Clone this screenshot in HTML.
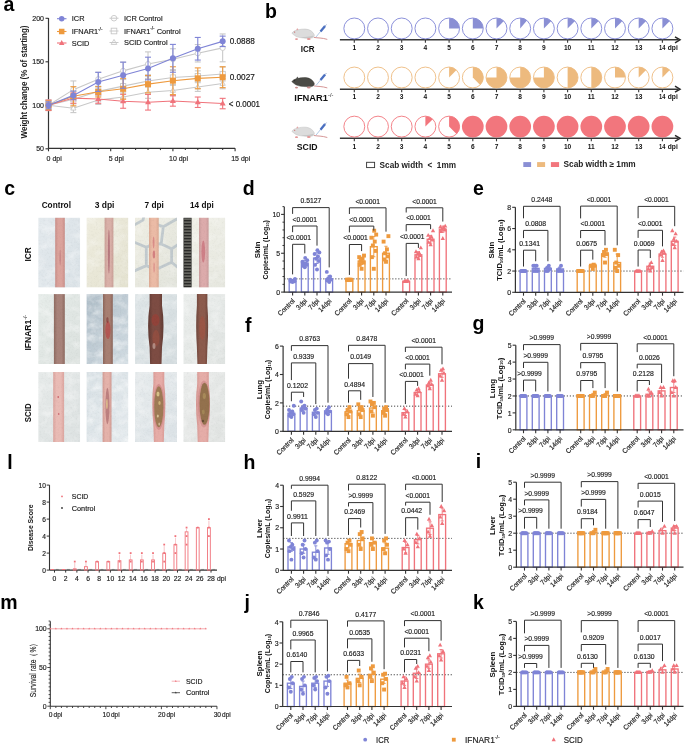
<!DOCTYPE html>
<html><head><meta charset="utf-8"><title>Figure</title>
<style>html,body{margin:0;padding:0;background:#fff;} svg{display:block;will-change:transform;font-family:"Liberation Sans", sans-serif;} svg text{stroke:#222;stroke-width:0.16px;} svg text[font-weight="bold"]{stroke-width:0;}</style>
</head><body>
<svg width="685" height="744" viewBox="0 0 685 744">
<rect width="685" height="744" fill="#fff"/>
<text x="3.5" y="10.9" font-size="19.5" text-anchor="start" fill="#000" dominant-baseline="alphabetic" font-weight="bold" >a</text>
<line x1="48.5" y1="18" x2="48.5" y2="148.3" stroke="#333333" stroke-width="1.2" />
<line x1="48.5" y1="148.3" x2="235.1" y2="148.3" stroke="#333333" stroke-width="1.2" />
<line x1="45.5" y1="148.8" x2="48.5" y2="148.8" stroke="#333333" stroke-width="1.1" />
<text x="44" y="148.8" font-size="7" text-anchor="end" fill="#222" dominant-baseline="central" >50</text>
<line x1="45.5" y1="105.3" x2="48.5" y2="105.3" stroke="#333333" stroke-width="1.1" />
<text x="44" y="105.3" font-size="7" text-anchor="end" fill="#222" dominant-baseline="central" >100</text>
<line x1="45.5" y1="61.8" x2="48.5" y2="61.8" stroke="#333333" stroke-width="1.1" />
<text x="44" y="61.8" font-size="7" text-anchor="end" fill="#222" dominant-baseline="central" >150</text>
<line x1="45.5" y1="18.3" x2="48.5" y2="18.3" stroke="#333333" stroke-width="1.1" />
<text x="44" y="18.3" font-size="7" text-anchor="end" fill="#222" dominant-baseline="central" >200</text>
<line x1="48.5" y1="148.3" x2="48.5" y2="151.3" stroke="#333333" stroke-width="1.1" />
<line x1="60.94" y1="148.3" x2="60.94" y2="150.1" stroke="#333333" stroke-width="1.1" />
<line x1="73.38" y1="148.3" x2="73.38" y2="150.1" stroke="#333333" stroke-width="1.1" />
<line x1="85.82" y1="148.3" x2="85.82" y2="150.1" stroke="#333333" stroke-width="1.1" />
<line x1="98.26" y1="148.3" x2="98.26" y2="150.1" stroke="#333333" stroke-width="1.1" />
<line x1="110.7" y1="148.3" x2="110.7" y2="151.3" stroke="#333333" stroke-width="1.1" />
<line x1="123.14" y1="148.3" x2="123.14" y2="150.1" stroke="#333333" stroke-width="1.1" />
<line x1="135.58" y1="148.3" x2="135.58" y2="150.1" stroke="#333333" stroke-width="1.1" />
<line x1="148.02" y1="148.3" x2="148.02" y2="150.1" stroke="#333333" stroke-width="1.1" />
<line x1="160.46" y1="148.3" x2="160.46" y2="150.1" stroke="#333333" stroke-width="1.1" />
<line x1="172.9" y1="148.3" x2="172.9" y2="151.3" stroke="#333333" stroke-width="1.1" />
<line x1="185.34" y1="148.3" x2="185.34" y2="150.1" stroke="#333333" stroke-width="1.1" />
<line x1="197.78" y1="148.3" x2="197.78" y2="150.1" stroke="#333333" stroke-width="1.1" />
<line x1="210.22" y1="148.3" x2="210.22" y2="150.1" stroke="#333333" stroke-width="1.1" />
<line x1="222.66" y1="148.3" x2="222.66" y2="150.1" stroke="#333333" stroke-width="1.1" />
<line x1="235.1" y1="148.3" x2="235.1" y2="151.3" stroke="#333333" stroke-width="1.1" />
<text x="46.55" y="158" font-size="7" text-anchor="start" fill="#222" dominant-baseline="central" >0 dpi</text>
<text x="108.75" y="158" font-size="7" text-anchor="start" fill="#222" dominant-baseline="central" >5 dpi</text>
<text x="169" y="158" font-size="7" text-anchor="start" fill="#222" dominant-baseline="central" >10 dpi</text>
<text x="231.2" y="158" font-size="7" text-anchor="start" fill="#222" dominant-baseline="central" >15 dpi</text>
<text x="24.5" y="82" font-size="8.2" text-anchor="middle" fill="#222" dominant-baseline="central" font-weight="bold" textLength="113" lengthAdjust="spacingAndGlyphs" transform="rotate(-90 24.5 82)" >Weight change (% of starting)</text>
<polyline points="48.5,105.3 73.38,89.64 98.26,79.2 123.14,70.85 148.02,64.06 172.9,59.19 197.78,53.27 222.66,47.88" fill="none" stroke="#c8c8c8" stroke-width="1.1"/>
<line x1="48.5" y1="100.08" x2="48.5" y2="110.52" stroke="#c8c8c8" stroke-width="1.1" />
<line x1="45.5" y1="100.08" x2="51.5" y2="100.08" stroke="#c8c8c8" stroke-width="1.1" />
<line x1="45.5" y1="110.52" x2="51.5" y2="110.52" stroke="#c8c8c8" stroke-width="1.1" />
<line x1="73.38" y1="80.94" x2="73.38" y2="98.34" stroke="#c8c8c8" stroke-width="1.1" />
<line x1="70.38" y1="80.94" x2="76.38" y2="80.94" stroke="#c8c8c8" stroke-width="1.1" />
<line x1="70.38" y1="98.34" x2="76.38" y2="98.34" stroke="#c8c8c8" stroke-width="1.1" />
<line x1="98.26" y1="72.24" x2="98.26" y2="86.16" stroke="#c8c8c8" stroke-width="1.1" />
<line x1="95.26" y1="72.24" x2="101.26" y2="72.24" stroke="#c8c8c8" stroke-width="1.1" />
<line x1="95.26" y1="86.16" x2="101.26" y2="86.16" stroke="#c8c8c8" stroke-width="1.1" />
<line x1="123.14" y1="62.15" x2="123.14" y2="79.55" stroke="#c8c8c8" stroke-width="1.1" />
<line x1="120.14" y1="62.15" x2="126.14" y2="62.15" stroke="#c8c8c8" stroke-width="1.1" />
<line x1="120.14" y1="79.55" x2="126.14" y2="79.55" stroke="#c8c8c8" stroke-width="1.1" />
<line x1="148.02" y1="51.88" x2="148.02" y2="76.24" stroke="#c8c8c8" stroke-width="1.1" />
<line x1="145.02" y1="51.88" x2="151.02" y2="51.88" stroke="#c8c8c8" stroke-width="1.1" />
<line x1="145.02" y1="76.24" x2="151.02" y2="76.24" stroke="#c8c8c8" stroke-width="1.1" />
<line x1="172.9" y1="48.75" x2="172.9" y2="69.63" stroke="#c8c8c8" stroke-width="1.1" />
<line x1="169.9" y1="48.75" x2="175.9" y2="48.75" stroke="#c8c8c8" stroke-width="1.1" />
<line x1="169.9" y1="69.63" x2="175.9" y2="69.63" stroke="#c8c8c8" stroke-width="1.1" />
<line x1="197.78" y1="44.57" x2="197.78" y2="61.97" stroke="#c8c8c8" stroke-width="1.1" />
<line x1="194.78" y1="44.57" x2="200.78" y2="44.57" stroke="#c8c8c8" stroke-width="1.1" />
<line x1="194.78" y1="61.97" x2="200.78" y2="61.97" stroke="#c8c8c8" stroke-width="1.1" />
<line x1="222.66" y1="33.96" x2="222.66" y2="61.8" stroke="#c8c8c8" stroke-width="1.1" />
<line x1="219.66" y1="33.96" x2="225.66" y2="33.96" stroke="#c8c8c8" stroke-width="1.1" />
<line x1="219.66" y1="61.8" x2="225.66" y2="61.8" stroke="#c8c8c8" stroke-width="1.1" />
<circle cx="48.5" cy="105.3" r="2.6" fill="#fff" stroke="#c8c8c8" stroke-width="0.9" />
<circle cx="73.38" cy="89.64" r="2.6" fill="#fff" stroke="#c8c8c8" stroke-width="0.9" />
<circle cx="98.26" cy="79.2" r="2.6" fill="#fff" stroke="#c8c8c8" stroke-width="0.9" />
<circle cx="123.14" cy="70.85" r="2.6" fill="#fff" stroke="#c8c8c8" stroke-width="0.9" />
<circle cx="148.02" cy="64.06" r="2.6" fill="#fff" stroke="#c8c8c8" stroke-width="0.9" />
<circle cx="172.9" cy="59.19" r="2.6" fill="#fff" stroke="#c8c8c8" stroke-width="0.9" />
<circle cx="197.78" cy="53.27" r="2.6" fill="#fff" stroke="#c8c8c8" stroke-width="0.9" />
<circle cx="222.66" cy="47.88" r="2.6" fill="#fff" stroke="#c8c8c8" stroke-width="0.9" />
<polyline points="48.5,105.3 73.38,99.21 98.26,91.38 123.14,86.16 148.02,80.94 172.9,77.46 197.78,76.07 222.66,73.98" fill="none" stroke="#c8c8c8" stroke-width="1.1"/>
<line x1="48.5" y1="100.08" x2="48.5" y2="110.52" stroke="#c8c8c8" stroke-width="1.1" />
<line x1="45.5" y1="100.08" x2="51.5" y2="100.08" stroke="#c8c8c8" stroke-width="1.1" />
<line x1="45.5" y1="110.52" x2="51.5" y2="110.52" stroke="#c8c8c8" stroke-width="1.1" />
<line x1="73.38" y1="91.38" x2="73.38" y2="107.04" stroke="#c8c8c8" stroke-width="1.1" />
<line x1="70.38" y1="91.38" x2="76.38" y2="91.38" stroke="#c8c8c8" stroke-width="1.1" />
<line x1="70.38" y1="107.04" x2="76.38" y2="107.04" stroke="#c8c8c8" stroke-width="1.1" />
<line x1="98.26" y1="87.03" x2="98.26" y2="95.73" stroke="#c8c8c8" stroke-width="1.1" />
<line x1="95.26" y1="87.03" x2="101.26" y2="87.03" stroke="#c8c8c8" stroke-width="1.1" />
<line x1="95.26" y1="95.73" x2="101.26" y2="95.73" stroke="#c8c8c8" stroke-width="1.1" />
<line x1="123.14" y1="79.2" x2="123.14" y2="93.12" stroke="#c8c8c8" stroke-width="1.1" />
<line x1="120.14" y1="79.2" x2="126.14" y2="79.2" stroke="#c8c8c8" stroke-width="1.1" />
<line x1="120.14" y1="93.12" x2="126.14" y2="93.12" stroke="#c8c8c8" stroke-width="1.1" />
<line x1="148.02" y1="74.85" x2="148.02" y2="87.03" stroke="#c8c8c8" stroke-width="1.1" />
<line x1="145.02" y1="74.85" x2="151.02" y2="74.85" stroke="#c8c8c8" stroke-width="1.1" />
<line x1="145.02" y1="87.03" x2="151.02" y2="87.03" stroke="#c8c8c8" stroke-width="1.1" />
<line x1="172.9" y1="70.5" x2="172.9" y2="84.42" stroke="#c8c8c8" stroke-width="1.1" />
<line x1="169.9" y1="70.5" x2="175.9" y2="70.5" stroke="#c8c8c8" stroke-width="1.1" />
<line x1="169.9" y1="84.42" x2="175.9" y2="84.42" stroke="#c8c8c8" stroke-width="1.1" />
<line x1="197.78" y1="70.85" x2="197.78" y2="81.29" stroke="#c8c8c8" stroke-width="1.1" />
<line x1="194.78" y1="70.85" x2="200.78" y2="70.85" stroke="#c8c8c8" stroke-width="1.1" />
<line x1="194.78" y1="81.29" x2="200.78" y2="81.29" stroke="#c8c8c8" stroke-width="1.1" />
<line x1="222.66" y1="67.02" x2="222.66" y2="80.94" stroke="#c8c8c8" stroke-width="1.1" />
<line x1="219.66" y1="67.02" x2="225.66" y2="67.02" stroke="#c8c8c8" stroke-width="1.1" />
<line x1="219.66" y1="80.94" x2="225.66" y2="80.94" stroke="#c8c8c8" stroke-width="1.1" />
<rect x="45.9" y="102.7" width="5.2" height="5.2" fill="#fff" stroke="#c8c8c8" stroke-width="0.9" />
<rect x="70.78" y="96.61" width="5.2" height="5.2" fill="#fff" stroke="#c8c8c8" stroke-width="0.9" />
<rect x="95.66" y="88.78" width="5.2" height="5.2" fill="#fff" stroke="#c8c8c8" stroke-width="0.9" />
<rect x="120.54" y="83.56" width="5.2" height="5.2" fill="#fff" stroke="#c8c8c8" stroke-width="0.9" />
<rect x="145.42" y="78.34" width="5.2" height="5.2" fill="#fff" stroke="#c8c8c8" stroke-width="0.9" />
<rect x="170.3" y="74.86" width="5.2" height="5.2" fill="#fff" stroke="#c8c8c8" stroke-width="0.9" />
<rect x="195.18" y="73.47" width="5.2" height="5.2" fill="#fff" stroke="#c8c8c8" stroke-width="0.9" />
<rect x="220.06" y="71.38" width="5.2" height="5.2" fill="#fff" stroke="#c8c8c8" stroke-width="0.9" />
<polyline points="48.5,105.3 73.38,108.26 98.26,100.08 123.14,97.03 148.02,92.25 172.9,90.51 197.78,87.03 222.66,83.55" fill="none" stroke="#c8c8c8" stroke-width="1.1"/>
<line x1="48.5" y1="100.95" x2="48.5" y2="109.65" stroke="#c8c8c8" stroke-width="1.1" />
<line x1="45.5" y1="100.95" x2="51.5" y2="100.95" stroke="#c8c8c8" stroke-width="1.1" />
<line x1="45.5" y1="109.65" x2="51.5" y2="109.65" stroke="#c8c8c8" stroke-width="1.1" />
<line x1="73.38" y1="103.91" x2="73.38" y2="112.61" stroke="#c8c8c8" stroke-width="1.1" />
<line x1="70.38" y1="103.91" x2="76.38" y2="103.91" stroke="#c8c8c8" stroke-width="1.1" />
<line x1="70.38" y1="112.61" x2="76.38" y2="112.61" stroke="#c8c8c8" stroke-width="1.1" />
<line x1="98.26" y1="95.73" x2="98.26" y2="104.43" stroke="#c8c8c8" stroke-width="1.1" />
<line x1="95.26" y1="95.73" x2="101.26" y2="95.73" stroke="#c8c8c8" stroke-width="1.1" />
<line x1="95.26" y1="104.43" x2="101.26" y2="104.43" stroke="#c8c8c8" stroke-width="1.1" />
<line x1="123.14" y1="91.81" x2="123.14" y2="102.25" stroke="#c8c8c8" stroke-width="1.1" />
<line x1="120.14" y1="91.81" x2="126.14" y2="91.81" stroke="#c8c8c8" stroke-width="1.1" />
<line x1="120.14" y1="102.25" x2="126.14" y2="102.25" stroke="#c8c8c8" stroke-width="1.1" />
<line x1="148.02" y1="86.16" x2="148.02" y2="98.34" stroke="#c8c8c8" stroke-width="1.1" />
<line x1="145.02" y1="86.16" x2="151.02" y2="86.16" stroke="#c8c8c8" stroke-width="1.1" />
<line x1="145.02" y1="98.34" x2="151.02" y2="98.34" stroke="#c8c8c8" stroke-width="1.1" />
<line x1="172.9" y1="85.29" x2="172.9" y2="95.73" stroke="#c8c8c8" stroke-width="1.1" />
<line x1="169.9" y1="85.29" x2="175.9" y2="85.29" stroke="#c8c8c8" stroke-width="1.1" />
<line x1="169.9" y1="95.73" x2="175.9" y2="95.73" stroke="#c8c8c8" stroke-width="1.1" />
<line x1="197.78" y1="82.68" x2="197.78" y2="91.38" stroke="#c8c8c8" stroke-width="1.1" />
<line x1="194.78" y1="82.68" x2="200.78" y2="82.68" stroke="#c8c8c8" stroke-width="1.1" />
<line x1="194.78" y1="91.38" x2="200.78" y2="91.38" stroke="#c8c8c8" stroke-width="1.1" />
<line x1="222.66" y1="78.33" x2="222.66" y2="88.77" stroke="#c8c8c8" stroke-width="1.1" />
<line x1="219.66" y1="78.33" x2="225.66" y2="78.33" stroke="#c8c8c8" stroke-width="1.1" />
<line x1="219.66" y1="88.77" x2="225.66" y2="88.77" stroke="#c8c8c8" stroke-width="1.1" />
<path d="M48.5,102.4 L51.1,107.08 L45.9,107.08 Z" stroke="#c8c8c8" stroke-width="0.9" fill="#fff" />
<path d="M73.38,105.36 L75.98,110.04 L70.78,110.04 Z" stroke="#c8c8c8" stroke-width="0.9" fill="#fff" />
<path d="M98.26,97.18 L100.86,101.86 L95.66,101.86 Z" stroke="#c8c8c8" stroke-width="0.9" fill="#fff" />
<path d="M123.14,94.13 L125.74,98.81 L120.54,98.81 Z" stroke="#c8c8c8" stroke-width="0.9" fill="#fff" />
<path d="M148.02,89.35 L150.62,94.03 L145.42,94.03 Z" stroke="#c8c8c8" stroke-width="0.9" fill="#fff" />
<path d="M172.9,87.61 L175.5,92.29 L170.3,92.29 Z" stroke="#c8c8c8" stroke-width="0.9" fill="#fff" />
<path d="M197.78,84.13 L200.38,88.81 L195.18,88.81 Z" stroke="#c8c8c8" stroke-width="0.9" fill="#fff" />
<path d="M222.66,80.65 L225.26,85.33 L220.06,85.33 Z" stroke="#c8c8c8" stroke-width="0.9" fill="#fff" />
<polyline points="48.5,105.3 73.38,98.08 98.26,98.95 123.14,101.3 148.02,102.25 172.9,100.95 197.78,102.25 222.66,103.56" fill="none" stroke="#f0737b" stroke-width="1.1"/>
<line x1="48.5" y1="100.08" x2="48.5" y2="110.52" stroke="#f0737b" stroke-width="1.1" />
<line x1="45.5" y1="100.08" x2="51.5" y2="100.08" stroke="#f0737b" stroke-width="1.1" />
<line x1="45.5" y1="110.52" x2="51.5" y2="110.52" stroke="#f0737b" stroke-width="1.1" />
<line x1="73.38" y1="92.86" x2="73.38" y2="103.3" stroke="#f0737b" stroke-width="1.1" />
<line x1="70.38" y1="92.86" x2="76.38" y2="92.86" stroke="#f0737b" stroke-width="1.1" />
<line x1="70.38" y1="103.3" x2="76.38" y2="103.3" stroke="#f0737b" stroke-width="1.1" />
<line x1="98.26" y1="94.6" x2="98.26" y2="103.3" stroke="#f0737b" stroke-width="1.1" />
<line x1="95.26" y1="94.6" x2="101.26" y2="94.6" stroke="#f0737b" stroke-width="1.1" />
<line x1="95.26" y1="103.3" x2="101.26" y2="103.3" stroke="#f0737b" stroke-width="1.1" />
<line x1="123.14" y1="94.34" x2="123.14" y2="108.26" stroke="#f0737b" stroke-width="1.1" />
<line x1="120.14" y1="94.34" x2="126.14" y2="94.34" stroke="#f0737b" stroke-width="1.1" />
<line x1="120.14" y1="108.26" x2="126.14" y2="108.26" stroke="#f0737b" stroke-width="1.1" />
<line x1="148.02" y1="94.42" x2="148.02" y2="110.08" stroke="#f0737b" stroke-width="1.1" />
<line x1="145.02" y1="94.42" x2="151.02" y2="94.42" stroke="#f0737b" stroke-width="1.1" />
<line x1="145.02" y1="110.08" x2="151.02" y2="110.08" stroke="#f0737b" stroke-width="1.1" />
<line x1="172.9" y1="95.73" x2="172.9" y2="106.17" stroke="#f0737b" stroke-width="1.1" />
<line x1="169.9" y1="95.73" x2="175.9" y2="95.73" stroke="#f0737b" stroke-width="1.1" />
<line x1="169.9" y1="106.17" x2="175.9" y2="106.17" stroke="#f0737b" stroke-width="1.1" />
<line x1="197.78" y1="97.03" x2="197.78" y2="107.47" stroke="#f0737b" stroke-width="1.1" />
<line x1="194.78" y1="97.03" x2="200.78" y2="97.03" stroke="#f0737b" stroke-width="1.1" />
<line x1="194.78" y1="107.47" x2="200.78" y2="107.47" stroke="#f0737b" stroke-width="1.1" />
<line x1="222.66" y1="98.34" x2="222.66" y2="108.78" stroke="#f0737b" stroke-width="1.1" />
<line x1="219.66" y1="98.34" x2="225.66" y2="98.34" stroke="#f0737b" stroke-width="1.1" />
<line x1="219.66" y1="108.78" x2="225.66" y2="108.78" stroke="#f0737b" stroke-width="1.1" />
<path d="M48.5,101.95 L51.5,107.35 L45.5,107.35 Z" stroke="none" stroke-width="1" fill="#f0737b" />
<path d="M73.38,94.73 L76.38,100.13 L70.38,100.13 Z" stroke="none" stroke-width="1" fill="#f0737b" />
<path d="M98.26,95.6 L101.26,101 L95.26,101 Z" stroke="none" stroke-width="1" fill="#f0737b" />
<path d="M123.14,97.95 L126.14,103.35 L120.14,103.35 Z" stroke="none" stroke-width="1" fill="#f0737b" />
<path d="M148.02,98.91 L151.02,104.31 L145.02,104.31 Z" stroke="none" stroke-width="1" fill="#f0737b" />
<path d="M172.9,97.6 L175.9,103 L169.9,103 Z" stroke="none" stroke-width="1" fill="#f0737b" />
<path d="M197.78,98.91 L200.78,104.31 L194.78,104.31 Z" stroke="none" stroke-width="1" fill="#f0737b" />
<path d="M222.66,100.21 L225.66,105.61 L219.66,105.61 Z" stroke="none" stroke-width="1" fill="#f0737b" />
<polyline points="48.5,105.3 73.38,96.25 98.26,91.81 123.14,88.77 148.02,84.16 172.9,80.68 197.78,78.33 222.66,77.2" fill="none" stroke="#ee9a3e" stroke-width="1.1"/>
<line x1="48.5" y1="100.95" x2="48.5" y2="109.65" stroke="#ee9a3e" stroke-width="1.1" />
<line x1="45.5" y1="100.95" x2="51.5" y2="100.95" stroke="#ee9a3e" stroke-width="1.1" />
<line x1="45.5" y1="109.65" x2="51.5" y2="109.65" stroke="#ee9a3e" stroke-width="1.1" />
<line x1="73.38" y1="86.68" x2="73.38" y2="105.82" stroke="#ee9a3e" stroke-width="1.1" />
<line x1="70.38" y1="86.68" x2="76.38" y2="86.68" stroke="#ee9a3e" stroke-width="1.1" />
<line x1="70.38" y1="105.82" x2="76.38" y2="105.82" stroke="#ee9a3e" stroke-width="1.1" />
<line x1="98.26" y1="86.59" x2="98.26" y2="97.03" stroke="#ee9a3e" stroke-width="1.1" />
<line x1="95.26" y1="86.59" x2="101.26" y2="86.59" stroke="#ee9a3e" stroke-width="1.1" />
<line x1="95.26" y1="97.03" x2="101.26" y2="97.03" stroke="#ee9a3e" stroke-width="1.1" />
<line x1="123.14" y1="78.33" x2="123.14" y2="99.21" stroke="#ee9a3e" stroke-width="1.1" />
<line x1="120.14" y1="78.33" x2="126.14" y2="78.33" stroke="#ee9a3e" stroke-width="1.1" />
<line x1="120.14" y1="99.21" x2="126.14" y2="99.21" stroke="#ee9a3e" stroke-width="1.1" />
<line x1="148.02" y1="75.46" x2="148.02" y2="92.86" stroke="#ee9a3e" stroke-width="1.1" />
<line x1="145.02" y1="75.46" x2="151.02" y2="75.46" stroke="#ee9a3e" stroke-width="1.1" />
<line x1="145.02" y1="92.86" x2="151.02" y2="92.86" stroke="#ee9a3e" stroke-width="1.1" />
<line x1="172.9" y1="66.76" x2="172.9" y2="94.6" stroke="#ee9a3e" stroke-width="1.1" />
<line x1="169.9" y1="66.76" x2="175.9" y2="66.76" stroke="#ee9a3e" stroke-width="1.1" />
<line x1="169.9" y1="94.6" x2="175.9" y2="94.6" stroke="#ee9a3e" stroke-width="1.1" />
<line x1="197.78" y1="67.89" x2="197.78" y2="88.77" stroke="#ee9a3e" stroke-width="1.1" />
<line x1="194.78" y1="67.89" x2="200.78" y2="67.89" stroke="#ee9a3e" stroke-width="1.1" />
<line x1="194.78" y1="88.77" x2="200.78" y2="88.77" stroke="#ee9a3e" stroke-width="1.1" />
<line x1="222.66" y1="66.76" x2="222.66" y2="87.64" stroke="#ee9a3e" stroke-width="1.1" />
<line x1="219.66" y1="66.76" x2="225.66" y2="66.76" stroke="#ee9a3e" stroke-width="1.1" />
<line x1="219.66" y1="87.64" x2="225.66" y2="87.64" stroke="#ee9a3e" stroke-width="1.1" />
<rect x="45.5" y="102.3" width="6" height="6" fill="#ee9a3e" stroke="none" stroke-width="1" />
<rect x="70.38" y="93.25" width="6" height="6" fill="#ee9a3e" stroke="none" stroke-width="1" />
<rect x="95.26" y="88.81" width="6" height="6" fill="#ee9a3e" stroke="none" stroke-width="1" />
<rect x="120.14" y="85.77" width="6" height="6" fill="#ee9a3e" stroke="none" stroke-width="1" />
<rect x="145.02" y="81.16" width="6" height="6" fill="#ee9a3e" stroke="none" stroke-width="1" />
<rect x="169.9" y="77.68" width="6" height="6" fill="#ee9a3e" stroke="none" stroke-width="1" />
<rect x="194.78" y="75.33" width="6" height="6" fill="#ee9a3e" stroke="none" stroke-width="1" />
<rect x="219.66" y="74.2" width="6" height="6" fill="#ee9a3e" stroke="none" stroke-width="1" />
<polyline points="48.5,105.3 73.38,95.38 98.26,81.9 123.14,75.2 148.02,68.5 172.9,58.32 197.78,48.75 222.66,41.35" fill="none" stroke="#7f84d6" stroke-width="1.1"/>
<line x1="48.5" y1="101.82" x2="48.5" y2="108.78" stroke="#7f84d6" stroke-width="1.1" />
<line x1="45.5" y1="101.82" x2="51.5" y2="101.82" stroke="#7f84d6" stroke-width="1.1" />
<line x1="45.5" y1="108.78" x2="51.5" y2="108.78" stroke="#7f84d6" stroke-width="1.1" />
<line x1="73.38" y1="91.03" x2="73.38" y2="99.73" stroke="#7f84d6" stroke-width="1.1" />
<line x1="70.38" y1="91.03" x2="76.38" y2="91.03" stroke="#7f84d6" stroke-width="1.1" />
<line x1="70.38" y1="99.73" x2="76.38" y2="99.73" stroke="#7f84d6" stroke-width="1.1" />
<line x1="98.26" y1="72.33" x2="98.26" y2="91.47" stroke="#7f84d6" stroke-width="1.1" />
<line x1="95.26" y1="72.33" x2="101.26" y2="72.33" stroke="#7f84d6" stroke-width="1.1" />
<line x1="95.26" y1="91.47" x2="101.26" y2="91.47" stroke="#7f84d6" stroke-width="1.1" />
<line x1="123.14" y1="62.15" x2="123.14" y2="88.25" stroke="#7f84d6" stroke-width="1.1" />
<line x1="120.14" y1="62.15" x2="126.14" y2="62.15" stroke="#7f84d6" stroke-width="1.1" />
<line x1="120.14" y1="88.25" x2="126.14" y2="88.25" stroke="#7f84d6" stroke-width="1.1" />
<line x1="148.02" y1="57.19" x2="148.02" y2="79.81" stroke="#7f84d6" stroke-width="1.1" />
<line x1="145.02" y1="57.19" x2="151.02" y2="57.19" stroke="#7f84d6" stroke-width="1.1" />
<line x1="145.02" y1="79.81" x2="151.02" y2="79.81" stroke="#7f84d6" stroke-width="1.1" />
<line x1="172.9" y1="44.4" x2="172.9" y2="72.24" stroke="#7f84d6" stroke-width="1.1" />
<line x1="169.9" y1="44.4" x2="175.9" y2="44.4" stroke="#7f84d6" stroke-width="1.1" />
<line x1="169.9" y1="72.24" x2="175.9" y2="72.24" stroke="#7f84d6" stroke-width="1.1" />
<line x1="197.78" y1="37.44" x2="197.78" y2="60.06" stroke="#7f84d6" stroke-width="1.1" />
<line x1="194.78" y1="37.44" x2="200.78" y2="37.44" stroke="#7f84d6" stroke-width="1.1" />
<line x1="194.78" y1="60.06" x2="200.78" y2="60.06" stroke="#7f84d6" stroke-width="1.1" />
<line x1="222.66" y1="36.13" x2="222.66" y2="46.57" stroke="#7f84d6" stroke-width="1.1" />
<line x1="219.66" y1="36.13" x2="225.66" y2="36.13" stroke="#7f84d6" stroke-width="1.1" />
<line x1="219.66" y1="46.57" x2="225.66" y2="46.57" stroke="#7f84d6" stroke-width="1.1" />
<circle cx="48.5" cy="105.3" r="3" fill="#7f84d6" stroke="none" stroke-width="1" />
<circle cx="73.38" cy="95.38" r="3" fill="#7f84d6" stroke="none" stroke-width="1" />
<circle cx="98.26" cy="81.9" r="3" fill="#7f84d6" stroke="none" stroke-width="1" />
<circle cx="123.14" cy="75.2" r="3" fill="#7f84d6" stroke="none" stroke-width="1" />
<circle cx="148.02" cy="68.5" r="3" fill="#7f84d6" stroke="none" stroke-width="1" />
<circle cx="172.9" cy="58.32" r="3" fill="#7f84d6" stroke="none" stroke-width="1" />
<circle cx="197.78" cy="48.75" r="3" fill="#7f84d6" stroke="none" stroke-width="1" />
<circle cx="222.66" cy="41.35" r="3" fill="#7f84d6" stroke="none" stroke-width="1" />
<text x="229.7" y="41" font-size="8.3" text-anchor="start" fill="#111" dominant-baseline="central" textLength="25.1" lengthAdjust="spacingAndGlyphs" >0.0888</text>
<text x="229.7" y="77" font-size="8.3" text-anchor="start" fill="#111" dominant-baseline="central" textLength="25.1" lengthAdjust="spacingAndGlyphs" >0.0027</text>
<text x="228.8" y="104" font-size="8.3" text-anchor="start" fill="#111" dominant-baseline="central" textLength="31.2" lengthAdjust="spacingAndGlyphs" >&lt; 0.0001</text>
<line x1="57" y1="18.7" x2="66.5" y2="18.7" stroke="#7f84d6" stroke-width="1.1" />
<circle cx="61.7" cy="18.7" r="2.75" fill="#7f84d6" stroke="none" stroke-width="1" />
<text x="71.8" y="18.7" font-size="7.4" text-anchor="start" fill="#222" dominant-baseline="central" >ICR</text>
<line x1="57" y1="31.5" x2="66.5" y2="31.5" stroke="#ee9a3e" stroke-width="1.1" />
<rect x="58.95" y="28.75" width="5.5" height="5.5" fill="#ee9a3e" stroke="none" stroke-width="1" />
<text x="71.8" y="31.5" font-size="7.4" fill="#222" dominant-baseline="central">IFNAR1<tspan font-size="4.6" dy="-2.6">-/-</tspan></text>
<line x1="57" y1="43" x2="66.5" y2="43" stroke="#f0737b" stroke-width="1.1" />
<path d="M61.7,39.93 L64.45,44.88 L58.95,44.88 Z" stroke="none" stroke-width="1" fill="#f0737b" />
<text x="71.8" y="43" font-size="7.4" text-anchor="start" fill="#222" dominant-baseline="central" >SCID</text>
<line x1="109.5" y1="18.2" x2="118.5" y2="18.2" stroke="#c8c8c8" stroke-width="1" />
<circle cx="114" cy="18.2" r="2.8" fill="none" stroke="#c8c8c8" stroke-width="0.9" />
<text x="124" y="18.2" font-size="7.4" text-anchor="start" fill="#222" dominant-baseline="central" >ICR Control</text>
<line x1="109.5" y1="31" x2="118.5" y2="31" stroke="#c8c8c8" stroke-width="1" />
<rect x="111.2" y="28.2" width="5.6" height="5.6" fill="none" stroke="#c8c8c8" stroke-width="0.9" />
<text x="124" y="31" font-size="7.4" fill="#222" dominant-baseline="central">IFNAR1<tspan font-size="4.6" dy="-2.6">-/-</tspan><tspan dy="2.6"> Control</tspan></text>
<line x1="109.5" y1="42.5" x2="118.5" y2="42.5" stroke="#c8c8c8" stroke-width="1" />
<path d="M114,39.38 L116.8,44.42 L111.2,44.42 Z" stroke="#c8c8c8" stroke-width="0.9" fill="none" />
<text x="124" y="42.5" font-size="7.4" text-anchor="start" fill="#222" dominant-baseline="central" >SCID Control</text>
<text x="265" y="17.5" font-size="19.5" text-anchor="start" fill="#000" dominant-baseline="alphabetic" font-weight="bold" >b</text>
<line x1="339.9" y1="39.8" x2="678" y2="39.8" stroke="#383838" stroke-width="1.4" />
<path d="M675,36.8 L680,39.8 L675,42.8" stroke="#2a2a2a" stroke-width="1.5" fill="none" />
<line x1="354.3" y1="39.8" x2="354.3" y2="42.8" stroke="#383838" stroke-width="1.1" />
<circle cx="354.3" cy="28.45" r="10.45" fill="#fff" stroke="#7f84d6" stroke-width="0.9" />
<text x="354.3" y="47.4" font-size="6.6" text-anchor="middle" fill="#111" dominant-baseline="central" font-weight="bold" >1</text>
<line x1="378" y1="39.8" x2="378" y2="42.8" stroke="#383838" stroke-width="1.1" />
<circle cx="378" cy="28.45" r="10.45" fill="#fff" stroke="#7f84d6" stroke-width="0.9" />
<text x="378" y="47.4" font-size="6.6" text-anchor="middle" fill="#111" dominant-baseline="central" font-weight="bold" >2</text>
<line x1="401.7" y1="39.8" x2="401.7" y2="42.8" stroke="#383838" stroke-width="1.1" />
<circle cx="401.7" cy="28.45" r="10.45" fill="#fff" stroke="#7f84d6" stroke-width="0.9" />
<text x="401.7" y="47.4" font-size="6.6" text-anchor="middle" fill="#111" dominant-baseline="central" font-weight="bold" >3</text>
<line x1="425.4" y1="39.8" x2="425.4" y2="42.8" stroke="#383838" stroke-width="1.1" />
<circle cx="425.4" cy="28.45" r="10.45" fill="#fff" stroke="#7f84d6" stroke-width="0.9" />
<text x="425.4" y="47.4" font-size="6.6" text-anchor="middle" fill="#111" dominant-baseline="central" font-weight="bold" >4</text>
<line x1="449.1" y1="39.8" x2="449.1" y2="42.8" stroke="#383838" stroke-width="1.1" />
<circle cx="449.1" cy="28.45" r="10.45" fill="#fff" stroke="#7f84d6" stroke-width="0.9" />
<path d="M449.1,28.45 L449.1,18 A10.45,10.45 0 0 1 459.55,28.45 Z" stroke="none" stroke-width="1" fill="#8a8fd4" />
<text x="449.1" y="47.4" font-size="6.6" text-anchor="middle" fill="#111" dominant-baseline="central" font-weight="bold" >5</text>
<line x1="472.8" y1="39.8" x2="472.8" y2="42.8" stroke="#383838" stroke-width="1.1" />
<circle cx="472.8" cy="28.45" r="10.45" fill="#fff" stroke="#7f84d6" stroke-width="0.9" />
<path d="M472.8,28.45 L472.8,18 A10.45,10.45 0 0 1 483.25,28.45 Z" stroke="none" stroke-width="1" fill="#8a8fd4" />
<text x="472.8" y="47.4" font-size="6.6" text-anchor="middle" fill="#111" dominant-baseline="central" font-weight="bold" >6</text>
<line x1="496.5" y1="39.8" x2="496.5" y2="42.8" stroke="#383838" stroke-width="1.1" />
<circle cx="496.5" cy="28.45" r="10.45" fill="#fff" stroke="#7f84d6" stroke-width="0.9" />
<path d="M496.5,28.45 L496.5,18 A10.45,10.45 0 0 1 503.89,21.06 Z" stroke="none" stroke-width="1" fill="#8a8fd4" />
<text x="496.5" y="47.4" font-size="6.6" text-anchor="middle" fill="#111" dominant-baseline="central" font-weight="bold" >7</text>
<line x1="520.2" y1="39.8" x2="520.2" y2="42.8" stroke="#383838" stroke-width="1.1" />
<circle cx="520.2" cy="28.45" r="10.45" fill="#fff" stroke="#7f84d6" stroke-width="0.9" />
<path d="M520.2,28.45 L520.2,18 A10.45,10.45 0 0 1 526.92,20.44 Z" stroke="none" stroke-width="1" fill="#8a8fd4" />
<text x="520.2" y="47.4" font-size="6.6" text-anchor="middle" fill="#111" dominant-baseline="central" font-weight="bold" >8</text>
<line x1="543.9" y1="39.8" x2="543.9" y2="42.8" stroke="#383838" stroke-width="1.1" />
<circle cx="543.9" cy="28.45" r="10.45" fill="#fff" stroke="#7f84d6" stroke-width="0.9" />
<path d="M543.9,28.45 L543.9,18 A10.45,10.45 0 0 1 551.29,21.06 Z" stroke="none" stroke-width="1" fill="#8a8fd4" />
<text x="543.9" y="47.4" font-size="6.6" text-anchor="middle" fill="#111" dominant-baseline="central" font-weight="bold" >9</text>
<line x1="567.6" y1="39.8" x2="567.6" y2="42.8" stroke="#383838" stroke-width="1.1" />
<circle cx="567.6" cy="28.45" r="10.45" fill="#fff" stroke="#7f84d6" stroke-width="0.9" />
<path d="M567.6,28.45 L567.6,18 A10.45,10.45 0 0 1 574.99,21.06 Z" stroke="none" stroke-width="1" fill="#8a8fd4" />
<text x="567.6" y="47.4" font-size="6.6" text-anchor="middle" fill="#111" dominant-baseline="central" font-weight="bold" >10</text>
<line x1="591.3" y1="39.8" x2="591.3" y2="42.8" stroke="#383838" stroke-width="1.1" />
<circle cx="591.3" cy="28.45" r="10.45" fill="#fff" stroke="#7f84d6" stroke-width="0.9" />
<path d="M591.3,28.45 L591.3,18 A10.45,10.45 0 0 1 598.69,21.06 Z" stroke="none" stroke-width="1" fill="#8a8fd4" />
<text x="591.3" y="47.4" font-size="6.6" text-anchor="middle" fill="#111" dominant-baseline="central" font-weight="bold" >11</text>
<line x1="615" y1="39.8" x2="615" y2="42.8" stroke="#383838" stroke-width="1.1" />
<circle cx="615" cy="28.45" r="10.45" fill="#fff" stroke="#7f84d6" stroke-width="0.9" />
<path d="M615,28.45 L615,18 A10.45,10.45 0 0 1 622.39,21.06 Z" stroke="none" stroke-width="1" fill="#8a8fd4" />
<text x="615" y="47.4" font-size="6.6" text-anchor="middle" fill="#111" dominant-baseline="central" font-weight="bold" >12</text>
<line x1="638.7" y1="39.8" x2="638.7" y2="42.8" stroke="#383838" stroke-width="1.1" />
<circle cx="638.7" cy="28.45" r="10.45" fill="#fff" stroke="#7f84d6" stroke-width="0.9" />
<path d="M638.7,28.45 L638.7,18 A10.45,10.45 0 0 1 646.09,21.06 Z" stroke="none" stroke-width="1" fill="#8a8fd4" />
<text x="638.7" y="47.4" font-size="6.6" text-anchor="middle" fill="#111" dominant-baseline="central" font-weight="bold" >13</text>
<line x1="662.4" y1="39.8" x2="662.4" y2="42.8" stroke="#383838" stroke-width="1.1" />
<circle cx="662.4" cy="28.45" r="10.45" fill="#fff" stroke="#7f84d6" stroke-width="0.9" />
<path d="M662.4,28.45 L662.4,18 A10.45,10.45 0 0 1 669.79,21.06 Z" stroke="none" stroke-width="1" fill="#8a8fd4" />
<text x="659" y="47.4" font-size="6.6" text-anchor="start" fill="#111" dominant-baseline="central" font-weight="bold" textLength="6.4" lengthAdjust="spacingAndGlyphs" >14</text>
<text x="667.8" y="47.6" font-size="7.2" text-anchor="start" fill="#111" dominant-baseline="central" font-weight="bold" textLength="10" lengthAdjust="spacingAndGlyphs" >dpi</text>
<line x1="339.9" y1="89.2" x2="678" y2="89.2" stroke="#383838" stroke-width="1.4" />
<path d="M675,86.2 L680,89.2 L675,92.2" stroke="#2a2a2a" stroke-width="1.5" fill="none" />
<line x1="354.3" y1="89.2" x2="354.3" y2="92.2" stroke="#383838" stroke-width="1.1" />
<circle cx="354.3" cy="77.5" r="10.45" fill="#fff" stroke="#edba7e" stroke-width="0.9" />
<text x="354.3" y="96.6" font-size="6.6" text-anchor="middle" fill="#111" dominant-baseline="central" font-weight="bold" >1</text>
<line x1="378" y1="89.2" x2="378" y2="92.2" stroke="#383838" stroke-width="1.1" />
<circle cx="378" cy="77.5" r="10.45" fill="#fff" stroke="#edba7e" stroke-width="0.9" />
<text x="378" y="96.6" font-size="6.6" text-anchor="middle" fill="#111" dominant-baseline="central" font-weight="bold" >2</text>
<line x1="401.7" y1="89.2" x2="401.7" y2="92.2" stroke="#383838" stroke-width="1.1" />
<circle cx="401.7" cy="77.5" r="10.45" fill="#fff" stroke="#edba7e" stroke-width="0.9" />
<text x="401.7" y="96.6" font-size="6.6" text-anchor="middle" fill="#111" dominant-baseline="central" font-weight="bold" >3</text>
<line x1="425.4" y1="89.2" x2="425.4" y2="92.2" stroke="#383838" stroke-width="1.1" />
<circle cx="425.4" cy="77.5" r="10.45" fill="#fff" stroke="#edba7e" stroke-width="0.9" />
<text x="425.4" y="96.6" font-size="6.6" text-anchor="middle" fill="#111" dominant-baseline="central" font-weight="bold" >4</text>
<line x1="449.1" y1="89.2" x2="449.1" y2="92.2" stroke="#383838" stroke-width="1.1" />
<circle cx="449.1" cy="77.5" r="10.45" fill="#fff" stroke="#edba7e" stroke-width="0.9" />
<path d="M449.1,77.5 L449.1,67.05 A10.45,10.45 0 0 1 456.49,70.11 Z" stroke="none" stroke-width="1" fill="#edba7e" />
<text x="449.1" y="96.6" font-size="6.6" text-anchor="middle" fill="#111" dominant-baseline="central" font-weight="bold" >5</text>
<line x1="472.8" y1="89.2" x2="472.8" y2="92.2" stroke="#383838" stroke-width="1.1" />
<circle cx="472.8" cy="77.5" r="10.45" fill="#fff" stroke="#edba7e" stroke-width="0.9" />
<path d="M472.8,77.5 L472.8,67.05 A10.45,10.45 0 0 1 480.19,84.89 Z" stroke="none" stroke-width="1" fill="#edba7e" />
<text x="472.8" y="96.6" font-size="6.6" text-anchor="middle" fill="#111" dominant-baseline="central" font-weight="bold" >6</text>
<line x1="496.5" y1="89.2" x2="496.5" y2="92.2" stroke="#383838" stroke-width="1.1" />
<circle cx="496.5" cy="77.5" r="10.45" fill="#fff" stroke="#edba7e" stroke-width="0.9" />
<path d="M496.5,77.5 L496.5,67.05 A10.45,10.45 0 1 1 486.05,77.5 Z" stroke="none" stroke-width="1" fill="#edba7e" />
<text x="496.5" y="96.6" font-size="6.6" text-anchor="middle" fill="#111" dominant-baseline="central" font-weight="bold" >7</text>
<line x1="520.2" y1="89.2" x2="520.2" y2="92.2" stroke="#383838" stroke-width="1.1" />
<circle cx="520.2" cy="77.5" r="10.45" fill="#fff" stroke="#edba7e" stroke-width="0.9" />
<path d="M520.2,77.5 L520.2,67.05 A10.45,10.45 0 1 1 509.75,77.5 Z" stroke="none" stroke-width="1" fill="#edba7e" />
<text x="520.2" y="96.6" font-size="6.6" text-anchor="middle" fill="#111" dominant-baseline="central" font-weight="bold" >8</text>
<line x1="543.9" y1="89.2" x2="543.9" y2="92.2" stroke="#383838" stroke-width="1.1" />
<circle cx="543.9" cy="77.5" r="10.45" fill="#fff" stroke="#edba7e" stroke-width="0.9" />
<path d="M543.9,77.5 L543.9,67.05 A10.45,10.45 0 1 1 533.45,77.5 Z" stroke="none" stroke-width="1" fill="#edba7e" />
<text x="543.9" y="96.6" font-size="6.6" text-anchor="middle" fill="#111" dominant-baseline="central" font-weight="bold" >9</text>
<line x1="567.6" y1="89.2" x2="567.6" y2="92.2" stroke="#383838" stroke-width="1.1" />
<circle cx="567.6" cy="77.5" r="10.45" fill="#fff" stroke="#edba7e" stroke-width="0.9" />
<path d="M567.6,77.5 L567.6,67.05 A10.45,10.45 0 0 1 567.6,87.95 Z" stroke="none" stroke-width="1" fill="#edba7e" />
<text x="567.6" y="96.6" font-size="6.6" text-anchor="middle" fill="#111" dominant-baseline="central" font-weight="bold" >10</text>
<line x1="591.3" y1="89.2" x2="591.3" y2="92.2" stroke="#383838" stroke-width="1.1" />
<circle cx="591.3" cy="77.5" r="10.45" fill="#fff" stroke="#edba7e" stroke-width="0.9" />
<path d="M591.3,77.5 L591.3,67.05 A10.45,10.45 0 0 1 591.3,87.95 Z" stroke="none" stroke-width="1" fill="#edba7e" />
<text x="591.3" y="96.6" font-size="6.6" text-anchor="middle" fill="#111" dominant-baseline="central" font-weight="bold" >11</text>
<line x1="615" y1="89.2" x2="615" y2="92.2" stroke="#383838" stroke-width="1.1" />
<circle cx="615" cy="77.5" r="10.45" fill="#fff" stroke="#edba7e" stroke-width="0.9" />
<path d="M615,77.5 L615,67.05 A10.45,10.45 0 0 1 625.45,77.5 Z" stroke="none" stroke-width="1" fill="#edba7e" />
<text x="615" y="96.6" font-size="6.6" text-anchor="middle" fill="#111" dominant-baseline="central" font-weight="bold" >12</text>
<line x1="638.7" y1="89.2" x2="638.7" y2="92.2" stroke="#383838" stroke-width="1.1" />
<circle cx="638.7" cy="77.5" r="10.45" fill="#fff" stroke="#edba7e" stroke-width="0.9" />
<path d="M638.7,77.5 L638.7,67.05 A10.45,10.45 0 0 1 646.09,70.11 Z" stroke="none" stroke-width="1" fill="#edba7e" />
<text x="638.7" y="96.6" font-size="6.6" text-anchor="middle" fill="#111" dominant-baseline="central" font-weight="bold" >13</text>
<line x1="662.4" y1="89.2" x2="662.4" y2="92.2" stroke="#383838" stroke-width="1.1" />
<circle cx="662.4" cy="77.5" r="10.45" fill="#fff" stroke="#edba7e" stroke-width="0.9" />
<path d="M662.4,77.5 L662.4,67.05 A10.45,10.45 0 0 1 669.79,70.11 Z" stroke="none" stroke-width="1" fill="#edba7e" />
<text x="659" y="96.6" font-size="6.6" text-anchor="start" fill="#111" dominant-baseline="central" font-weight="bold" textLength="6.4" lengthAdjust="spacingAndGlyphs" >14</text>
<text x="667.8" y="96.8" font-size="7.2" text-anchor="start" fill="#111" dominant-baseline="central" font-weight="bold" textLength="10" lengthAdjust="spacingAndGlyphs" >dpi</text>
<line x1="339.9" y1="138.3" x2="678" y2="138.3" stroke="#383838" stroke-width="1.4" />
<path d="M675,135.3 L680,138.3 L675,141.3" stroke="#2a2a2a" stroke-width="1.5" fill="none" />
<line x1="354.3" y1="138.3" x2="354.3" y2="141.3" stroke="#383838" stroke-width="1.1" />
<circle cx="354.3" cy="126.6" r="10.45" fill="#fff" stroke="#f2767d" stroke-width="0.9" />
<text x="354.3" y="146.2" font-size="6.6" text-anchor="middle" fill="#111" dominant-baseline="central" font-weight="bold" >1</text>
<line x1="378" y1="138.3" x2="378" y2="141.3" stroke="#383838" stroke-width="1.1" />
<circle cx="378" cy="126.6" r="10.45" fill="#fff" stroke="#f2767d" stroke-width="0.9" />
<text x="378" y="146.2" font-size="6.6" text-anchor="middle" fill="#111" dominant-baseline="central" font-weight="bold" >2</text>
<line x1="401.7" y1="138.3" x2="401.7" y2="141.3" stroke="#383838" stroke-width="1.1" />
<circle cx="401.7" cy="126.6" r="10.45" fill="#fff" stroke="#f2767d" stroke-width="0.9" />
<text x="401.7" y="146.2" font-size="6.6" text-anchor="middle" fill="#111" dominant-baseline="central" font-weight="bold" >3</text>
<line x1="425.4" y1="138.3" x2="425.4" y2="141.3" stroke="#383838" stroke-width="1.1" />
<circle cx="425.4" cy="126.6" r="10.45" fill="#fff" stroke="#f2767d" stroke-width="0.9" />
<path d="M425.4,126.6 L425.4,116.15 A10.45,10.45 0 0 1 432.79,119.21 Z" stroke="none" stroke-width="1" fill="#f2767d" />
<text x="425.4" y="146.2" font-size="6.6" text-anchor="middle" fill="#111" dominant-baseline="central" font-weight="bold" >4</text>
<line x1="449.1" y1="138.3" x2="449.1" y2="141.3" stroke="#383838" stroke-width="1.1" />
<circle cx="449.1" cy="126.6" r="10.45" fill="#fff" stroke="#f2767d" stroke-width="0.9" />
<path d="M449.1,126.6 L449.1,116.15 A10.45,10.45 0 0 1 456.49,133.99 Z" stroke="none" stroke-width="1" fill="#f2767d" />
<text x="449.1" y="146.2" font-size="6.6" text-anchor="middle" fill="#111" dominant-baseline="central" font-weight="bold" >5</text>
<line x1="472.8" y1="138.3" x2="472.8" y2="141.3" stroke="#383838" stroke-width="1.1" />
<circle cx="472.8" cy="126.6" r="10.85" fill="#f2767d" stroke="none" stroke-width="1" />
<text x="472.8" y="146.2" font-size="6.6" text-anchor="middle" fill="#111" dominant-baseline="central" font-weight="bold" >6</text>
<line x1="496.5" y1="138.3" x2="496.5" y2="141.3" stroke="#383838" stroke-width="1.1" />
<circle cx="496.5" cy="126.6" r="10.85" fill="#f2767d" stroke="none" stroke-width="1" />
<text x="496.5" y="146.2" font-size="6.6" text-anchor="middle" fill="#111" dominant-baseline="central" font-weight="bold" >7</text>
<line x1="520.2" y1="138.3" x2="520.2" y2="141.3" stroke="#383838" stroke-width="1.1" />
<circle cx="520.2" cy="126.6" r="10.85" fill="#f2767d" stroke="none" stroke-width="1" />
<text x="520.2" y="146.2" font-size="6.6" text-anchor="middle" fill="#111" dominant-baseline="central" font-weight="bold" >8</text>
<line x1="543.9" y1="138.3" x2="543.9" y2="141.3" stroke="#383838" stroke-width="1.1" />
<circle cx="543.9" cy="126.6" r="10.85" fill="#f2767d" stroke="none" stroke-width="1" />
<text x="543.9" y="146.2" font-size="6.6" text-anchor="middle" fill="#111" dominant-baseline="central" font-weight="bold" >9</text>
<line x1="567.6" y1="138.3" x2="567.6" y2="141.3" stroke="#383838" stroke-width="1.1" />
<circle cx="567.6" cy="126.6" r="10.85" fill="#f2767d" stroke="none" stroke-width="1" />
<text x="567.6" y="146.2" font-size="6.6" text-anchor="middle" fill="#111" dominant-baseline="central" font-weight="bold" >10</text>
<line x1="591.3" y1="138.3" x2="591.3" y2="141.3" stroke="#383838" stroke-width="1.1" />
<circle cx="591.3" cy="126.6" r="10.85" fill="#f2767d" stroke="none" stroke-width="1" />
<text x="591.3" y="146.2" font-size="6.6" text-anchor="middle" fill="#111" dominant-baseline="central" font-weight="bold" >11</text>
<line x1="615" y1="138.3" x2="615" y2="141.3" stroke="#383838" stroke-width="1.1" />
<circle cx="615" cy="126.6" r="10.85" fill="#f2767d" stroke="none" stroke-width="1" />
<text x="615" y="146.2" font-size="6.6" text-anchor="middle" fill="#111" dominant-baseline="central" font-weight="bold" >12</text>
<line x1="638.7" y1="138.3" x2="638.7" y2="141.3" stroke="#383838" stroke-width="1.1" />
<circle cx="638.7" cy="126.6" r="10.85" fill="#f2767d" stroke="none" stroke-width="1" />
<text x="638.7" y="146.2" font-size="6.6" text-anchor="middle" fill="#111" dominant-baseline="central" font-weight="bold" >13</text>
<line x1="662.4" y1="138.3" x2="662.4" y2="141.3" stroke="#383838" stroke-width="1.1" />
<circle cx="662.4" cy="126.6" r="10.85" fill="#f2767d" stroke="none" stroke-width="1" />
<text x="659" y="146.2" font-size="6.6" text-anchor="start" fill="#111" dominant-baseline="central" font-weight="bold" textLength="6.4" lengthAdjust="spacingAndGlyphs" >14</text>
<text x="667.8" y="146.4" font-size="7.2" text-anchor="start" fill="#111" dominant-baseline="central" font-weight="bold" textLength="10" lengthAdjust="spacingAndGlyphs" >dpi</text>
<g transform="translate(291.9,33.1)">
<path d="M22,4.3 C26,5 30,4.6 35.4,6.3" stroke="#d08a8a" stroke-width="0.9" fill="none" />
<path d="M24.1,3.9 L28.8,-1.8" stroke="#8fb0d8" stroke-width="0.7" fill="none" />
<path d="M28.6,-1.5 L33.2,-7.1" stroke="#4a6fc0" stroke-width="2.3" fill="none" />
<path d="M33,-6.8 L34.6,-8.6" stroke="#8aa0c8" stroke-width="0.8" fill="none" />
<path d="M0,0 C1,-1.5 3,-2.6 5,-3 C8,-3.8 11,-4.2 14,-4 C18,-3.6 21,-1.5 22.3,1.5 C22.8,3 22,4.6 19.5,5 C16,5.3 12,5 9,4.6 C6.5,4.3 4,3.5 2.5,2.2 C1.2,1.2 0.3,0.7 0,0 Z" stroke="#bdbdbd" stroke-width="0.45" fill="#dcdcdc" />
<path d="M9,4.4 C13,3.6 18,3.8 21.5,2.5 C21,4.4 20,4.9 18,5 C14,5.2 11,5 9,4.4 Z" stroke="none" stroke-width="1" fill="#c6c6c6" />
<path d="M4.3,-2.8 L5.3,-5 L6.6,-3.2 Z" stroke="none" stroke-width="1" fill="#e2a4a4" />
<ellipse cx="4.6" cy="6" rx="1.5" ry="0.9" fill="#e39696"/>
<ellipse cx="16.9" cy="5.8" rx="1.9" ry="1" fill="#e39696"/>
<circle cx="2.8" cy="-1" r="0.55" fill="#c55" stroke="none" stroke-width="1" />
</g>
<g transform="translate(291.9,81.6)">
<path d="M22,4.3 C26,5 30,4.6 35.4,6.3" stroke="#d08a8a" stroke-width="0.9" fill="none" />
<path d="M24.1,3.9 L28.8,-1.8" stroke="#8fb0d8" stroke-width="0.7" fill="none" />
<path d="M28.6,-1.5 L33.2,-7.1" stroke="#4a6fc0" stroke-width="2.3" fill="none" />
<path d="M33,-6.8 L34.6,-8.6" stroke="#8aa0c8" stroke-width="0.8" fill="none" />
<path d="M0,0 C1,-1.5 3,-2.6 5,-3 C8,-3.8 11,-4.2 14,-4 C18,-3.6 21,-1.5 22.3,1.5 C22.8,3 22,4.6 19.5,5 C16,5.3 12,5 9,4.6 C6.5,4.3 4,3.5 2.5,2.2 C1.2,1.2 0.3,0.7 0,0 Z" stroke="#3a3a36" stroke-width="0.45" fill="#4a4a45" />
<path d="M4.3,-2.8 L5.3,-5 L6.6,-3.2 Z" stroke="none" stroke-width="1" fill="#3d3d3a" />
<ellipse cx="4.6" cy="6" rx="1.5" ry="0.9" fill="#c98a8a"/>
<ellipse cx="16.9" cy="5.8" rx="1.9" ry="1" fill="#c98a8a"/>
<circle cx="2.8" cy="-1" r="0.55" fill="#222" stroke="none" stroke-width="1" />
</g>
<g transform="translate(291.9,131.2)">
<path d="M22,4.3 C26,5 30,4.6 35.4,6.3" stroke="#d08a8a" stroke-width="0.9" fill="none" />
<path d="M24.1,3.9 L28.8,-1.8" stroke="#8fb0d8" stroke-width="0.7" fill="none" />
<path d="M28.6,-1.5 L33.2,-7.1" stroke="#4a6fc0" stroke-width="2.3" fill="none" />
<path d="M33,-6.8 L34.6,-8.6" stroke="#8aa0c8" stroke-width="0.8" fill="none" />
<path d="M0,0 C1,-1.5 3,-2.6 5,-3 C8,-3.8 11,-4.2 14,-4 C18,-3.6 21,-1.5 22.3,1.5 C22.8,3 22,4.6 19.5,5 C16,5.3 12,5 9,4.6 C6.5,4.3 4,3.5 2.5,2.2 C1.2,1.2 0.3,0.7 0,0 Z" stroke="#bdbdbd" stroke-width="0.45" fill="#dcdcdc" />
<path d="M9,4.4 C13,3.6 18,3.8 21.5,2.5 C21,4.4 20,4.9 18,5 C14,5.2 11,5 9,4.4 Z" stroke="none" stroke-width="1" fill="#c6c6c6" />
<path d="M4.3,-2.8 L5.3,-5 L6.6,-3.2 Z" stroke="none" stroke-width="1" fill="#e2a4a4" />
<ellipse cx="4.6" cy="6" rx="1.5" ry="0.9" fill="#e39696"/>
<ellipse cx="16.9" cy="5.8" rx="1.9" ry="1" fill="#e39696"/>
<circle cx="2.8" cy="-1" r="0.55" fill="#c55" stroke="none" stroke-width="1" />
</g>
<text x="307.7" y="48.2" font-size="9.4" text-anchor="middle" fill="#111" dominant-baseline="central" font-weight="bold" textLength="14" lengthAdjust="spacingAndGlyphs" >ICR</text>
<text x="294.3" y="97.1" font-size="9.4" font-weight="bold" fill="#111" dominant-baseline="central" textLength="39" lengthAdjust="spacingAndGlyphs">IFNAR1<tspan font-size="5.6" dy="-2.2" font-weight="normal">-/-</tspan></text>
<text x="307.2" y="146.3" font-size="9.4" text-anchor="middle" fill="#111" dominant-baseline="central" font-weight="bold" textLength="20.8" lengthAdjust="spacingAndGlyphs" >SCID</text>
<rect x="366.6" y="162.3" width="8" height="5.3" fill="#fff" stroke="#333" stroke-width="0.9" />
<text x="379.6" y="165.2" font-size="8.2" text-anchor="start" fill="#222" dominant-baseline="central" font-weight="bold" textLength="76.4" lengthAdjust="spacingAndGlyphs" >Scab width&#160; &lt;&#160; 1mm</text>
<rect x="523.3" y="162.1" width="7.8" height="4.9" fill="#8a8fd4" stroke="none" stroke-width="1" />
<rect x="537.1" y="162.1" width="8" height="4.9" fill="#edba7e" stroke="none" stroke-width="1" />
<rect x="550.9" y="162.1" width="8.2" height="4.9" fill="#f2767d" stroke="none" stroke-width="1" />
<text x="563.5" y="164.8" font-size="8.2" text-anchor="start" fill="#222" dominant-baseline="central" font-weight="bold" textLength="72.2" lengthAdjust="spacingAndGlyphs" >Scab width ≥ 1mm</text>
<defs><filter id="fnoise" x="0" y="0" width="100%" height="100%" filterUnits="objectBoundingBox"><feTurbulence type="fractalNoise" baseFrequency="0.55" numOctaves="2" seed="7" result="n"/><feColorMatrix in="n" type="matrix" values="0 0 0 0 0  0 0 0 0 0  0 0 0 0 0  0.9 0 0 0 -0.42"/></filter><filter id="fcloud" x="0" y="0" width="100%" height="100%" filterUnits="objectBoundingBox"><feTurbulence type="fractalNoise" baseFrequency="0.09 0.12" numOctaves="3" seed="2" result="n"/><feColorMatrix in="n" type="matrix" values="0 0 0 0 1  0 0 0 0 1  0 0 0 0 1  1.6 0 0 0 -0.62"/></filter><filter id="fcloud2" x="0" y="0" width="100%" height="100%" filterUnits="objectBoundingBox"><feTurbulence type="fractalNoise" baseFrequency="0.12 0.08" numOctaves="3" seed="11" result="n"/><feColorMatrix in="n" type="matrix" values="0 0 0 0 0.55  0 0 0 0 0.62  0 0 0 0 0.7  1.5 0 0 0 -0.6"/></filter></defs>
<text x="4.2" y="195" font-size="19.5" text-anchor="start" fill="#000" dominant-baseline="alphabetic" font-weight="bold" >c</text>
<text x="56.3" y="204.8" font-size="8.3" text-anchor="middle" fill="#111" dominant-baseline="central" font-weight="bold" textLength="29.3" lengthAdjust="spacingAndGlyphs" >Control</text>
<text x="104.6" y="204.8" font-size="8.3" text-anchor="middle" fill="#111" dominant-baseline="central" font-weight="bold" textLength="19.8" lengthAdjust="spacingAndGlyphs" >3 dpi</text>
<text x="154.2" y="204.8" font-size="8.3" text-anchor="middle" fill="#111" dominant-baseline="central" font-weight="bold" textLength="19.4" lengthAdjust="spacingAndGlyphs" >7 dpi</text>
<text x="201.9" y="204.8" font-size="8.3" text-anchor="middle" fill="#111" dominant-baseline="central" font-weight="bold" textLength="23.7" lengthAdjust="spacingAndGlyphs" >14 dpi</text>
<text x="28.1" y="254.3" font-size="8.6" text-anchor="middle" fill="#111" dominant-baseline="central" font-weight="bold" textLength="14.4" lengthAdjust="spacingAndGlyphs" transform="rotate(-90 28.1 254.3)" >ICR</text>
<text x="28.3" y="332.8" font-size="8.6" font-weight="bold" fill="#111" text-anchor="middle" dominant-baseline="central" transform="rotate(-90 28.3 332.8)" textLength="35.5" lengthAdjust="spacingAndGlyphs">IFNAR1<tspan font-size="5" dy="-3" font-weight="normal">-/-</tspan></text>
<text x="28.1" y="412.8" font-size="8.6" text-anchor="middle" fill="#111" dominant-baseline="central" font-weight="bold" textLength="18.8" lengthAdjust="spacingAndGlyphs" transform="rotate(-90 28.1 412.8)" >SCID</text>
<clipPath id="cp00"><rect x="38.2" y="217.6" width="42" height="70"/></clipPath>
<linearGradient id="gp00" x1="0" y1="0" x2="1" y2="1"><stop offset="0" stop-color="#e3e9ed"/><stop offset="1" stop-color="#d9e1e6"/></linearGradient>
<linearGradient id="sp00" x1="0" y1="0" x2="1" y2="0"><stop offset="0" stop-color="#c98e88"/><stop offset="0.3" stop-color="#dba39c"/><stop offset="0.7" stop-color="#dba39c"/><stop offset="1" stop-color="#c98e88"/></linearGradient>
<g clip-path="url(#cp00)">
<rect x="38.2" y="217.6" width="42" height="70" fill="url(#gp00)" stroke="none" stroke-width="1" />
<rect x="38.2" y="217.6" width="42" height="70" fill="#fff" stroke="none" stroke-width="1" filter="url(#fcloud)" opacity="0.55"/>
<rect x="55.2" y="217.6" width="9.6" height="70" fill="url(#sp00)" stroke="none" stroke-width="1" />
<ellipse cx="60.2" cy="257.6" rx="0.8" ry="8" fill="#b46a70" opacity="0.45"/>
<rect x="38.2" y="217.6" width="42" height="70" fill="#000" stroke="none" stroke-width="1" filter="url(#fnoise)" opacity="0.08"/>
</g>
<clipPath id="cp10"><rect x="86.4" y="217.6" width="42" height="70"/></clipPath>
<linearGradient id="gp10" x1="0" y1="0" x2="1" y2="1"><stop offset="0" stop-color="#eeecde"/><stop offset="1" stop-color="#e4e2d0"/></linearGradient>
<linearGradient id="sp10" x1="0" y1="0" x2="1" y2="0"><stop offset="0" stop-color="#c99f97"/><stop offset="0.3" stop-color="#d9b0a8"/><stop offset="0.7" stop-color="#d9b0a8"/><stop offset="1" stop-color="#c99f97"/></linearGradient>
<g clip-path="url(#cp10)">
<rect x="86.4" y="217.6" width="42" height="70" fill="url(#gp10)" stroke="none" stroke-width="1" />
<rect x="86.4" y="217.6" width="42" height="70" fill="#fff" stroke="none" stroke-width="1" filter="url(#fcloud)" opacity="0.45"/>
<rect x="104.6" y="217.6" width="8.8" height="70" fill="url(#sp10)" stroke="none" stroke-width="1" />
<ellipse cx="108.9" cy="251.6" rx="1" ry="22" fill="#9b4d5c" opacity="0.55"/>
<rect x="86.4" y="217.6" width="42" height="70" fill="#000" stroke="none" stroke-width="1" filter="url(#fnoise)" opacity="0.08"/>
</g>
<clipPath id="cp20"><rect x="135" y="217.6" width="42" height="70"/></clipPath>
<linearGradient id="gp20" x1="0" y1="0" x2="1" y2="1"><stop offset="0" stop-color="#efeee3"/><stop offset="1" stop-color="#e2e4dc"/></linearGradient>
<linearGradient id="sp20" x1="0" y1="0" x2="1" y2="0"><stop offset="0" stop-color="#dba993"/><stop offset="0.3" stop-color="#ebbba6"/><stop offset="0.7" stop-color="#ebbba6"/><stop offset="1" stop-color="#dba993"/></linearGradient>
<g clip-path="url(#cp20)">
<rect x="135" y="217.6" width="42" height="70" fill="url(#gp20)" stroke="none" stroke-width="1" />
<rect x="135" y="217.6" width="42" height="70" fill="#fff" stroke="none" stroke-width="1" filter="url(#fcloud)" opacity="0.35"/>
<path d="M135,242.6 L146.3,247.2 L146.3,265.6 L135,270.6 M146.3,247.2 L150,245.6 M146.3,265.6 L150,267.1 M135,224.6 L143,220.1 L144,215.6 M157,243.6 L161.2,244 L171.6,248.8 L171.6,262.2 L159.2,268.1 M171.6,248.8 L178,244.6 M171.6,262.2 L178,267.6 M161.2,244 L163.3,226.7 L177.3,218.6 M163.3,226.7 L157,224.6 " stroke="#b4bfc7" stroke-width="2.8" fill="none" opacity="0.75" stroke-linejoin="round" stroke-linecap="round"/>
<rect x="149" y="217.6" width="9.7" height="70" fill="url(#sp20)" stroke="none" stroke-width="1" />
<ellipse cx="153.6" cy="242.6" rx="0.9" ry="6" fill="#c9606a" opacity="0.5"/>
<ellipse cx="153.9" cy="254.6" rx="1.2" ry="4" fill="#c05060" opacity="0.55"/>
<ellipse cx="154.1" cy="267.6" rx="0.7" ry="5" fill="#c9606a" opacity="0.45"/>
<rect x="135" y="217.6" width="42" height="70" fill="#000" stroke="none" stroke-width="1" filter="url(#fnoise)" opacity="0.08"/>
</g>
<clipPath id="cp30"><rect x="183.3" y="217.6" width="42" height="70"/></clipPath>
<linearGradient id="gp30" x1="0" y1="0" x2="1" y2="1"><stop offset="0" stop-color="#f1f1e8"/><stop offset="1" stop-color="#e6e7df"/></linearGradient>
<linearGradient id="sp30" x1="0" y1="0" x2="1" y2="0"><stop offset="0" stop-color="#c99c9c"/><stop offset="0.3" stop-color="#dcabab"/><stop offset="0.7" stop-color="#dcabab"/><stop offset="1" stop-color="#c99c9c"/></linearGradient>
<g clip-path="url(#cp30)">
<rect x="183.3" y="217.6" width="42" height="70" fill="url(#gp30)" stroke="none" stroke-width="1" />
<rect x="183.3" y="217.6" width="42" height="70" fill="#fff" stroke="none" stroke-width="1" filter="url(#fcloud)" opacity="0.45"/>
<rect x="183.3" y="217.6" width="8.3" height="70" fill="#2a2a28" stroke="none" stroke-width="1" />
<line x1="184.1" y1="219.1" x2="191.3" y2="219.1" stroke="#a8a8a0" stroke-width="0.8" />
<line x1="184.1" y1="222.1" x2="191.3" y2="222.1" stroke="#a8a8a0" stroke-width="0.8" />
<line x1="184.1" y1="225.1" x2="191.3" y2="225.1" stroke="#a8a8a0" stroke-width="0.8" />
<line x1="184.1" y1="228.1" x2="191.3" y2="228.1" stroke="#a8a8a0" stroke-width="0.8" />
<line x1="184.1" y1="231.1" x2="191.3" y2="231.1" stroke="#a8a8a0" stroke-width="0.8" />
<line x1="184.1" y1="234.1" x2="191.3" y2="234.1" stroke="#a8a8a0" stroke-width="0.8" />
<line x1="184.1" y1="237.1" x2="191.3" y2="237.1" stroke="#a8a8a0" stroke-width="0.8" />
<line x1="184.1" y1="240.1" x2="191.3" y2="240.1" stroke="#a8a8a0" stroke-width="0.8" />
<line x1="184.1" y1="243.1" x2="191.3" y2="243.1" stroke="#a8a8a0" stroke-width="0.8" />
<line x1="184.1" y1="246.1" x2="191.3" y2="246.1" stroke="#a8a8a0" stroke-width="0.8" />
<line x1="184.1" y1="249.1" x2="191.3" y2="249.1" stroke="#a8a8a0" stroke-width="0.8" />
<line x1="184.1" y1="252.1" x2="191.3" y2="252.1" stroke="#a8a8a0" stroke-width="0.8" />
<line x1="184.1" y1="255.1" x2="191.3" y2="255.1" stroke="#a8a8a0" stroke-width="0.8" />
<line x1="184.1" y1="258.1" x2="191.3" y2="258.1" stroke="#a8a8a0" stroke-width="0.8" />
<line x1="184.1" y1="261.1" x2="191.3" y2="261.1" stroke="#a8a8a0" stroke-width="0.8" />
<line x1="184.1" y1="264.1" x2="191.3" y2="264.1" stroke="#a8a8a0" stroke-width="0.8" />
<line x1="184.1" y1="267.1" x2="191.3" y2="267.1" stroke="#a8a8a0" stroke-width="0.8" />
<line x1="184.1" y1="270.1" x2="191.3" y2="270.1" stroke="#a8a8a0" stroke-width="0.8" />
<line x1="184.1" y1="273.1" x2="191.3" y2="273.1" stroke="#a8a8a0" stroke-width="0.8" />
<line x1="184.1" y1="276.1" x2="191.3" y2="276.1" stroke="#a8a8a0" stroke-width="0.8" />
<line x1="184.1" y1="279.1" x2="191.3" y2="279.1" stroke="#a8a8a0" stroke-width="0.8" />
<line x1="184.1" y1="282.1" x2="191.3" y2="282.1" stroke="#a8a8a0" stroke-width="0.8" />
<line x1="184.1" y1="285.1" x2="191.3" y2="285.1" stroke="#a8a8a0" stroke-width="0.8" />
<rect x="199" y="217.6" width="9.6" height="70" fill="url(#sp30)" stroke="none" stroke-width="1" />
<ellipse cx="203.3" cy="251.6" rx="1.8" ry="11" fill="#c25c6a" opacity="0.55"/>
<rect x="183.3" y="217.6" width="42" height="70" fill="#000" stroke="none" stroke-width="1" filter="url(#fnoise)" opacity="0.08"/>
</g>
<clipPath id="cp01"><rect x="38.2" y="294.1" width="42" height="70"/></clipPath>
<linearGradient id="gp01" x1="0" y1="0" x2="1" y2="1"><stop offset="0" stop-color="#e6ece9"/><stop offset="1" stop-color="#dbe1de"/></linearGradient>
<linearGradient id="sp01" x1="0" y1="0" x2="1" y2="0"><stop offset="0" stop-color="#8e6a60"/><stop offset="0.3" stop-color="#a8837a"/><stop offset="0.7" stop-color="#a8837a"/><stop offset="1" stop-color="#8e6a60"/></linearGradient>
<g clip-path="url(#cp01)">
<rect x="38.2" y="294.1" width="42" height="70" fill="url(#gp01)" stroke="none" stroke-width="1" />
<rect x="38.2" y="294.1" width="42" height="70" fill="#fff" stroke="none" stroke-width="1" filter="url(#fcloud)" opacity="0.55"/>
<rect x="53.9" y="294.1" width="10.9" height="70" fill="url(#sp01)" stroke="none" stroke-width="1" />
<rect x="38.2" y="294.1" width="42" height="70" fill="#000" stroke="none" stroke-width="1" filter="url(#fnoise)" opacity="0.08"/>
</g>
<clipPath id="cp11"><rect x="86.4" y="294.1" width="42" height="70"/></clipPath>
<linearGradient id="gp11" x1="0" y1="0" x2="1" y2="1"><stop offset="0" stop-color="#aebdc7"/><stop offset="1" stop-color="#d3dde3"/></linearGradient>
<linearGradient id="sp11" x1="0" y1="0" x2="1" y2="0"><stop offset="0" stop-color="#8c665b"/><stop offset="0.3" stop-color="#a77f72"/><stop offset="0.7" stop-color="#a77f72"/><stop offset="1" stop-color="#8c665b"/></linearGradient>
<g clip-path="url(#cp11)">
<rect x="86.4" y="294.1" width="42" height="70" fill="url(#gp11)" stroke="none" stroke-width="1" />
<rect x="86.4" y="294.1" width="42" height="70" fill="#000" stroke="none" stroke-width="1" filter="url(#fcloud2)" opacity="0.35"/>
<rect x="86.4" y="294.1" width="42" height="70" fill="#fff" stroke="none" stroke-width="1" filter="url(#fcloud)" opacity="0.7"/>
<rect x="103" y="294.1" width="9.8" height="70" fill="url(#sp11)" stroke="none" stroke-width="1" />
<ellipse cx="107.9" cy="330.1" rx="2.6" ry="9" fill="#b84444" opacity="0.65"/>
<ellipse cx="107.4" cy="320.1" rx="1.2" ry="3" fill="#7a3030" opacity="0.55"/>
<rect x="86.4" y="294.1" width="42" height="70" fill="#000" stroke="none" stroke-width="1" filter="url(#fnoise)" opacity="0.08"/>
</g>
<clipPath id="cp21"><rect x="135" y="294.1" width="42" height="70"/></clipPath>
<linearGradient id="gp21" x1="0" y1="0" x2="1" y2="1"><stop offset="0" stop-color="#dee5e7"/><stop offset="1" stop-color="#d3dbde"/></linearGradient>
<linearGradient id="sp21" x1="0" y1="0" x2="1" y2="0"><stop offset="0" stop-color="#5f3a33"/><stop offset="0.3" stop-color="#7d4c43"/><stop offset="0.7" stop-color="#7d4c43"/><stop offset="1" stop-color="#5f3a33"/></linearGradient>
<g clip-path="url(#cp21)">
<rect x="135" y="294.1" width="42" height="70" fill="url(#gp21)" stroke="none" stroke-width="1" />
<rect x="135" y="294.1" width="42" height="70" fill="#fff" stroke="none" stroke-width="1" filter="url(#fcloud)" opacity="0.5"/>
<path d="M149.6,294.1 L162,294.1 L162,305.6 Q165,325.6 162,347.6 L161.5,364.1 L150.1,364.1 L149.6,347.6 Q146.6,325.6 149.6,305.6 Z" stroke="none" stroke-width="1" fill="url(#sp21)" />
<ellipse cx="155.5" cy="320.1" rx="4" ry="6" fill="#9c3f35" opacity="0.65"/>
<ellipse cx="156" cy="338.1" rx="3.5" ry="8" fill="#a0503f" opacity="0.55"/>
<ellipse cx="154" cy="346.1" rx="1.5" ry="3" fill="#e0c8c0" opacity="0.5"/>
<rect x="135" y="294.1" width="42" height="70" fill="#000" stroke="none" stroke-width="1" filter="url(#fnoise)" opacity="0.08"/>
</g>
<clipPath id="cp31"><rect x="183.3" y="294.1" width="42" height="70"/></clipPath>
<linearGradient id="gp31" x1="0" y1="0" x2="1" y2="1"><stop offset="0" stop-color="#eaedeb"/><stop offset="1" stop-color="#dfe3e1"/></linearGradient>
<linearGradient id="sp31" x1="0" y1="0" x2="1" y2="0"><stop offset="0" stop-color="#6e463c"/><stop offset="0.3" stop-color="#8c5b4d"/><stop offset="0.7" stop-color="#8c5b4d"/><stop offset="1" stop-color="#6e463c"/></linearGradient>
<g clip-path="url(#cp31)">
<rect x="183.3" y="294.1" width="42" height="70" fill="url(#gp31)" stroke="none" stroke-width="1" />
<rect x="183.3" y="294.1" width="42" height="70" fill="#fff" stroke="none" stroke-width="1" filter="url(#fcloud)" opacity="0.5"/>
<path d="M196.9,294.1 L207.4,294.1 L207.4,305.6 Q208.9,325.6 207.4,347.6 L206.9,364.1 L197.4,364.1 L196.9,347.6 Q195.4,325.6 196.9,305.6 Z" stroke="none" stroke-width="1" fill="url(#sp31)" />
<ellipse cx="202.3" cy="328.1" rx="3" ry="12" fill="#a4503f" opacity="0.55"/>
<rect x="183.3" y="294.1" width="42" height="70" fill="#000" stroke="none" stroke-width="1" filter="url(#fnoise)" opacity="0.08"/>
</g>
<clipPath id="cp02"><rect x="38.2" y="372" width="42" height="70"/></clipPath>
<linearGradient id="gp02" x1="0" y1="0" x2="1" y2="1"><stop offset="0" stop-color="#e6eae9"/><stop offset="1" stop-color="#dce1e1"/></linearGradient>
<linearGradient id="sp02" x1="0" y1="0" x2="1" y2="0"><stop offset="0" stop-color="#dba49e"/><stop offset="0.3" stop-color="#e9bbb5"/><stop offset="0.7" stop-color="#e9bbb5"/><stop offset="1" stop-color="#dba49e"/></linearGradient>
<g clip-path="url(#cp02)">
<rect x="38.2" y="372" width="42" height="70" fill="url(#gp02)" stroke="none" stroke-width="1" />
<rect x="38.2" y="372" width="42" height="70" fill="#fff" stroke="none" stroke-width="1" filter="url(#fcloud)" opacity="0.5"/>
<rect x="53.2" y="372" width="10.9" height="70" fill="url(#sp02)" stroke="none" stroke-width="1" />
<ellipse cx="58.2" cy="397" rx="0.8" ry="1" fill="#c04050" opacity="0.7"/>
<ellipse cx="58.7" cy="414" rx="0.8" ry="1" fill="#c04050" opacity="0.6"/>
<rect x="38.2" y="372" width="42" height="70" fill="#000" stroke="none" stroke-width="1" filter="url(#fnoise)" opacity="0.08"/>
</g>
<clipPath id="cp12"><rect x="86.4" y="372" width="42" height="70"/></clipPath>
<linearGradient id="gp12" x1="0" y1="0" x2="1" y2="1"><stop offset="0" stop-color="#dae2e6"/><stop offset="1" stop-color="#e5ebee"/></linearGradient>
<linearGradient id="sp12" x1="0" y1="0" x2="1" y2="0"><stop offset="0" stop-color="#d09a92"/><stop offset="0.3" stop-color="#e4b2aa"/><stop offset="0.7" stop-color="#e4b2aa"/><stop offset="1" stop-color="#d09a92"/></linearGradient>
<g clip-path="url(#cp12)">
<rect x="86.4" y="372" width="42" height="70" fill="url(#gp12)" stroke="none" stroke-width="1" />
<rect x="86.4" y="372" width="42" height="70" fill="#000" stroke="none" stroke-width="1" filter="url(#fcloud2)" opacity="0.25"/>
<rect x="86.4" y="372" width="42" height="70" fill="#fff" stroke="none" stroke-width="1" filter="url(#fcloud)" opacity="0.7"/>
<rect x="102.6" y="372" width="8.9" height="70" fill="url(#sp12)" stroke="none" stroke-width="1" />
<ellipse cx="107.4" cy="406" rx="2" ry="18" fill="#9c5a5c" opacity="0.55"/>
<ellipse cx="106.9" cy="404" rx="0.9" ry="5" fill="#e8d090" opacity="0.7"/>
<rect x="86.4" y="372" width="42" height="70" fill="#000" stroke="none" stroke-width="1" filter="url(#fnoise)" opacity="0.08"/>
</g>
<clipPath id="cp22"><rect x="135" y="372" width="42" height="70"/></clipPath>
<linearGradient id="gp22" x1="0" y1="0" x2="1" y2="1"><stop offset="0" stop-color="#e8eced"/><stop offset="1" stop-color="#dbe2e6"/></linearGradient>
<linearGradient id="sp22" x1="0" y1="0" x2="1" y2="0"><stop offset="0" stop-color="#d5948f"/><stop offset="0.3" stop-color="#e6aca7"/><stop offset="0.7" stop-color="#e6aca7"/><stop offset="1" stop-color="#d5948f"/></linearGradient>
<g clip-path="url(#cp22)">
<rect x="135" y="372" width="42" height="70" fill="url(#gp22)" stroke="none" stroke-width="1" />
<rect x="135" y="372" width="42" height="70" fill="#000" stroke="none" stroke-width="1" filter="url(#fcloud2)" opacity="0.15"/>
<rect x="135" y="372" width="42" height="70" fill="#fff" stroke="none" stroke-width="1" filter="url(#fcloud)" opacity="0.5"/>
<path d="M153.4,372 L164.3,372 L164.3,383.5 Q166.5,403.5 164.3,425.5 L163.8,442 L153.9,442 L153.4,425.5 Q151.2,403.5 153.4,383.5 Z" stroke="none" stroke-width="1" fill="url(#sp22)" />
<ellipse cx="158.8" cy="407" rx="5.6" ry="23" fill="#c97f80" opacity="0.6"/>
<ellipse cx="158.8" cy="406.7" rx="4.6" ry="20.5" fill="#98784f" opacity="0.9"/>
<ellipse cx="158" cy="394" rx="1.5" ry="2.5" fill="#e8d898" opacity="0.75"/>
<ellipse cx="159.5" cy="403" rx="1.2" ry="2" fill="#e0c888" opacity="0.7"/>
<ellipse cx="157.8" cy="416" rx="1" ry="1.6" fill="#f0e0b0" opacity="0.7"/>
<ellipse cx="159.2" cy="424" rx="0.9" ry="1.5" fill="#f0e0c0" opacity="0.6"/>
<rect x="135" y="372" width="42" height="70" fill="#000" stroke="none" stroke-width="1" filter="url(#fnoise)" opacity="0.08"/>
</g>
<clipPath id="cp32"><rect x="183.3" y="372" width="42" height="70"/></clipPath>
<linearGradient id="gp32" x1="0" y1="0" x2="1" y2="1"><stop offset="0" stop-color="#eaeceb"/><stop offset="1" stop-color="#dfe2e0"/></linearGradient>
<linearGradient id="sp32" x1="0" y1="0" x2="1" y2="0"><stop offset="0" stop-color="#d4948f"/><stop offset="0.3" stop-color="#e5ada8"/><stop offset="0.7" stop-color="#e5ada8"/><stop offset="1" stop-color="#d4948f"/></linearGradient>
<g clip-path="url(#cp32)">
<rect x="183.3" y="372" width="42" height="70" fill="url(#gp32)" stroke="none" stroke-width="1" />
<rect x="183.3" y="372" width="42" height="70" fill="#fff" stroke="none" stroke-width="1" filter="url(#fcloud)" opacity="0.5"/>
<path d="M197.2,372 L208.8,372 L208.8,383.5 Q211.2,403.5 208.8,425.5 L208.3,442 L197.7,442 L197.2,425.5 Q194.8,403.5 197.2,383.5 Z" stroke="none" stroke-width="1" fill="url(#sp32)" />
<ellipse cx="203.9" cy="404" rx="6" ry="23.5" fill="#c98482" opacity="0.55"/>
<ellipse cx="204.5" cy="403.8" rx="5" ry="21" fill="#8d6e46" opacity="0.92"/>
<ellipse cx="204.3" cy="396" rx="1.6" ry="3" fill="#b09560" opacity="0.7"/>
<ellipse cx="203.3" cy="412" rx="1.4" ry="2.4" fill="#a8905a" opacity="0.7"/>
<ellipse cx="202.9" cy="421" rx="1.2" ry="1.2" fill="#3a2a20" opacity="0.5"/>
<rect x="183.3" y="372" width="42" height="70" fill="#000" stroke="none" stroke-width="1" filter="url(#fnoise)" opacity="0.08"/>
</g>
<text x="242.8" y="194.6" font-size="19.5" text-anchor="start" fill="#000" dominant-baseline="alphabetic" font-weight="bold" >d</text>
<line x1="284.3" y1="278.89" x2="452" y2="278.89" stroke="#333" stroke-width="1" stroke-dasharray="1.1 1.9"/>
<rect x="289.2" y="280.83" width="6.8" height="11.27" fill="none" stroke="#7f84d6" stroke-width="1.35" />
<rect x="301.4" y="263.12" width="6.8" height="28.98" fill="none" stroke="#7f84d6" stroke-width="1.35" />
<rect x="313.6" y="258.07" width="6.8" height="34.03" fill="none" stroke="#7f84d6" stroke-width="1.35" />
<rect x="325.8" y="278.74" width="6.8" height="13.36" fill="none" stroke="#7f84d6" stroke-width="1.35" />
<rect x="346" y="279.82" width="6.8" height="12.28" fill="none" stroke="#ee9a3e" stroke-width="1.35" />
<rect x="358.2" y="261.02" width="6.8" height="31.08" fill="none" stroke="#ee9a3e" stroke-width="1.35" />
<rect x="370.4" y="246.65" width="6.8" height="45.45" fill="none" stroke="#ee9a3e" stroke-width="1.35" />
<rect x="382.6" y="253.25" width="6.8" height="38.85" fill="none" stroke="#ee9a3e" stroke-width="1.35" />
<rect x="402.8" y="281.22" width="6.8" height="10.88" fill="none" stroke="#f0737b" stroke-width="1.35" />
<rect x="415" y="254.8" width="6.8" height="37.3" fill="none" stroke="#f0737b" stroke-width="1.35" />
<rect x="427.2" y="239.26" width="6.8" height="52.84" fill="none" stroke="#f0737b" stroke-width="1.35" />
<rect x="439.4" y="229.16" width="6.8" height="62.94" fill="none" stroke="#f0737b" stroke-width="1.35" />
<line x1="284.3" y1="206.63" x2="284.3" y2="292.1" stroke="#333333" stroke-width="1.2" />
<line x1="283.7" y1="292.1" x2="452" y2="292.1" stroke="#333333" stroke-width="1.2" />
<line x1="281.1" y1="292.1" x2="284.3" y2="292.1" stroke="#333333" stroke-width="1.1" />
<text x="280.1" y="292.3" font-size="6.9" text-anchor="end" fill="#222" dominant-baseline="central" >0</text>
<line x1="281.1" y1="253.25" x2="284.3" y2="253.25" stroke="#333333" stroke-width="1.1" />
<text x="280.1" y="253.45" font-size="6.9" text-anchor="end" fill="#222" dominant-baseline="central" >5</text>
<line x1="281.1" y1="214.4" x2="284.3" y2="214.4" stroke="#333333" stroke-width="1.1" />
<text x="280.1" y="214.6" font-size="6.9" text-anchor="end" fill="#222" dominant-baseline="central" >10</text>
<line x1="282.5" y1="284.33" x2="284.3" y2="284.33" stroke="#333333" stroke-width="1" />
<line x1="282.5" y1="276.56" x2="284.3" y2="276.56" stroke="#333333" stroke-width="1" />
<line x1="282.5" y1="268.79" x2="284.3" y2="268.79" stroke="#333333" stroke-width="1" />
<line x1="282.5" y1="261.02" x2="284.3" y2="261.02" stroke="#333333" stroke-width="1" />
<line x1="282.5" y1="245.48" x2="284.3" y2="245.48" stroke="#333333" stroke-width="1" />
<line x1="282.5" y1="237.71" x2="284.3" y2="237.71" stroke="#333333" stroke-width="1" />
<line x1="282.5" y1="229.94" x2="284.3" y2="229.94" stroke="#333333" stroke-width="1" />
<line x1="282.5" y1="222.17" x2="284.3" y2="222.17" stroke="#333333" stroke-width="1" />
<line x1="282.5" y1="206.63" x2="284.3" y2="206.63" stroke="#333333" stroke-width="1" />
<line x1="292.6" y1="292.1" x2="292.6" y2="295.5" stroke="#333333" stroke-width="1.1" />
<text x="293.6" y="299.7" font-size="6.9" fill="#222" text-anchor="end" dominant-baseline="central" textLength="21.0" lengthAdjust="spacingAndGlyphs" transform="rotate(-45 293.6 299.7)">Control</text>
<line x1="304.8" y1="292.1" x2="304.8" y2="295.5" stroke="#333333" stroke-width="1.1" />
<text x="305.8" y="299.7" font-size="6.9" fill="#222" text-anchor="end" dominant-baseline="central" textLength="12.3" lengthAdjust="spacingAndGlyphs" transform="rotate(-45 305.8 299.7)">3dpi</text>
<line x1="317" y1="292.1" x2="317" y2="295.5" stroke="#333333" stroke-width="1.1" />
<text x="318" y="299.7" font-size="6.9" fill="#222" text-anchor="end" dominant-baseline="central" textLength="12.3" lengthAdjust="spacingAndGlyphs" transform="rotate(-45 318 299.7)">7dpi</text>
<line x1="329.2" y1="292.1" x2="329.2" y2="295.5" stroke="#333333" stroke-width="1.1" />
<text x="330.2" y="299.7" font-size="6.9" fill="#222" text-anchor="end" dominant-baseline="central" textLength="15.5" lengthAdjust="spacingAndGlyphs" transform="rotate(-45 330.2 299.7)">14dpi</text>
<line x1="349.4" y1="292.1" x2="349.4" y2="295.5" stroke="#333333" stroke-width="1.1" />
<text x="350.4" y="299.7" font-size="6.9" fill="#222" text-anchor="end" dominant-baseline="central" textLength="21.0" lengthAdjust="spacingAndGlyphs" transform="rotate(-45 350.4 299.7)">Control</text>
<line x1="361.6" y1="292.1" x2="361.6" y2="295.5" stroke="#333333" stroke-width="1.1" />
<text x="362.6" y="299.7" font-size="6.9" fill="#222" text-anchor="end" dominant-baseline="central" textLength="12.3" lengthAdjust="spacingAndGlyphs" transform="rotate(-45 362.6 299.7)">3dpi</text>
<line x1="373.8" y1="292.1" x2="373.8" y2="295.5" stroke="#333333" stroke-width="1.1" />
<text x="374.8" y="299.7" font-size="6.9" fill="#222" text-anchor="end" dominant-baseline="central" textLength="12.3" lengthAdjust="spacingAndGlyphs" transform="rotate(-45 374.8 299.7)">7dpi</text>
<line x1="386" y1="292.1" x2="386" y2="295.5" stroke="#333333" stroke-width="1.1" />
<text x="387" y="299.7" font-size="6.9" fill="#222" text-anchor="end" dominant-baseline="central" textLength="15.5" lengthAdjust="spacingAndGlyphs" transform="rotate(-45 387 299.7)">14dpi</text>
<line x1="406.2" y1="292.1" x2="406.2" y2="295.5" stroke="#333333" stroke-width="1.1" />
<text x="407.2" y="299.7" font-size="6.9" fill="#222" text-anchor="end" dominant-baseline="central" textLength="21.0" lengthAdjust="spacingAndGlyphs" transform="rotate(-45 407.2 299.7)">Control</text>
<line x1="418.4" y1="292.1" x2="418.4" y2="295.5" stroke="#333333" stroke-width="1.1" />
<text x="419.4" y="299.7" font-size="6.9" fill="#222" text-anchor="end" dominant-baseline="central" textLength="12.3" lengthAdjust="spacingAndGlyphs" transform="rotate(-45 419.4 299.7)">3dpi</text>
<line x1="430.6" y1="292.1" x2="430.6" y2="295.5" stroke="#333333" stroke-width="1.1" />
<text x="431.6" y="299.7" font-size="6.9" fill="#222" text-anchor="end" dominant-baseline="central" textLength="12.3" lengthAdjust="spacingAndGlyphs" transform="rotate(-45 431.6 299.7)">7dpi</text>
<line x1="442.8" y1="292.1" x2="442.8" y2="295.5" stroke="#333333" stroke-width="1.1" />
<text x="443.8" y="299.7" font-size="6.9" fill="#222" text-anchor="end" dominant-baseline="central" textLength="15.5" lengthAdjust="spacingAndGlyphs" transform="rotate(-45 443.8 299.7)">14dpi</text>
<circle cx="292.6" cy="282" r="1.95" fill="#7f84d6" stroke="none" stroke-width="1" />
<circle cx="290.7" cy="281.61" r="1.95" fill="#7f84d6" stroke="none" stroke-width="1" />
<circle cx="294.5" cy="281.22" r="1.95" fill="#7f84d6" stroke="none" stroke-width="1" />
<circle cx="291.65" cy="280.83" r="1.95" fill="#7f84d6" stroke="none" stroke-width="1" />
<circle cx="293.55" cy="280.45" r="1.95" fill="#7f84d6" stroke="none" stroke-width="1" />
<circle cx="290.2" cy="279.67" r="1.95" fill="#7f84d6" stroke="none" stroke-width="1" />
<circle cx="295" cy="278.89" r="1.95" fill="#7f84d6" stroke="none" stroke-width="1" />
<line x1="292.6" y1="279.9" x2="292.6" y2="281.77" stroke="#7f84d6" stroke-width="0.9" />
<line x1="291" y1="279.9" x2="294.2" y2="279.9" stroke="#7f84d6" stroke-width="0.9" />
<line x1="291" y1="281.77" x2="294.2" y2="281.77" stroke="#7f84d6" stroke-width="0.9" />
<circle cx="304.8" cy="267.24" r="1.95" fill="#7f84d6" stroke="none" stroke-width="1" />
<circle cx="302.9" cy="265.68" r="1.95" fill="#7f84d6" stroke="none" stroke-width="1" />
<circle cx="306.7" cy="264.91" r="1.95" fill="#7f84d6" stroke="none" stroke-width="1" />
<circle cx="303.85" cy="264.13" r="1.95" fill="#7f84d6" stroke="none" stroke-width="1" />
<circle cx="305.75" cy="263.35" r="1.95" fill="#7f84d6" stroke="none" stroke-width="1" />
<circle cx="302.4" cy="261.8" r="1.95" fill="#7f84d6" stroke="none" stroke-width="1" />
<circle cx="307.2" cy="260.24" r="1.95" fill="#7f84d6" stroke="none" stroke-width="1" />
<circle cx="305.2" cy="257.91" r="1.95" fill="#7f84d6" stroke="none" stroke-width="1" />
<line x1="304.8" y1="260.4" x2="304.8" y2="265.84" stroke="#7f84d6" stroke-width="0.9" />
<line x1="303.2" y1="260.4" x2="306.4" y2="260.4" stroke="#7f84d6" stroke-width="0.9" />
<line x1="303.2" y1="265.84" x2="306.4" y2="265.84" stroke="#7f84d6" stroke-width="0.9" />
<circle cx="317" cy="269.57" r="1.95" fill="#7f84d6" stroke="none" stroke-width="1" />
<circle cx="315.1" cy="264.91" r="1.95" fill="#7f84d6" stroke="none" stroke-width="1" />
<circle cx="318.9" cy="261.02" r="1.95" fill="#7f84d6" stroke="none" stroke-width="1" />
<circle cx="316.05" cy="258.69" r="1.95" fill="#7f84d6" stroke="none" stroke-width="1" />
<circle cx="317.95" cy="256.36" r="1.95" fill="#7f84d6" stroke="none" stroke-width="1" />
<circle cx="314.6" cy="254.03" r="1.95" fill="#7f84d6" stroke="none" stroke-width="1" />
<circle cx="319.4" cy="252.47" r="1.95" fill="#7f84d6" stroke="none" stroke-width="1" />
<circle cx="317.4" cy="250.14" r="1.95" fill="#7f84d6" stroke="none" stroke-width="1" />
<line x1="317" y1="252.63" x2="317" y2="263.51" stroke="#7f84d6" stroke-width="0.9" />
<line x1="315.4" y1="252.63" x2="318.6" y2="252.63" stroke="#7f84d6" stroke-width="0.9" />
<line x1="315.4" y1="263.51" x2="318.6" y2="263.51" stroke="#7f84d6" stroke-width="0.9" />
<circle cx="329.2" cy="282" r="1.95" fill="#7f84d6" stroke="none" stroke-width="1" />
<circle cx="327.3" cy="280.45" r="1.95" fill="#7f84d6" stroke="none" stroke-width="1" />
<circle cx="331.1" cy="279.67" r="1.95" fill="#7f84d6" stroke="none" stroke-width="1" />
<circle cx="328.25" cy="278.11" r="1.95" fill="#7f84d6" stroke="none" stroke-width="1" />
<circle cx="330.15" cy="276.56" r="1.95" fill="#7f84d6" stroke="none" stroke-width="1" />
<circle cx="326.8" cy="271.9" r="1.95" fill="#7f84d6" stroke="none" stroke-width="1" />
<line x1="329.2" y1="275.63" x2="329.2" y2="281.84" stroke="#7f84d6" stroke-width="0.9" />
<line x1="327.6" y1="275.63" x2="330.8" y2="275.63" stroke="#7f84d6" stroke-width="0.9" />
<line x1="327.6" y1="281.84" x2="330.8" y2="281.84" stroke="#7f84d6" stroke-width="0.9" />
<rect x="347.45" y="278.11" width="3.9" height="3.9" fill="#ee9a3e" stroke="none" stroke-width="1" />
<rect x="345.55" y="278.11" width="3.9" height="3.9" fill="#ee9a3e" stroke="none" stroke-width="1" />
<rect x="349.35" y="277.87" width="3.9" height="3.9" fill="#ee9a3e" stroke="none" stroke-width="1" />
<rect x="346.5" y="277.72" width="3.9" height="3.9" fill="#ee9a3e" stroke="none" stroke-width="1" />
<rect x="348.4" y="277.72" width="3.9" height="3.9" fill="#ee9a3e" stroke="none" stroke-width="1" />
<rect x="345.05" y="277.72" width="3.9" height="3.9" fill="#ee9a3e" stroke="none" stroke-width="1" />
<line x1="349.4" y1="279.43" x2="349.4" y2="280.21" stroke="#ee9a3e" stroke-width="0.9" />
<line x1="347.8" y1="279.43" x2="351" y2="279.43" stroke="#ee9a3e" stroke-width="0.9" />
<line x1="347.8" y1="280.21" x2="351" y2="280.21" stroke="#ee9a3e" stroke-width="0.9" />
<rect x="359.65" y="266.84" width="3.9" height="3.9" fill="#ee9a3e" stroke="none" stroke-width="1" />
<rect x="357.75" y="262.96" width="3.9" height="3.9" fill="#ee9a3e" stroke="none" stroke-width="1" />
<rect x="361.55" y="260.62" width="3.9" height="3.9" fill="#ee9a3e" stroke="none" stroke-width="1" />
<rect x="358.7" y="259.07" width="3.9" height="3.9" fill="#ee9a3e" stroke="none" stroke-width="1" />
<rect x="360.6" y="256.74" width="3.9" height="3.9" fill="#ee9a3e" stroke="none" stroke-width="1" />
<rect x="357.25" y="255.19" width="3.9" height="3.9" fill="#ee9a3e" stroke="none" stroke-width="1" />
<rect x="362.05" y="253.63" width="3.9" height="3.9" fill="#ee9a3e" stroke="none" stroke-width="1" />
<line x1="361.6" y1="257.52" x2="361.6" y2="264.52" stroke="#ee9a3e" stroke-width="0.9" />
<line x1="360" y1="257.52" x2="363.2" y2="257.52" stroke="#ee9a3e" stroke-width="0.9" />
<line x1="360" y1="264.52" x2="363.2" y2="264.52" stroke="#ee9a3e" stroke-width="0.9" />
<rect x="371.85" y="266.84" width="3.9" height="3.9" fill="#ee9a3e" stroke="none" stroke-width="1" />
<rect x="369.95" y="255.19" width="3.9" height="3.9" fill="#ee9a3e" stroke="none" stroke-width="1" />
<rect x="373.75" y="248.97" width="3.9" height="3.9" fill="#ee9a3e" stroke="none" stroke-width="1" />
<rect x="370.9" y="243.53" width="3.9" height="3.9" fill="#ee9a3e" stroke="none" stroke-width="1" />
<rect x="372.8" y="239.65" width="3.9" height="3.9" fill="#ee9a3e" stroke="none" stroke-width="1" />
<rect x="369.45" y="235.76" width="3.9" height="3.9" fill="#ee9a3e" stroke="none" stroke-width="1" />
<rect x="374.25" y="232.65" width="3.9" height="3.9" fill="#ee9a3e" stroke="none" stroke-width="1" />
<rect x="372.25" y="228.77" width="3.9" height="3.9" fill="#ee9a3e" stroke="none" stroke-width="1" />
<line x1="373.8" y1="236.54" x2="373.8" y2="256.75" stroke="#ee9a3e" stroke-width="0.9" />
<line x1="372.2" y1="236.54" x2="375.4" y2="236.54" stroke="#ee9a3e" stroke-width="0.9" />
<line x1="372.2" y1="256.75" x2="375.4" y2="256.75" stroke="#ee9a3e" stroke-width="0.9" />
<rect x="384.05" y="259.85" width="3.9" height="3.9" fill="#ee9a3e" stroke="none" stroke-width="1" />
<rect x="382.15" y="257.52" width="3.9" height="3.9" fill="#ee9a3e" stroke="none" stroke-width="1" />
<rect x="385.95" y="254.41" width="3.9" height="3.9" fill="#ee9a3e" stroke="none" stroke-width="1" />
<rect x="383.1" y="251.3" width="3.9" height="3.9" fill="#ee9a3e" stroke="none" stroke-width="1" />
<rect x="385" y="247.42" width="3.9" height="3.9" fill="#ee9a3e" stroke="none" stroke-width="1" />
<rect x="381.65" y="239.65" width="3.9" height="3.9" fill="#ee9a3e" stroke="none" stroke-width="1" />
<rect x="386.45" y="234.21" width="3.9" height="3.9" fill="#ee9a3e" stroke="none" stroke-width="1" />
<line x1="386" y1="246.26" x2="386" y2="260.24" stroke="#ee9a3e" stroke-width="0.9" />
<line x1="384.4" y1="246.26" x2="387.6" y2="246.26" stroke="#ee9a3e" stroke-width="0.9" />
<line x1="384.4" y1="260.24" x2="387.6" y2="260.24" stroke="#ee9a3e" stroke-width="0.9" />
<path d="M406.2,279.21 L408.35,283.08 L404.05,283.08 Z" stroke="none" stroke-width="1" fill="#f0737b" />
<path d="M404.3,279.21 L406.45,283.08 L402.15,283.08 Z" stroke="none" stroke-width="1" fill="#f0737b" />
<path d="M408.1,278.82 L410.25,282.69 L405.95,282.69 Z" stroke="none" stroke-width="1" fill="#f0737b" />
<path d="M405.25,278.82 L407.4,282.69 L403.1,282.69 Z" stroke="none" stroke-width="1" fill="#f0737b" />
<path d="M407.15,278.43 L409.3,282.3 L405,282.3 Z" stroke="none" stroke-width="1" fill="#f0737b" />
<line x1="406.2" y1="280.6" x2="406.2" y2="281.84" stroke="#f0737b" stroke-width="0.9" />
<line x1="404.6" y1="280.6" x2="407.8" y2="280.6" stroke="#f0737b" stroke-width="0.9" />
<line x1="404.6" y1="281.84" x2="407.8" y2="281.84" stroke="#f0737b" stroke-width="0.9" />
<path d="M418.4,256.29 L420.55,260.16 L416.25,260.16 Z" stroke="none" stroke-width="1" fill="#f0737b" />
<path d="M416.5,254.74 L418.65,258.61 L414.35,258.61 Z" stroke="none" stroke-width="1" fill="#f0737b" />
<path d="M420.3,253.18 L422.45,257.05 L418.15,257.05 Z" stroke="none" stroke-width="1" fill="#f0737b" />
<path d="M417.45,251.63 L419.6,255.5 L415.3,255.5 Z" stroke="none" stroke-width="1" fill="#f0737b" />
<path d="M419.35,250.85 L421.5,254.72 L417.2,254.72 Z" stroke="none" stroke-width="1" fill="#f0737b" />
<path d="M416,249.3 L418.15,253.17 L413.85,253.17 Z" stroke="none" stroke-width="1" fill="#f0737b" />
<path d="M420.8,245.41 L422.95,249.28 L418.65,249.28 Z" stroke="none" stroke-width="1" fill="#f0737b" />
<line x1="418.4" y1="251.7" x2="418.4" y2="257.91" stroke="#f0737b" stroke-width="0.9" />
<line x1="416.8" y1="251.7" x2="420" y2="251.7" stroke="#f0737b" stroke-width="0.9" />
<line x1="416.8" y1="257.91" x2="420" y2="257.91" stroke="#f0737b" stroke-width="0.9" />
<path d="M430.6,242.3 L432.75,246.17 L428.45,246.17 Z" stroke="none" stroke-width="1" fill="#f0737b" />
<path d="M428.7,239.97 L430.85,243.84 L426.55,243.84 Z" stroke="none" stroke-width="1" fill="#f0737b" />
<path d="M432.5,237.64 L434.65,241.51 L430.35,241.51 Z" stroke="none" stroke-width="1" fill="#f0737b" />
<path d="M429.65,236.09 L431.8,239.96 L427.5,239.96 Z" stroke="none" stroke-width="1" fill="#f0737b" />
<path d="M431.55,234.53 L433.7,238.4 L429.4,238.4 Z" stroke="none" stroke-width="1" fill="#f0737b" />
<path d="M428.2,232.98 L430.35,236.85 L426.05,236.85 Z" stroke="none" stroke-width="1" fill="#f0737b" />
<path d="M433,228.32 L435.15,232.19 L430.85,232.19 Z" stroke="none" stroke-width="1" fill="#f0737b" />
<line x1="430.6" y1="235.38" x2="430.6" y2="243.15" stroke="#f0737b" stroke-width="0.9" />
<line x1="429" y1="235.38" x2="432.2" y2="235.38" stroke="#f0737b" stroke-width="0.9" />
<line x1="429" y1="243.15" x2="432.2" y2="243.15" stroke="#f0737b" stroke-width="0.9" />
<path d="M442.8,236.09 L444.95,239.96 L440.65,239.96 Z" stroke="none" stroke-width="1" fill="#f0737b" />
<path d="M440.9,229.09 L443.05,232.96 L438.75,232.96 Z" stroke="none" stroke-width="1" fill="#f0737b" />
<path d="M444.7,227.54 L446.85,231.41 L442.55,231.41 Z" stroke="none" stroke-width="1" fill="#f0737b" />
<path d="M441.85,226.76 L444,230.63 L439.7,230.63 Z" stroke="none" stroke-width="1" fill="#f0737b" />
<path d="M443.75,225.21 L445.9,229.08 L441.6,229.08 Z" stroke="none" stroke-width="1" fill="#f0737b" />
<path d="M440.4,224.43 L442.55,228.3 L438.25,228.3 Z" stroke="none" stroke-width="1" fill="#f0737b" />
<path d="M445.2,223.66 L447.35,227.53 L443.05,227.53 Z" stroke="none" stroke-width="1" fill="#f0737b" />
<line x1="442.8" y1="226.06" x2="442.8" y2="232.27" stroke="#f0737b" stroke-width="0.9" />
<line x1="441.2" y1="226.06" x2="444.4" y2="226.06" stroke="#f0737b" stroke-width="0.9" />
<line x1="441.2" y1="232.27" x2="444.4" y2="232.27" stroke="#f0737b" stroke-width="0.9" />
<path d="M292.6,213.9 L292.6,207.6 L329.2,207.6 L329.2,267.4" stroke="#333" stroke-width="1" fill="none" />
<text x="310.9" y="201.3" font-size="7.1" text-anchor="middle" fill="#1a1a1a" dominant-baseline="central" textLength="20.9" lengthAdjust="spacingAndGlyphs" >0.5127</text>
<path d="M292.6,232.2 L292.6,226 L317,226 L317,245.64" stroke="#333" stroke-width="1" fill="none" />
<text x="304.8" y="219.7" font-size="7.1" text-anchor="middle" fill="#1a1a1a" dominant-baseline="central" textLength="24.5" lengthAdjust="spacingAndGlyphs" >&lt;0.0001</text>
<path d="M292.6,274.39 L292.6,244.3 L304.8,244.3 L304.8,253.41" stroke="#333" stroke-width="1" fill="none" />
<text x="298.7" y="238" font-size="7.1" text-anchor="middle" fill="#1a1a1a" dominant-baseline="central" textLength="24.5" lengthAdjust="spacingAndGlyphs" >&lt;0.0001</text>
<path d="M349.4,214 L349.4,207.8 L386,207.8 L386,231.66" stroke="#333" stroke-width="1" fill="none" />
<text x="367.7" y="201.5" font-size="7.1" text-anchor="middle" fill="#1a1a1a" dominant-baseline="central" textLength="24.5" lengthAdjust="spacingAndGlyphs" >&lt;0.0001</text>
<path d="M349.4,232.4 L349.4,226.1 L373.8,226.1 L373.8,230.6" stroke="#333" stroke-width="1" fill="none" />
<text x="361.6" y="219.8" font-size="7.1" text-anchor="middle" fill="#1a1a1a" dominant-baseline="central" textLength="24.5" lengthAdjust="spacingAndGlyphs" >&lt;0.0001</text>
<path d="M349.4,274.93 L349.4,244.5 L361.6,244.5 L361.6,251.08" stroke="#333" stroke-width="1" fill="none" />
<text x="355.5" y="238.2" font-size="7.1" text-anchor="middle" fill="#1a1a1a" dominant-baseline="central" textLength="24.5" lengthAdjust="spacingAndGlyphs" >&lt;0.0001</text>
<path d="M406.2,212.5 L406.2,207.8 L442.8,207.8 L442.8,221.56" stroke="#333" stroke-width="1" fill="none" />
<text x="424.5" y="201.5" font-size="7.1" text-anchor="middle" fill="#1a1a1a" dominant-baseline="central" textLength="24.5" lengthAdjust="spacingAndGlyphs" >&lt;0.0001</text>
<path d="M406.2,231.3 L406.2,224.6 L430.6,224.6 L430.6,229.1" stroke="#333" stroke-width="1" fill="none" />
<text x="418.4" y="218.3" font-size="7.1" text-anchor="middle" fill="#1a1a1a" dominant-baseline="central" textLength="24.5" lengthAdjust="spacingAndGlyphs" >&lt;0.0001</text>
<path d="M406.2,276.1 L406.2,243.4 L418.4,243.4 L418.4,247.9" stroke="#333" stroke-width="1" fill="none" />
<text x="412.3" y="237.1" font-size="7.1" text-anchor="middle" fill="#1a1a1a" dominant-baseline="central" textLength="24.5" lengthAdjust="spacingAndGlyphs" >&lt;0.0001</text>
<text x="257.1" y="249.8" font-size="7.9" text-anchor="middle" fill="#111" dominant-baseline="central" font-weight="bold" transform="rotate(-90 257.1 249.8)" >Skin</text>
<text x="265.2" y="249.8" font-size="7.9" font-weight="bold" fill="#111" text-anchor="middle" dominant-baseline="central" transform="rotate(-90 265.2 249.8)" textLength="59.4" lengthAdjust="spacingAndGlyphs">Copies/mL (Log<tspan font-size="4.4" dy="1.6">10</tspan><tspan dy="-1.6">)</tspan></text>
<text x="473.1" y="194.6" font-size="19.5" text-anchor="start" fill="#000" dominant-baseline="alphabetic" font-weight="bold" >e</text>
<line x1="515.4" y1="271.05" x2="683.5" y2="271.05" stroke="#333" stroke-width="1" stroke-dasharray="1.1 1.9"/>
<rect x="520.1" y="271.05" width="6.8" height="21.25" fill="none" stroke="#7f84d6" stroke-width="1.35" />
<rect x="532.3" y="268.39" width="6.8" height="23.91" fill="none" stroke="#7f84d6" stroke-width="1.35" />
<rect x="544.5" y="268.39" width="6.8" height="23.91" fill="none" stroke="#7f84d6" stroke-width="1.35" />
<rect x="556.7" y="268.93" width="6.8" height="23.38" fill="none" stroke="#7f84d6" stroke-width="1.35" />
<rect x="577.2" y="271.05" width="6.8" height="21.25" fill="none" stroke="#ee9a3e" stroke-width="1.35" />
<rect x="589.4" y="265.74" width="6.8" height="26.56" fill="none" stroke="#ee9a3e" stroke-width="1.35" />
<rect x="601.6" y="254.05" width="6.8" height="38.25" fill="none" stroke="#ee9a3e" stroke-width="1.35" />
<rect x="613.8" y="262.55" width="6.8" height="29.75" fill="none" stroke="#ee9a3e" stroke-width="1.35" />
<rect x="634.7" y="271.05" width="6.8" height="21.25" fill="none" stroke="#f0737b" stroke-width="1.35" />
<rect x="646.9" y="266.27" width="6.8" height="26.03" fill="none" stroke="#f0737b" stroke-width="1.35" />
<rect x="659.1" y="254.05" width="6.8" height="38.25" fill="none" stroke="#f0737b" stroke-width="1.35" />
<rect x="671.3" y="241.3" width="6.8" height="51" fill="none" stroke="#f0737b" stroke-width="1.35" />
<line x1="515.4" y1="207.3" x2="515.4" y2="292.3" stroke="#333333" stroke-width="1.2" />
<line x1="514.8" y1="292.3" x2="683.5" y2="292.3" stroke="#333333" stroke-width="1.2" />
<line x1="512.2" y1="292.3" x2="515.4" y2="292.3" stroke="#333333" stroke-width="1.1" />
<text x="511.2" y="292.5" font-size="6.9" text-anchor="end" fill="#222" dominant-baseline="central" >0</text>
<line x1="512.2" y1="271.05" x2="515.4" y2="271.05" stroke="#333333" stroke-width="1.1" />
<text x="511.2" y="271.25" font-size="6.9" text-anchor="end" fill="#222" dominant-baseline="central" >2</text>
<line x1="512.2" y1="249.8" x2="515.4" y2="249.8" stroke="#333333" stroke-width="1.1" />
<text x="511.2" y="250" font-size="6.9" text-anchor="end" fill="#222" dominant-baseline="central" >4</text>
<line x1="512.2" y1="228.55" x2="515.4" y2="228.55" stroke="#333333" stroke-width="1.1" />
<text x="511.2" y="228.75" font-size="6.9" text-anchor="end" fill="#222" dominant-baseline="central" >6</text>
<line x1="512.2" y1="207.3" x2="515.4" y2="207.3" stroke="#333333" stroke-width="1.1" />
<text x="511.2" y="207.5" font-size="6.9" text-anchor="end" fill="#222" dominant-baseline="central" >8</text>
<line x1="523.5" y1="292.3" x2="523.5" y2="295.7" stroke="#333333" stroke-width="1.1" />
<text x="524.5" y="299.9" font-size="6.9" fill="#222" text-anchor="end" dominant-baseline="central" textLength="21.0" lengthAdjust="spacingAndGlyphs" transform="rotate(-45 524.5 299.9)">Control</text>
<line x1="535.7" y1="292.3" x2="535.7" y2="295.7" stroke="#333333" stroke-width="1.1" />
<text x="536.7" y="299.9" font-size="6.9" fill="#222" text-anchor="end" dominant-baseline="central" textLength="12.3" lengthAdjust="spacingAndGlyphs" transform="rotate(-45 536.7 299.9)">3dpi</text>
<line x1="547.9" y1="292.3" x2="547.9" y2="295.7" stroke="#333333" stroke-width="1.1" />
<text x="548.9" y="299.9" font-size="6.9" fill="#222" text-anchor="end" dominant-baseline="central" textLength="12.3" lengthAdjust="spacingAndGlyphs" transform="rotate(-45 548.9 299.9)">7dpi</text>
<line x1="560.1" y1="292.3" x2="560.1" y2="295.7" stroke="#333333" stroke-width="1.1" />
<text x="561.1" y="299.9" font-size="6.9" fill="#222" text-anchor="end" dominant-baseline="central" textLength="15.5" lengthAdjust="spacingAndGlyphs" transform="rotate(-45 561.1 299.9)">14dpi</text>
<line x1="580.6" y1="292.3" x2="580.6" y2="295.7" stroke="#333333" stroke-width="1.1" />
<text x="581.6" y="299.9" font-size="6.9" fill="#222" text-anchor="end" dominant-baseline="central" textLength="21.0" lengthAdjust="spacingAndGlyphs" transform="rotate(-45 581.6 299.9)">Control</text>
<line x1="592.8" y1="292.3" x2="592.8" y2="295.7" stroke="#333333" stroke-width="1.1" />
<text x="593.8" y="299.9" font-size="6.9" fill="#222" text-anchor="end" dominant-baseline="central" textLength="12.3" lengthAdjust="spacingAndGlyphs" transform="rotate(-45 593.8 299.9)">3dpi</text>
<line x1="605" y1="292.3" x2="605" y2="295.7" stroke="#333333" stroke-width="1.1" />
<text x="606" y="299.9" font-size="6.9" fill="#222" text-anchor="end" dominant-baseline="central" textLength="12.3" lengthAdjust="spacingAndGlyphs" transform="rotate(-45 606 299.9)">7dpi</text>
<line x1="617.2" y1="292.3" x2="617.2" y2="295.7" stroke="#333333" stroke-width="1.1" />
<text x="618.2" y="299.9" font-size="6.9" fill="#222" text-anchor="end" dominant-baseline="central" textLength="15.5" lengthAdjust="spacingAndGlyphs" transform="rotate(-45 618.2 299.9)">14dpi</text>
<line x1="638.1" y1="292.3" x2="638.1" y2="295.7" stroke="#333333" stroke-width="1.1" />
<text x="639.1" y="299.9" font-size="6.9" fill="#222" text-anchor="end" dominant-baseline="central" textLength="21.0" lengthAdjust="spacingAndGlyphs" transform="rotate(-45 639.1 299.9)">Control</text>
<line x1="650.3" y1="292.3" x2="650.3" y2="295.7" stroke="#333333" stroke-width="1.1" />
<text x="651.3" y="299.9" font-size="6.9" fill="#222" text-anchor="end" dominant-baseline="central" textLength="12.3" lengthAdjust="spacingAndGlyphs" transform="rotate(-45 651.3 299.9)">3dpi</text>
<line x1="662.5" y1="292.3" x2="662.5" y2="295.7" stroke="#333333" stroke-width="1.1" />
<text x="663.5" y="299.9" font-size="6.9" fill="#222" text-anchor="end" dominant-baseline="central" textLength="12.3" lengthAdjust="spacingAndGlyphs" transform="rotate(-45 663.5 299.9)">7dpi</text>
<line x1="674.7" y1="292.3" x2="674.7" y2="295.7" stroke="#333333" stroke-width="1.1" />
<text x="675.7" y="299.9" font-size="6.9" fill="#222" text-anchor="end" dominant-baseline="central" textLength="15.5" lengthAdjust="spacingAndGlyphs" transform="rotate(-45 675.7 299.9)">14dpi</text>
<circle cx="523.5" cy="271.05" r="1.95" fill="#7f84d6" stroke="none" stroke-width="1" />
<circle cx="521.6" cy="271.05" r="1.95" fill="#7f84d6" stroke="none" stroke-width="1" />
<circle cx="525.4" cy="271.05" r="1.95" fill="#7f84d6" stroke="none" stroke-width="1" />
<circle cx="522.55" cy="271.05" r="1.95" fill="#7f84d6" stroke="none" stroke-width="1" />
<circle cx="524.45" cy="271.05" r="1.95" fill="#7f84d6" stroke="none" stroke-width="1" />
<circle cx="521.1" cy="271.05" r="1.95" fill="#7f84d6" stroke="none" stroke-width="1" />
<circle cx="535.7" cy="271.05" r="1.95" fill="#7f84d6" stroke="none" stroke-width="1" />
<circle cx="533.8" cy="271.05" r="1.95" fill="#7f84d6" stroke="none" stroke-width="1" />
<circle cx="537.6" cy="271.05" r="1.95" fill="#7f84d6" stroke="none" stroke-width="1" />
<circle cx="534.75" cy="265.74" r="1.95" fill="#7f84d6" stroke="none" stroke-width="1" />
<circle cx="536.65" cy="265.74" r="1.95" fill="#7f84d6" stroke="none" stroke-width="1" />
<circle cx="533.3" cy="265.74" r="1.95" fill="#7f84d6" stroke="none" stroke-width="1" />
<line x1="535.7" y1="265.74" x2="535.7" y2="271.05" stroke="#7f84d6" stroke-width="0.9" />
<line x1="534.1" y1="265.74" x2="537.3" y2="265.74" stroke="#7f84d6" stroke-width="0.9" />
<line x1="534.1" y1="271.05" x2="537.3" y2="271.05" stroke="#7f84d6" stroke-width="0.9" />
<circle cx="547.9" cy="271.05" r="1.95" fill="#7f84d6" stroke="none" stroke-width="1" />
<circle cx="546" cy="271.05" r="1.95" fill="#7f84d6" stroke="none" stroke-width="1" />
<circle cx="549.8" cy="268.93" r="1.95" fill="#7f84d6" stroke="none" stroke-width="1" />
<circle cx="546.95" cy="267.86" r="1.95" fill="#7f84d6" stroke="none" stroke-width="1" />
<circle cx="548.85" cy="265.74" r="1.95" fill="#7f84d6" stroke="none" stroke-width="1" />
<line x1="547.9" y1="266.27" x2="547.9" y2="270.52" stroke="#7f84d6" stroke-width="0.9" />
<line x1="546.3" y1="266.27" x2="549.5" y2="266.27" stroke="#7f84d6" stroke-width="0.9" />
<line x1="546.3" y1="270.52" x2="549.5" y2="270.52" stroke="#7f84d6" stroke-width="0.9" />
<circle cx="560.1" cy="271.05" r="1.95" fill="#7f84d6" stroke="none" stroke-width="1" />
<circle cx="558.2" cy="271.05" r="1.95" fill="#7f84d6" stroke="none" stroke-width="1" />
<circle cx="562" cy="271.05" r="1.95" fill="#7f84d6" stroke="none" stroke-width="1" />
<circle cx="559.15" cy="268.93" r="1.95" fill="#7f84d6" stroke="none" stroke-width="1" />
<circle cx="561.05" cy="265.74" r="1.95" fill="#7f84d6" stroke="none" stroke-width="1" />
<line x1="560.1" y1="266.8" x2="560.1" y2="271.05" stroke="#7f84d6" stroke-width="0.9" />
<line x1="558.5" y1="266.8" x2="561.7" y2="266.8" stroke="#7f84d6" stroke-width="0.9" />
<line x1="558.5" y1="271.05" x2="561.7" y2="271.05" stroke="#7f84d6" stroke-width="0.9" />
<rect x="578.65" y="269.1" width="3.9" height="3.9" fill="#ee9a3e" stroke="none" stroke-width="1" />
<rect x="576.75" y="269.1" width="3.9" height="3.9" fill="#ee9a3e" stroke="none" stroke-width="1" />
<rect x="580.55" y="269.1" width="3.9" height="3.9" fill="#ee9a3e" stroke="none" stroke-width="1" />
<rect x="577.7" y="269.1" width="3.9" height="3.9" fill="#ee9a3e" stroke="none" stroke-width="1" />
<rect x="579.6" y="269.1" width="3.9" height="3.9" fill="#ee9a3e" stroke="none" stroke-width="1" />
<rect x="576.25" y="269.1" width="3.9" height="3.9" fill="#ee9a3e" stroke="none" stroke-width="1" />
<rect x="590.85" y="266.98" width="3.9" height="3.9" fill="#ee9a3e" stroke="none" stroke-width="1" />
<rect x="588.95" y="263.79" width="3.9" height="3.9" fill="#ee9a3e" stroke="none" stroke-width="1" />
<rect x="592.75" y="263.79" width="3.9" height="3.9" fill="#ee9a3e" stroke="none" stroke-width="1" />
<rect x="589.9" y="263.79" width="3.9" height="3.9" fill="#ee9a3e" stroke="none" stroke-width="1" />
<rect x="591.8" y="262.73" width="3.9" height="3.9" fill="#ee9a3e" stroke="none" stroke-width="1" />
<line x1="592.8" y1="264.14" x2="592.8" y2="267.33" stroke="#ee9a3e" stroke-width="0.9" />
<line x1="591.2" y1="264.14" x2="594.4" y2="264.14" stroke="#ee9a3e" stroke-width="0.9" />
<line x1="591.2" y1="267.33" x2="594.4" y2="267.33" stroke="#ee9a3e" stroke-width="0.9" />
<rect x="603.05" y="260.6" width="3.9" height="3.9" fill="#ee9a3e" stroke="none" stroke-width="1" />
<rect x="601.15" y="253.16" width="3.9" height="3.9" fill="#ee9a3e" stroke="none" stroke-width="1" />
<rect x="604.95" y="252.1" width="3.9" height="3.9" fill="#ee9a3e" stroke="none" stroke-width="1" />
<rect x="602.1" y="249.98" width="3.9" height="3.9" fill="#ee9a3e" stroke="none" stroke-width="1" />
<rect x="604" y="247.85" width="3.9" height="3.9" fill="#ee9a3e" stroke="none" stroke-width="1" />
<line x1="605" y1="250.86" x2="605" y2="257.24" stroke="#ee9a3e" stroke-width="0.9" />
<line x1="603.4" y1="250.86" x2="606.6" y2="250.86" stroke="#ee9a3e" stroke-width="0.9" />
<line x1="603.4" y1="257.24" x2="606.6" y2="257.24" stroke="#ee9a3e" stroke-width="0.9" />
<rect x="615.25" y="269.1" width="3.9" height="3.9" fill="#ee9a3e" stroke="none" stroke-width="1" />
<rect x="613.35" y="265.91" width="3.9" height="3.9" fill="#ee9a3e" stroke="none" stroke-width="1" />
<rect x="617.15" y="263.79" width="3.9" height="3.9" fill="#ee9a3e" stroke="none" stroke-width="1" />
<rect x="614.3" y="260.6" width="3.9" height="3.9" fill="#ee9a3e" stroke="none" stroke-width="1" />
<rect x="616.2" y="253.16" width="3.9" height="3.9" fill="#ee9a3e" stroke="none" stroke-width="1" />
<rect x="612.85" y="247.85" width="3.9" height="3.9" fill="#ee9a3e" stroke="none" stroke-width="1" />
<line x1="617.2" y1="254.05" x2="617.2" y2="271.05" stroke="#ee9a3e" stroke-width="0.9" />
<line x1="615.6" y1="254.05" x2="618.8" y2="254.05" stroke="#ee9a3e" stroke-width="0.9" />
<line x1="615.6" y1="271.05" x2="618.8" y2="271.05" stroke="#ee9a3e" stroke-width="0.9" />
<path d="M638.1,268.65 L640.25,272.52 L635.95,272.52 Z" stroke="none" stroke-width="1" fill="#f0737b" />
<path d="M636.2,268.65 L638.35,272.52 L634.05,272.52 Z" stroke="none" stroke-width="1" fill="#f0737b" />
<path d="M640,268.65 L642.15,272.52 L637.85,272.52 Z" stroke="none" stroke-width="1" fill="#f0737b" />
<path d="M637.15,268.65 L639.3,272.52 L635,272.52 Z" stroke="none" stroke-width="1" fill="#f0737b" />
<path d="M639.05,268.65 L641.2,272.52 L636.9,272.52 Z" stroke="none" stroke-width="1" fill="#f0737b" />
<path d="M650.3,268.65 L652.45,272.52 L648.15,272.52 Z" stroke="none" stroke-width="1" fill="#f0737b" />
<path d="M648.4,266.53 L650.55,270.4 L646.25,270.4 Z" stroke="none" stroke-width="1" fill="#f0737b" />
<path d="M652.2,265.46 L654.35,269.33 L650.05,269.33 Z" stroke="none" stroke-width="1" fill="#f0737b" />
<path d="M649.35,263.34 L651.5,267.21 L647.2,267.21 Z" stroke="none" stroke-width="1" fill="#f0737b" />
<path d="M651.25,260.15 L653.4,264.02 L649.1,264.02 Z" stroke="none" stroke-width="1" fill="#f0737b" />
<line x1="650.3" y1="263.08" x2="650.3" y2="269.46" stroke="#f0737b" stroke-width="0.9" />
<line x1="648.7" y1="263.08" x2="651.9" y2="263.08" stroke="#f0737b" stroke-width="0.9" />
<line x1="648.7" y1="269.46" x2="651.9" y2="269.46" stroke="#f0737b" stroke-width="0.9" />
<path d="M662.5,258.03 L664.65,261.9 L660.35,261.9 Z" stroke="none" stroke-width="1" fill="#f0737b" />
<path d="M660.6,252.71 L662.75,256.58 L658.45,256.58 Z" stroke="none" stroke-width="1" fill="#f0737b" />
<path d="M664.4,250.59 L666.55,254.46 L662.25,254.46 Z" stroke="none" stroke-width="1" fill="#f0737b" />
<path d="M661.55,249.53 L663.7,253.4 L659.4,253.4 Z" stroke="none" stroke-width="1" fill="#f0737b" />
<path d="M663.45,248.46 L665.6,252.33 L661.3,252.33 Z" stroke="none" stroke-width="1" fill="#f0737b" />
<line x1="662.5" y1="250.86" x2="662.5" y2="257.24" stroke="#f0737b" stroke-width="0.9" />
<line x1="660.9" y1="250.86" x2="664.1" y2="250.86" stroke="#f0737b" stroke-width="0.9" />
<line x1="660.9" y1="257.24" x2="664.1" y2="257.24" stroke="#f0737b" stroke-width="0.9" />
<path d="M674.7,245.28 L676.85,249.15 L672.55,249.15 Z" stroke="none" stroke-width="1" fill="#f0737b" />
<path d="M672.8,242.09 L674.95,245.96 L670.65,245.96 Z" stroke="none" stroke-width="1" fill="#f0737b" />
<path d="M676.6,238.9 L678.75,242.77 L674.45,242.77 Z" stroke="none" stroke-width="1" fill="#f0737b" />
<path d="M673.75,236.78 L675.9,240.65 L671.6,240.65 Z" stroke="none" stroke-width="1" fill="#f0737b" />
<path d="M675.65,231.46 L677.8,235.33 L673.5,235.33 Z" stroke="none" stroke-width="1" fill="#f0737b" />
<path d="M672.3,228.28 L674.45,232.15 L670.15,232.15 Z" stroke="none" stroke-width="1" fill="#f0737b" />
<line x1="674.7" y1="237.05" x2="674.7" y2="245.55" stroke="#f0737b" stroke-width="0.9" />
<line x1="673.1" y1="237.05" x2="676.3" y2="237.05" stroke="#f0737b" stroke-width="0.9" />
<line x1="673.1" y1="245.55" x2="676.3" y2="245.55" stroke="#f0737b" stroke-width="0.9" />
<path d="M523.5,218.3 L523.5,206.3 L560.1,206.3 L560.1,261.24" stroke="#333" stroke-width="1" fill="none" />
<text x="541.8" y="200" font-size="7.1" text-anchor="middle" fill="#1a1a1a" dominant-baseline="central" textLength="20.9" lengthAdjust="spacingAndGlyphs" >0.2448</text>
<path d="M523.5,238.1 L523.5,230.4 L547.9,230.4 L547.9,261.24" stroke="#333" stroke-width="1" fill="none" />
<text x="535.7" y="224.1" font-size="7.1" text-anchor="middle" fill="#1a1a1a" dominant-baseline="central" textLength="20.9" lengthAdjust="spacingAndGlyphs" >0.0808</text>
<path d="M523.5,266.55 L523.5,250.2 L535.7,250.2 L535.7,261.24" stroke="#333" stroke-width="1" fill="none" />
<text x="529.6" y="243.9" font-size="7.1" text-anchor="middle" fill="#1a1a1a" dominant-baseline="central" textLength="20.9" lengthAdjust="spacingAndGlyphs" >0.1341</text>
<path d="M580.6,218.4 L580.6,206.1 L617.2,206.1 L617.2,245.3" stroke="#333" stroke-width="1" fill="none" />
<text x="598.9" y="199.8" font-size="7.1" text-anchor="middle" fill="#1a1a1a" dominant-baseline="central" textLength="24.5" lengthAdjust="spacingAndGlyphs" >&lt;0.0001</text>
<path d="M580.6,238.1 L580.6,230.5 L605,230.5 L605,245.3" stroke="#333" stroke-width="1" fill="none" />
<text x="592.8" y="224.2" font-size="7.1" text-anchor="middle" fill="#1a1a1a" dominant-baseline="central" textLength="24.5" lengthAdjust="spacingAndGlyphs" >&lt;0.0001</text>
<path d="M580.6,266.55 L580.6,250.2 L592.8,250.2 L592.8,259.64" stroke="#333" stroke-width="1" fill="none" />
<text x="586.7" y="243.9" font-size="7.1" text-anchor="middle" fill="#1a1a1a" dominant-baseline="central" textLength="20.9" lengthAdjust="spacingAndGlyphs" >0.0675</text>
<path d="M638.1,218.2 L638.1,206.4 L674.7,206.4 L674.7,226.18" stroke="#333" stroke-width="1" fill="none" />
<text x="656.4" y="200.1" font-size="7.1" text-anchor="middle" fill="#1a1a1a" dominant-baseline="central" textLength="24.5" lengthAdjust="spacingAndGlyphs" >&lt;0.0001</text>
<path d="M638.1,237.9 L638.1,230.3 L662.5,230.3 L662.5,246.36" stroke="#333" stroke-width="1" fill="none" />
<text x="650.3" y="224" font-size="7.1" text-anchor="middle" fill="#1a1a1a" dominant-baseline="central" textLength="24.5" lengthAdjust="spacingAndGlyphs" >&lt;0.0001</text>
<path d="M638.1,266.55 L638.1,250 L650.3,250 L650.3,258.05" stroke="#333" stroke-width="1" fill="none" />
<text x="644.2" y="243.7" font-size="7.1" text-anchor="middle" fill="#1a1a1a" dominant-baseline="central" textLength="20.9" lengthAdjust="spacingAndGlyphs" >0.0069</text>
<text x="491.2" y="250.1" font-size="7.9" text-anchor="middle" fill="#111" dominant-baseline="central" font-weight="bold" transform="rotate(-90 491.2 250.1)" >Skin</text>
<text x="499.9" y="250.1" font-size="7.9" font-weight="bold" fill="#111" text-anchor="middle" dominant-baseline="central" transform="rotate(-90 499.9 250.1)" textLength="61.4" lengthAdjust="spacingAndGlyphs">TCID<tspan font-size="4.4" dy="1.6">50</tspan><tspan dy="-1.6">/mL (Log</tspan><tspan font-size="4.4" dy="1.6">10</tspan><tspan dy="-1.6">)</tspan></text>
<text x="245" y="331.5" font-size="19.5" text-anchor="start" fill="#000" dominant-baseline="alphabetic" font-weight="bold" >f</text>
<line x1="283.1" y1="406.17" x2="452" y2="406.17" stroke="#333" stroke-width="1" stroke-dasharray="1.1 1.9"/>
<rect x="288" y="413.27" width="6.8" height="18.03" fill="none" stroke="#7f84d6" stroke-width="1.35" />
<rect x="300.2" y="408.15" width="6.8" height="23.15" fill="none" stroke="#7f84d6" stroke-width="1.35" />
<rect x="312.4" y="412.27" width="6.8" height="19.03" fill="none" stroke="#7f84d6" stroke-width="1.35" />
<rect x="324.6" y="410.85" width="6.8" height="20.45" fill="none" stroke="#7f84d6" stroke-width="1.35" />
<rect x="345.1" y="411.7" width="6.8" height="19.6" fill="none" stroke="#ee9a3e" stroke-width="1.35" />
<rect x="357.3" y="410.71" width="6.8" height="20.59" fill="none" stroke="#ee9a3e" stroke-width="1.35" />
<rect x="369.5" y="408.01" width="6.8" height="23.29" fill="none" stroke="#ee9a3e" stroke-width="1.35" />
<rect x="381.7" y="410.71" width="6.8" height="20.59" fill="none" stroke="#ee9a3e" stroke-width="1.35" />
<rect x="402" y="412.7" width="6.8" height="18.6" fill="none" stroke="#f0737b" stroke-width="1.35" />
<rect x="414.2" y="392.53" width="6.8" height="38.77" fill="none" stroke="#f0737b" stroke-width="1.35" />
<rect x="426.4" y="385.01" width="6.8" height="46.29" fill="none" stroke="#f0737b" stroke-width="1.35" />
<rect x="438.6" y="373.79" width="6.8" height="57.51" fill="none" stroke="#f0737b" stroke-width="1.35" />
<line x1="283.1" y1="346.1" x2="283.1" y2="431.3" stroke="#333333" stroke-width="1.2" />
<line x1="282.5" y1="431.3" x2="452" y2="431.3" stroke="#333333" stroke-width="1.2" />
<line x1="279.9" y1="431.3" x2="283.1" y2="431.3" stroke="#333333" stroke-width="1.1" />
<text x="278.9" y="431.5" font-size="6.9" text-anchor="end" fill="#222" dominant-baseline="central" >0</text>
<line x1="279.9" y1="402.9" x2="283.1" y2="402.9" stroke="#333333" stroke-width="1.1" />
<text x="278.9" y="403.1" font-size="6.9" text-anchor="end" fill="#222" dominant-baseline="central" >2</text>
<line x1="279.9" y1="374.5" x2="283.1" y2="374.5" stroke="#333333" stroke-width="1.1" />
<text x="278.9" y="374.7" font-size="6.9" text-anchor="end" fill="#222" dominant-baseline="central" >4</text>
<line x1="279.9" y1="346.1" x2="283.1" y2="346.1" stroke="#333333" stroke-width="1.1" />
<text x="278.9" y="346.3" font-size="6.9" text-anchor="end" fill="#222" dominant-baseline="central" >6</text>
<line x1="291.4" y1="431.3" x2="291.4" y2="434.7" stroke="#333333" stroke-width="1.1" />
<text x="292.4" y="438.9" font-size="6.9" fill="#222" text-anchor="end" dominant-baseline="central" textLength="21.0" lengthAdjust="spacingAndGlyphs" transform="rotate(-45 292.4 438.9)">Control</text>
<line x1="303.6" y1="431.3" x2="303.6" y2="434.7" stroke="#333333" stroke-width="1.1" />
<text x="304.6" y="438.9" font-size="6.9" fill="#222" text-anchor="end" dominant-baseline="central" textLength="12.3" lengthAdjust="spacingAndGlyphs" transform="rotate(-45 304.6 438.9)">3dpi</text>
<line x1="315.8" y1="431.3" x2="315.8" y2="434.7" stroke="#333333" stroke-width="1.1" />
<text x="316.8" y="438.9" font-size="6.9" fill="#222" text-anchor="end" dominant-baseline="central" textLength="12.3" lengthAdjust="spacingAndGlyphs" transform="rotate(-45 316.8 438.9)">7dpi</text>
<line x1="328" y1="431.3" x2="328" y2="434.7" stroke="#333333" stroke-width="1.1" />
<text x="329" y="438.9" font-size="6.9" fill="#222" text-anchor="end" dominant-baseline="central" textLength="15.5" lengthAdjust="spacingAndGlyphs" transform="rotate(-45 329 438.9)">14dpi</text>
<line x1="348.5" y1="431.3" x2="348.5" y2="434.7" stroke="#333333" stroke-width="1.1" />
<text x="349.5" y="438.9" font-size="6.9" fill="#222" text-anchor="end" dominant-baseline="central" textLength="21.0" lengthAdjust="spacingAndGlyphs" transform="rotate(-45 349.5 438.9)">Control</text>
<line x1="360.7" y1="431.3" x2="360.7" y2="434.7" stroke="#333333" stroke-width="1.1" />
<text x="361.7" y="438.9" font-size="6.9" fill="#222" text-anchor="end" dominant-baseline="central" textLength="12.3" lengthAdjust="spacingAndGlyphs" transform="rotate(-45 361.7 438.9)">3dpi</text>
<line x1="372.9" y1="431.3" x2="372.9" y2="434.7" stroke="#333333" stroke-width="1.1" />
<text x="373.9" y="438.9" font-size="6.9" fill="#222" text-anchor="end" dominant-baseline="central" textLength="12.3" lengthAdjust="spacingAndGlyphs" transform="rotate(-45 373.9 438.9)">7dpi</text>
<line x1="385.1" y1="431.3" x2="385.1" y2="434.7" stroke="#333333" stroke-width="1.1" />
<text x="386.1" y="438.9" font-size="6.9" fill="#222" text-anchor="end" dominant-baseline="central" textLength="15.5" lengthAdjust="spacingAndGlyphs" transform="rotate(-45 386.1 438.9)">14dpi</text>
<line x1="405.4" y1="431.3" x2="405.4" y2="434.7" stroke="#333333" stroke-width="1.1" />
<text x="406.4" y="438.9" font-size="6.9" fill="#222" text-anchor="end" dominant-baseline="central" textLength="21.0" lengthAdjust="spacingAndGlyphs" transform="rotate(-45 406.4 438.9)">Control</text>
<line x1="417.6" y1="431.3" x2="417.6" y2="434.7" stroke="#333333" stroke-width="1.1" />
<text x="418.6" y="438.9" font-size="6.9" fill="#222" text-anchor="end" dominant-baseline="central" textLength="12.3" lengthAdjust="spacingAndGlyphs" transform="rotate(-45 418.6 438.9)">3dpi</text>
<line x1="429.8" y1="431.3" x2="429.8" y2="434.7" stroke="#333333" stroke-width="1.1" />
<text x="430.8" y="438.9" font-size="6.9" fill="#222" text-anchor="end" dominant-baseline="central" textLength="12.3" lengthAdjust="spacingAndGlyphs" transform="rotate(-45 430.8 438.9)">7dpi</text>
<line x1="442" y1="431.3" x2="442" y2="434.7" stroke="#333333" stroke-width="1.1" />
<text x="443" y="438.9" font-size="6.9" fill="#222" text-anchor="end" dominant-baseline="central" textLength="15.5" lengthAdjust="spacingAndGlyphs" transform="rotate(-45 443 438.9)">14dpi</text>
<circle cx="291.4" cy="417.1" r="1.95" fill="#7f84d6" stroke="none" stroke-width="1" />
<circle cx="289.5" cy="415.68" r="1.95" fill="#7f84d6" stroke="none" stroke-width="1" />
<circle cx="293.3" cy="414.26" r="1.95" fill="#7f84d6" stroke="none" stroke-width="1" />
<circle cx="290.45" cy="412.84" r="1.95" fill="#7f84d6" stroke="none" stroke-width="1" />
<circle cx="292.35" cy="411.42" r="1.95" fill="#7f84d6" stroke="none" stroke-width="1" />
<circle cx="289" cy="410" r="1.95" fill="#7f84d6" stroke="none" stroke-width="1" />
<circle cx="293.8" cy="405.74" r="1.95" fill="#7f84d6" stroke="none" stroke-width="1" />
<line x1="291.4" y1="410.43" x2="291.4" y2="416.11" stroke="#7f84d6" stroke-width="0.9" />
<line x1="289.8" y1="410.43" x2="293" y2="410.43" stroke="#7f84d6" stroke-width="0.9" />
<line x1="289.8" y1="416.11" x2="293" y2="416.11" stroke="#7f84d6" stroke-width="0.9" />
<circle cx="303.6" cy="412.84" r="1.95" fill="#7f84d6" stroke="none" stroke-width="1" />
<circle cx="301.7" cy="410" r="1.95" fill="#7f84d6" stroke="none" stroke-width="1" />
<circle cx="305.5" cy="408.58" r="1.95" fill="#7f84d6" stroke="none" stroke-width="1" />
<circle cx="302.65" cy="407.16" r="1.95" fill="#7f84d6" stroke="none" stroke-width="1" />
<circle cx="304.55" cy="405.74" r="1.95" fill="#7f84d6" stroke="none" stroke-width="1" />
<circle cx="301.2" cy="401.48" r="1.95" fill="#7f84d6" stroke="none" stroke-width="1" />
<line x1="303.6" y1="405.31" x2="303.6" y2="410.99" stroke="#7f84d6" stroke-width="0.9" />
<line x1="302" y1="405.31" x2="305.2" y2="405.31" stroke="#7f84d6" stroke-width="0.9" />
<line x1="302" y1="410.99" x2="305.2" y2="410.99" stroke="#7f84d6" stroke-width="0.9" />
<circle cx="315.8" cy="417.1" r="1.95" fill="#7f84d6" stroke="none" stroke-width="1" />
<circle cx="313.9" cy="414.26" r="1.95" fill="#7f84d6" stroke="none" stroke-width="1" />
<circle cx="317.7" cy="412.84" r="1.95" fill="#7f84d6" stroke="none" stroke-width="1" />
<circle cx="314.85" cy="410" r="1.95" fill="#7f84d6" stroke="none" stroke-width="1" />
<circle cx="316.75" cy="408.58" r="1.95" fill="#7f84d6" stroke="none" stroke-width="1" />
<line x1="315.8" y1="409.43" x2="315.8" y2="415.11" stroke="#7f84d6" stroke-width="0.9" />
<line x1="314.2" y1="409.43" x2="317.4" y2="409.43" stroke="#7f84d6" stroke-width="0.9" />
<line x1="314.2" y1="415.11" x2="317.4" y2="415.11" stroke="#7f84d6" stroke-width="0.9" />
<circle cx="328" cy="414.26" r="1.95" fill="#7f84d6" stroke="none" stroke-width="1" />
<circle cx="326.1" cy="412.84" r="1.95" fill="#7f84d6" stroke="none" stroke-width="1" />
<circle cx="329.9" cy="411.42" r="1.95" fill="#7f84d6" stroke="none" stroke-width="1" />
<circle cx="327.05" cy="410" r="1.95" fill="#7f84d6" stroke="none" stroke-width="1" />
<circle cx="328.95" cy="407.16" r="1.95" fill="#7f84d6" stroke="none" stroke-width="1" />
<line x1="328" y1="408.72" x2="328" y2="412.98" stroke="#7f84d6" stroke-width="0.9" />
<line x1="326.4" y1="408.72" x2="329.6" y2="408.72" stroke="#7f84d6" stroke-width="0.9" />
<line x1="326.4" y1="412.98" x2="329.6" y2="412.98" stroke="#7f84d6" stroke-width="0.9" />
<rect x="346.55" y="415.15" width="3.9" height="3.9" fill="#ee9a3e" stroke="none" stroke-width="1" />
<rect x="344.65" y="412.31" width="3.9" height="3.9" fill="#ee9a3e" stroke="none" stroke-width="1" />
<rect x="348.45" y="409.47" width="3.9" height="3.9" fill="#ee9a3e" stroke="none" stroke-width="1" />
<rect x="345.6" y="408.05" width="3.9" height="3.9" fill="#ee9a3e" stroke="none" stroke-width="1" />
<rect x="347.5" y="405.21" width="3.9" height="3.9" fill="#ee9a3e" stroke="none" stroke-width="1" />
<line x1="348.5" y1="408.15" x2="348.5" y2="415.25" stroke="#ee9a3e" stroke-width="0.9" />
<line x1="346.9" y1="408.15" x2="350.1" y2="408.15" stroke="#ee9a3e" stroke-width="0.9" />
<line x1="346.9" y1="415.25" x2="350.1" y2="415.25" stroke="#ee9a3e" stroke-width="0.9" />
<rect x="358.75" y="415.15" width="3.9" height="3.9" fill="#ee9a3e" stroke="none" stroke-width="1" />
<rect x="356.85" y="412.31" width="3.9" height="3.9" fill="#ee9a3e" stroke="none" stroke-width="1" />
<rect x="360.65" y="408.05" width="3.9" height="3.9" fill="#ee9a3e" stroke="none" stroke-width="1" />
<rect x="357.8" y="406.63" width="3.9" height="3.9" fill="#ee9a3e" stroke="none" stroke-width="1" />
<rect x="359.7" y="405.21" width="3.9" height="3.9" fill="#ee9a3e" stroke="none" stroke-width="1" />
<rect x="356.35" y="402.37" width="3.9" height="3.9" fill="#ee9a3e" stroke="none" stroke-width="1" />
<line x1="360.7" y1="406.45" x2="360.7" y2="414.97" stroke="#ee9a3e" stroke-width="0.9" />
<line x1="359.1" y1="406.45" x2="362.3" y2="406.45" stroke="#ee9a3e" stroke-width="0.9" />
<line x1="359.1" y1="414.97" x2="362.3" y2="414.97" stroke="#ee9a3e" stroke-width="0.9" />
<rect x="370.95" y="413.73" width="3.9" height="3.9" fill="#ee9a3e" stroke="none" stroke-width="1" />
<rect x="369.05" y="409.47" width="3.9" height="3.9" fill="#ee9a3e" stroke="none" stroke-width="1" />
<rect x="372.85" y="405.21" width="3.9" height="3.9" fill="#ee9a3e" stroke="none" stroke-width="1" />
<rect x="370" y="402.37" width="3.9" height="3.9" fill="#ee9a3e" stroke="none" stroke-width="1" />
<rect x="371.9" y="400.95" width="3.9" height="3.9" fill="#ee9a3e" stroke="none" stroke-width="1" />
<rect x="368.55" y="399.53" width="3.9" height="3.9" fill="#ee9a3e" stroke="none" stroke-width="1" />
<line x1="372.9" y1="403.04" x2="372.9" y2="412.98" stroke="#ee9a3e" stroke-width="0.9" />
<line x1="371.3" y1="403.04" x2="374.5" y2="403.04" stroke="#ee9a3e" stroke-width="0.9" />
<line x1="371.3" y1="412.98" x2="374.5" y2="412.98" stroke="#ee9a3e" stroke-width="0.9" />
<rect x="383.15" y="413.73" width="3.9" height="3.9" fill="#ee9a3e" stroke="none" stroke-width="1" />
<rect x="381.25" y="410.89" width="3.9" height="3.9" fill="#ee9a3e" stroke="none" stroke-width="1" />
<rect x="385.05" y="408.05" width="3.9" height="3.9" fill="#ee9a3e" stroke="none" stroke-width="1" />
<rect x="382.2" y="406.63" width="3.9" height="3.9" fill="#ee9a3e" stroke="none" stroke-width="1" />
<rect x="384.1" y="405.21" width="3.9" height="3.9" fill="#ee9a3e" stroke="none" stroke-width="1" />
<line x1="385.1" y1="407.87" x2="385.1" y2="413.55" stroke="#ee9a3e" stroke-width="0.9" />
<line x1="383.5" y1="407.87" x2="386.7" y2="407.87" stroke="#ee9a3e" stroke-width="0.9" />
<line x1="383.5" y1="413.55" x2="386.7" y2="413.55" stroke="#ee9a3e" stroke-width="0.9" />
<path d="M405.4,414.7 L407.55,418.57 L403.25,418.57 Z" stroke="none" stroke-width="1" fill="#f0737b" />
<path d="M403.5,411.86 L405.65,415.73 L401.35,415.73 Z" stroke="none" stroke-width="1" fill="#f0737b" />
<path d="M407.3,409.02 L409.45,412.89 L405.15,412.89 Z" stroke="none" stroke-width="1" fill="#f0737b" />
<path d="M404.45,406.18 L406.6,410.05 L402.3,410.05 Z" stroke="none" stroke-width="1" fill="#f0737b" />
<line x1="405.4" y1="409.86" x2="405.4" y2="415.54" stroke="#f0737b" stroke-width="0.9" />
<line x1="403.8" y1="409.86" x2="407" y2="409.86" stroke="#f0737b" stroke-width="0.9" />
<line x1="403.8" y1="415.54" x2="407" y2="415.54" stroke="#f0737b" stroke-width="0.9" />
<path d="M417.6,393.4 L419.75,397.27 L415.45,397.27 Z" stroke="none" stroke-width="1" fill="#f0737b" />
<path d="M415.7,391.98 L417.85,395.85 L413.55,395.85 Z" stroke="none" stroke-width="1" fill="#f0737b" />
<path d="M419.5,389.14 L421.65,393.01 L417.35,393.01 Z" stroke="none" stroke-width="1" fill="#f0737b" />
<path d="M416.65,387.72 L418.8,391.59 L414.5,391.59 Z" stroke="none" stroke-width="1" fill="#f0737b" />
<path d="M418.55,386.3 L420.7,390.17 L416.4,390.17 Z" stroke="none" stroke-width="1" fill="#f0737b" />
<line x1="417.6" y1="389.69" x2="417.6" y2="395.37" stroke="#f0737b" stroke-width="0.9" />
<line x1="416" y1="389.69" x2="419.2" y2="389.69" stroke="#f0737b" stroke-width="0.9" />
<line x1="416" y1="395.37" x2="419.2" y2="395.37" stroke="#f0737b" stroke-width="0.9" />
<path d="M429.8,386.3 L431.95,390.17 L427.65,390.17 Z" stroke="none" stroke-width="1" fill="#f0737b" />
<path d="M427.9,383.46 L430.05,387.33 L425.75,387.33 Z" stroke="none" stroke-width="1" fill="#f0737b" />
<path d="M431.7,382.04 L433.85,385.91 L429.55,385.91 Z" stroke="none" stroke-width="1" fill="#f0737b" />
<path d="M428.85,380.62 L431,384.49 L426.7,384.49 Z" stroke="none" stroke-width="1" fill="#f0737b" />
<path d="M430.75,377.78 L432.9,381.65 L428.6,381.65 Z" stroke="none" stroke-width="1" fill="#f0737b" />
<line x1="429.8" y1="382.17" x2="429.8" y2="387.85" stroke="#f0737b" stroke-width="0.9" />
<line x1="428.2" y1="382.17" x2="431.4" y2="382.17" stroke="#f0737b" stroke-width="0.9" />
<line x1="428.2" y1="387.85" x2="431.4" y2="387.85" stroke="#f0737b" stroke-width="0.9" />
<path d="M442,377.78 L444.15,381.65 L439.85,381.65 Z" stroke="none" stroke-width="1" fill="#f0737b" />
<path d="M440.1,373.52 L442.25,377.39 L437.95,377.39 Z" stroke="none" stroke-width="1" fill="#f0737b" />
<path d="M443.9,370.68 L446.05,374.55 L441.75,374.55 Z" stroke="none" stroke-width="1" fill="#f0737b" />
<path d="M441.05,367.84 L443.2,371.71 L438.9,371.71 Z" stroke="none" stroke-width="1" fill="#f0737b" />
<path d="M442.95,366.42 L445.1,370.29 L440.8,370.29 Z" stroke="none" stroke-width="1" fill="#f0737b" />
<line x1="442" y1="370.24" x2="442" y2="377.34" stroke="#f0737b" stroke-width="0.9" />
<line x1="440.4" y1="370.24" x2="443.6" y2="370.24" stroke="#f0737b" stroke-width="0.9" />
<line x1="440.4" y1="377.34" x2="443.6" y2="377.34" stroke="#f0737b" stroke-width="0.9" />
<path d="M291.4,350.8 L291.4,345.6 L328,345.6 L328,402.66" stroke="#333" stroke-width="1" fill="none" />
<text x="309.7" y="339.3" font-size="7.1" text-anchor="middle" fill="#1a1a1a" dominant-baseline="central" textLength="20.9" lengthAdjust="spacingAndGlyphs" >0.8763</text>
<path d="M291.4,380.1 L291.4,362.9 L315.8,362.9 L315.8,404.08" stroke="#333" stroke-width="1" fill="none" />
<text x="303.6" y="356.6" font-size="7.1" text-anchor="middle" fill="#1a1a1a" dominant-baseline="central" textLength="20.9" lengthAdjust="spacingAndGlyphs" >0.9339</text>
<path d="M291.4,401.24 L291.4,392.2 L303.6,392.2 L303.6,396.98" stroke="#333" stroke-width="1" fill="none" />
<text x="297.5" y="385.9" font-size="7.1" text-anchor="middle" fill="#1a1a1a" dominant-baseline="central" textLength="20.9" lengthAdjust="spacingAndGlyphs" >0.1202</text>
<path d="M348.5,351.5 L348.5,345.3 L385.1,345.3 L385.1,402.66" stroke="#333" stroke-width="1" fill="none" />
<text x="366.8" y="339" font-size="7.1" text-anchor="middle" fill="#1a1a1a" dominant-baseline="central" textLength="20.9" lengthAdjust="spacingAndGlyphs" >0.8478</text>
<path d="M348.5,378.7 L348.5,363.6 L372.9,363.6 L372.9,396.98" stroke="#333" stroke-width="1" fill="none" />
<text x="360.7" y="357.3" font-size="7.1" text-anchor="middle" fill="#1a1a1a" dominant-baseline="central" textLength="20.9" lengthAdjust="spacingAndGlyphs" >0.0149</text>
<path d="M348.5,402.66 L348.5,390.8 L360.7,390.8 L360.7,399.82" stroke="#333" stroke-width="1" fill="none" />
<text x="354.6" y="384.5" font-size="7.1" text-anchor="middle" fill="#1a1a1a" dominant-baseline="central" textLength="20.9" lengthAdjust="spacingAndGlyphs" >0.4894</text>
<path d="M405.4,352 L405.4,347.2 L442,347.2 L442,364.32" stroke="#333" stroke-width="1" fill="none" />
<text x="423.7" y="340.9" font-size="7.1" text-anchor="middle" fill="#1a1a1a" dominant-baseline="central" textLength="24.5" lengthAdjust="spacingAndGlyphs" >&lt;0.0001</text>
<path d="M405.4,369.3 L405.4,364.1 L429.8,364.1 L429.8,375.68" stroke="#333" stroke-width="1" fill="none" />
<text x="417.6" y="357.8" font-size="7.1" text-anchor="middle" fill="#1a1a1a" dominant-baseline="central" textLength="24.5" lengthAdjust="spacingAndGlyphs" >&lt;0.0001</text>
<path d="M405.4,404.08 L405.4,381.4 L417.6,381.4 L417.6,385.9" stroke="#333" stroke-width="1" fill="none" />
<text x="411.5" y="375.1" font-size="7.1" text-anchor="middle" fill="#1a1a1a" dominant-baseline="central" textLength="24.5" lengthAdjust="spacingAndGlyphs" >&lt;0.0001</text>
<text x="259.1" y="389.5" font-size="7.9" text-anchor="middle" fill="#111" dominant-baseline="central" font-weight="bold" transform="rotate(-90 259.1 389.5)" >Lung</text>
<text x="267.2" y="389.5" font-size="7.9" font-weight="bold" fill="#111" text-anchor="middle" dominant-baseline="central" transform="rotate(-90 267.2 389.5)" textLength="59.4" lengthAdjust="spacingAndGlyphs">Copies/mL (Log<tspan font-size="4.4" dy="1.6">10</tspan><tspan dy="-1.6">)</tspan></text>
<text x="472.5" y="329.5" font-size="19.5" text-anchor="start" fill="#000" dominant-baseline="alphabetic" font-weight="bold" >g</text>
<line x1="515.8" y1="395.96" x2="683.5" y2="395.96" stroke="#333" stroke-width="1" stroke-dasharray="1.1 1.9"/>
<rect x="520.1" y="395.96" width="6.8" height="33.84" fill="none" stroke="#7f84d6" stroke-width="1.35" />
<rect x="532.3" y="395.96" width="6.8" height="33.84" fill="none" stroke="#7f84d6" stroke-width="1.35" />
<rect x="544.5" y="395.96" width="6.8" height="33.84" fill="none" stroke="#7f84d6" stroke-width="1.35" />
<rect x="556.7" y="395.96" width="6.8" height="33.84" fill="none" stroke="#7f84d6" stroke-width="1.35" />
<rect x="577.3" y="395.96" width="6.8" height="33.84" fill="none" stroke="#ee9a3e" stroke-width="1.35" />
<rect x="589.5" y="395.11" width="6.8" height="34.69" fill="none" stroke="#ee9a3e" stroke-width="1.35" />
<rect x="601.7" y="395.11" width="6.8" height="34.69" fill="none" stroke="#ee9a3e" stroke-width="1.35" />
<rect x="613.9" y="395.96" width="6.8" height="33.84" fill="none" stroke="#ee9a3e" stroke-width="1.35" />
<rect x="633.8" y="395.96" width="6.8" height="33.84" fill="none" stroke="#f0737b" stroke-width="1.35" />
<rect x="646" y="394.27" width="6.8" height="35.53" fill="none" stroke="#f0737b" stroke-width="1.35" />
<rect x="658.2" y="390.88" width="6.8" height="38.92" fill="none" stroke="#f0737b" stroke-width="1.35" />
<rect x="670.4" y="387.5" width="6.8" height="42.3" fill="none" stroke="#f0737b" stroke-width="1.35" />
<line x1="515.8" y1="345.2" x2="515.8" y2="429.8" stroke="#333333" stroke-width="1.2" />
<line x1="515.2" y1="429.8" x2="683.5" y2="429.8" stroke="#333333" stroke-width="1.2" />
<line x1="512.6" y1="429.8" x2="515.8" y2="429.8" stroke="#333333" stroke-width="1.1" />
<text x="511.6" y="430" font-size="6.9" text-anchor="end" fill="#222" dominant-baseline="central" >0</text>
<line x1="512.6" y1="412.88" x2="515.8" y2="412.88" stroke="#333333" stroke-width="1.1" />
<text x="511.6" y="413.08" font-size="6.9" text-anchor="end" fill="#222" dominant-baseline="central" >1</text>
<line x1="512.6" y1="395.96" x2="515.8" y2="395.96" stroke="#333333" stroke-width="1.1" />
<text x="511.6" y="396.16" font-size="6.9" text-anchor="end" fill="#222" dominant-baseline="central" >2</text>
<line x1="512.6" y1="379.04" x2="515.8" y2="379.04" stroke="#333333" stroke-width="1.1" />
<text x="511.6" y="379.24" font-size="6.9" text-anchor="end" fill="#222" dominant-baseline="central" >3</text>
<line x1="512.6" y1="362.12" x2="515.8" y2="362.12" stroke="#333333" stroke-width="1.1" />
<text x="511.6" y="362.32" font-size="6.9" text-anchor="end" fill="#222" dominant-baseline="central" >4</text>
<line x1="512.6" y1="345.2" x2="515.8" y2="345.2" stroke="#333333" stroke-width="1.1" />
<text x="511.6" y="345.4" font-size="6.9" text-anchor="end" fill="#222" dominant-baseline="central" >5</text>
<line x1="523.5" y1="429.8" x2="523.5" y2="433.2" stroke="#333333" stroke-width="1.1" />
<text x="524.5" y="437.4" font-size="6.9" fill="#222" text-anchor="end" dominant-baseline="central" textLength="21.0" lengthAdjust="spacingAndGlyphs" transform="rotate(-45 524.5 437.4)">Control</text>
<line x1="535.7" y1="429.8" x2="535.7" y2="433.2" stroke="#333333" stroke-width="1.1" />
<text x="536.7" y="437.4" font-size="6.9" fill="#222" text-anchor="end" dominant-baseline="central" textLength="12.3" lengthAdjust="spacingAndGlyphs" transform="rotate(-45 536.7 437.4)">3dpi</text>
<line x1="547.9" y1="429.8" x2="547.9" y2="433.2" stroke="#333333" stroke-width="1.1" />
<text x="548.9" y="437.4" font-size="6.9" fill="#222" text-anchor="end" dominant-baseline="central" textLength="12.3" lengthAdjust="spacingAndGlyphs" transform="rotate(-45 548.9 437.4)">7dpi</text>
<line x1="560.1" y1="429.8" x2="560.1" y2="433.2" stroke="#333333" stroke-width="1.1" />
<text x="561.1" y="437.4" font-size="6.9" fill="#222" text-anchor="end" dominant-baseline="central" textLength="15.5" lengthAdjust="spacingAndGlyphs" transform="rotate(-45 561.1 437.4)">14dpi</text>
<line x1="580.7" y1="429.8" x2="580.7" y2="433.2" stroke="#333333" stroke-width="1.1" />
<text x="581.7" y="437.4" font-size="6.9" fill="#222" text-anchor="end" dominant-baseline="central" textLength="21.0" lengthAdjust="spacingAndGlyphs" transform="rotate(-45 581.7 437.4)">Control</text>
<line x1="592.9" y1="429.8" x2="592.9" y2="433.2" stroke="#333333" stroke-width="1.1" />
<text x="593.9" y="437.4" font-size="6.9" fill="#222" text-anchor="end" dominant-baseline="central" textLength="12.3" lengthAdjust="spacingAndGlyphs" transform="rotate(-45 593.9 437.4)">3dpi</text>
<line x1="605.1" y1="429.8" x2="605.1" y2="433.2" stroke="#333333" stroke-width="1.1" />
<text x="606.1" y="437.4" font-size="6.9" fill="#222" text-anchor="end" dominant-baseline="central" textLength="12.3" lengthAdjust="spacingAndGlyphs" transform="rotate(-45 606.1 437.4)">7dpi</text>
<line x1="617.3" y1="429.8" x2="617.3" y2="433.2" stroke="#333333" stroke-width="1.1" />
<text x="618.3" y="437.4" font-size="6.9" fill="#222" text-anchor="end" dominant-baseline="central" textLength="15.5" lengthAdjust="spacingAndGlyphs" transform="rotate(-45 618.3 437.4)">14dpi</text>
<line x1="637.2" y1="429.8" x2="637.2" y2="433.2" stroke="#333333" stroke-width="1.1" />
<text x="638.2" y="437.4" font-size="6.9" fill="#222" text-anchor="end" dominant-baseline="central" textLength="21.0" lengthAdjust="spacingAndGlyphs" transform="rotate(-45 638.2 437.4)">Control</text>
<line x1="649.4" y1="429.8" x2="649.4" y2="433.2" stroke="#333333" stroke-width="1.1" />
<text x="650.4" y="437.4" font-size="6.9" fill="#222" text-anchor="end" dominant-baseline="central" textLength="12.3" lengthAdjust="spacingAndGlyphs" transform="rotate(-45 650.4 437.4)">3dpi</text>
<line x1="661.6" y1="429.8" x2="661.6" y2="433.2" stroke="#333333" stroke-width="1.1" />
<text x="662.6" y="437.4" font-size="6.9" fill="#222" text-anchor="end" dominant-baseline="central" textLength="12.3" lengthAdjust="spacingAndGlyphs" transform="rotate(-45 662.6 437.4)">7dpi</text>
<line x1="673.8" y1="429.8" x2="673.8" y2="433.2" stroke="#333333" stroke-width="1.1" />
<text x="674.8" y="437.4" font-size="6.9" fill="#222" text-anchor="end" dominant-baseline="central" textLength="15.5" lengthAdjust="spacingAndGlyphs" transform="rotate(-45 674.8 437.4)">14dpi</text>
<circle cx="523.5" cy="395.96" r="1.95" fill="#7f84d6" stroke="none" stroke-width="1" />
<circle cx="521.6" cy="395.96" r="1.95" fill="#7f84d6" stroke="none" stroke-width="1" />
<circle cx="525.4" cy="395.96" r="1.95" fill="#7f84d6" stroke="none" stroke-width="1" />
<circle cx="522.55" cy="395.96" r="1.95" fill="#7f84d6" stroke="none" stroke-width="1" />
<circle cx="524.45" cy="395.96" r="1.95" fill="#7f84d6" stroke="none" stroke-width="1" />
<circle cx="521.1" cy="395.96" r="1.95" fill="#7f84d6" stroke="none" stroke-width="1" />
<circle cx="535.7" cy="395.96" r="1.95" fill="#7f84d6" stroke="none" stroke-width="1" />
<circle cx="533.8" cy="395.96" r="1.95" fill="#7f84d6" stroke="none" stroke-width="1" />
<circle cx="537.6" cy="395.96" r="1.95" fill="#7f84d6" stroke="none" stroke-width="1" />
<circle cx="534.75" cy="395.96" r="1.95" fill="#7f84d6" stroke="none" stroke-width="1" />
<circle cx="536.65" cy="395.96" r="1.95" fill="#7f84d6" stroke="none" stroke-width="1" />
<circle cx="533.3" cy="395.96" r="1.95" fill="#7f84d6" stroke="none" stroke-width="1" />
<circle cx="547.9" cy="395.96" r="1.95" fill="#7f84d6" stroke="none" stroke-width="1" />
<circle cx="546" cy="395.96" r="1.95" fill="#7f84d6" stroke="none" stroke-width="1" />
<circle cx="549.8" cy="395.96" r="1.95" fill="#7f84d6" stroke="none" stroke-width="1" />
<circle cx="546.95" cy="395.96" r="1.95" fill="#7f84d6" stroke="none" stroke-width="1" />
<circle cx="548.85" cy="395.96" r="1.95" fill="#7f84d6" stroke="none" stroke-width="1" />
<circle cx="545.5" cy="395.96" r="1.95" fill="#7f84d6" stroke="none" stroke-width="1" />
<circle cx="560.1" cy="395.96" r="1.95" fill="#7f84d6" stroke="none" stroke-width="1" />
<circle cx="558.2" cy="395.96" r="1.95" fill="#7f84d6" stroke="none" stroke-width="1" />
<circle cx="562" cy="395.96" r="1.95" fill="#7f84d6" stroke="none" stroke-width="1" />
<circle cx="559.15" cy="395.96" r="1.95" fill="#7f84d6" stroke="none" stroke-width="1" />
<circle cx="561.05" cy="395.96" r="1.95" fill="#7f84d6" stroke="none" stroke-width="1" />
<circle cx="557.7" cy="395.96" r="1.95" fill="#7f84d6" stroke="none" stroke-width="1" />
<rect x="578.75" y="394.01" width="3.9" height="3.9" fill="#ee9a3e" stroke="none" stroke-width="1" />
<rect x="576.85" y="394.01" width="3.9" height="3.9" fill="#ee9a3e" stroke="none" stroke-width="1" />
<rect x="580.65" y="394.01" width="3.9" height="3.9" fill="#ee9a3e" stroke="none" stroke-width="1" />
<rect x="577.8" y="394.01" width="3.9" height="3.9" fill="#ee9a3e" stroke="none" stroke-width="1" />
<rect x="579.7" y="394.01" width="3.9" height="3.9" fill="#ee9a3e" stroke="none" stroke-width="1" />
<rect x="576.35" y="394.01" width="3.9" height="3.9" fill="#ee9a3e" stroke="none" stroke-width="1" />
<rect x="590.95" y="394.01" width="3.9" height="3.9" fill="#ee9a3e" stroke="none" stroke-width="1" />
<rect x="589.05" y="394.01" width="3.9" height="3.9" fill="#ee9a3e" stroke="none" stroke-width="1" />
<rect x="592.85" y="390.63" width="3.9" height="3.9" fill="#ee9a3e" stroke="none" stroke-width="1" />
<line x1="592.9" y1="393.42" x2="592.9" y2="396.81" stroke="#ee9a3e" stroke-width="0.9" />
<line x1="591.3" y1="393.42" x2="594.5" y2="393.42" stroke="#ee9a3e" stroke-width="0.9" />
<line x1="591.3" y1="396.81" x2="594.5" y2="396.81" stroke="#ee9a3e" stroke-width="0.9" />
<rect x="603.15" y="394.01" width="3.9" height="3.9" fill="#ee9a3e" stroke="none" stroke-width="1" />
<rect x="601.25" y="394.01" width="3.9" height="3.9" fill="#ee9a3e" stroke="none" stroke-width="1" />
<rect x="605.05" y="390.63" width="3.9" height="3.9" fill="#ee9a3e" stroke="none" stroke-width="1" />
<line x1="605.1" y1="393.42" x2="605.1" y2="396.81" stroke="#ee9a3e" stroke-width="0.9" />
<line x1="603.5" y1="393.42" x2="606.7" y2="393.42" stroke="#ee9a3e" stroke-width="0.9" />
<line x1="603.5" y1="396.81" x2="606.7" y2="396.81" stroke="#ee9a3e" stroke-width="0.9" />
<rect x="615.35" y="394.01" width="3.9" height="3.9" fill="#ee9a3e" stroke="none" stroke-width="1" />
<rect x="613.45" y="394.01" width="3.9" height="3.9" fill="#ee9a3e" stroke="none" stroke-width="1" />
<rect x="617.25" y="394.01" width="3.9" height="3.9" fill="#ee9a3e" stroke="none" stroke-width="1" />
<rect x="614.4" y="394.01" width="3.9" height="3.9" fill="#ee9a3e" stroke="none" stroke-width="1" />
<rect x="616.3" y="394.01" width="3.9" height="3.9" fill="#ee9a3e" stroke="none" stroke-width="1" />
<rect x="612.95" y="394.01" width="3.9" height="3.9" fill="#ee9a3e" stroke="none" stroke-width="1" />
<path d="M637.2,393.56 L639.35,397.43 L635.05,397.43 Z" stroke="none" stroke-width="1" fill="#f0737b" />
<path d="M635.3,393.56 L637.45,397.43 L633.15,397.43 Z" stroke="none" stroke-width="1" fill="#f0737b" />
<path d="M639.1,393.56 L641.25,397.43 L636.95,397.43 Z" stroke="none" stroke-width="1" fill="#f0737b" />
<path d="M636.25,393.56 L638.4,397.43 L634.1,397.43 Z" stroke="none" stroke-width="1" fill="#f0737b" />
<path d="M638.15,393.56 L640.3,397.43 L636,397.43 Z" stroke="none" stroke-width="1" fill="#f0737b" />
<path d="M649.4,393.56 L651.55,397.43 L647.25,397.43 Z" stroke="none" stroke-width="1" fill="#f0737b" />
<path d="M647.5,393.56 L649.65,397.43 L645.35,397.43 Z" stroke="none" stroke-width="1" fill="#f0737b" />
<path d="M651.3,390.18 L653.45,394.05 L649.15,394.05 Z" stroke="none" stroke-width="1" fill="#f0737b" />
<path d="M648.45,386.79 L650.6,390.66 L646.3,390.66 Z" stroke="none" stroke-width="1" fill="#f0737b" />
<line x1="649.4" y1="391.73" x2="649.4" y2="396.81" stroke="#f0737b" stroke-width="0.9" />
<line x1="647.8" y1="391.73" x2="651" y2="391.73" stroke="#f0737b" stroke-width="0.9" />
<line x1="647.8" y1="396.81" x2="651" y2="396.81" stroke="#f0737b" stroke-width="0.9" />
<path d="M661.6,393.56 L663.75,397.43 L659.45,397.43 Z" stroke="none" stroke-width="1" fill="#f0737b" />
<path d="M659.7,390.18 L661.85,394.05 L657.55,394.05 Z" stroke="none" stroke-width="1" fill="#f0737b" />
<path d="M663.5,385.1 L665.65,388.97 L661.35,388.97 Z" stroke="none" stroke-width="1" fill="#f0737b" />
<path d="M660.65,385.1 L662.8,388.97 L658.5,388.97 Z" stroke="none" stroke-width="1" fill="#f0737b" />
<line x1="661.6" y1="387.5" x2="661.6" y2="394.27" stroke="#f0737b" stroke-width="0.9" />
<line x1="660" y1="387.5" x2="663.2" y2="387.5" stroke="#f0737b" stroke-width="0.9" />
<line x1="660" y1="394.27" x2="663.2" y2="394.27" stroke="#f0737b" stroke-width="0.9" />
<path d="M673.8,393.56 L675.95,397.43 L671.65,397.43 Z" stroke="none" stroke-width="1" fill="#f0737b" />
<path d="M671.9,390.18 L674.05,394.05 L669.75,394.05 Z" stroke="none" stroke-width="1" fill="#f0737b" />
<path d="M675.7,385.1 L677.85,388.97 L673.55,388.97 Z" stroke="none" stroke-width="1" fill="#f0737b" />
<path d="M672.85,378.33 L675,382.2 L670.7,382.2 Z" stroke="none" stroke-width="1" fill="#f0737b" />
<path d="M674.75,378.33 L676.9,382.2 L672.6,382.2 Z" stroke="none" stroke-width="1" fill="#f0737b" />
<line x1="673.8" y1="382.42" x2="673.8" y2="392.58" stroke="#f0737b" stroke-width="0.9" />
<line x1="672.2" y1="382.42" x2="675.4" y2="382.42" stroke="#f0737b" stroke-width="0.9" />
<line x1="672.2" y1="392.58" x2="675.4" y2="392.58" stroke="#f0737b" stroke-width="0.9" />
<path d="M523.5,350.2 L523.5,344.6 L560.1,344.6 L560.1,391.46" stroke="#333" stroke-width="1" fill="none" />
<text x="541.8" y="338.3" font-size="7.1" text-anchor="middle" fill="#1a1a1a" dominant-baseline="central" textLength="24.5" lengthAdjust="spacingAndGlyphs" >&gt;0.9999</text>
<path d="M523.5,368 L523.5,362.3 L547.9,362.3 L547.9,391.46" stroke="#333" stroke-width="1" fill="none" />
<text x="535.7" y="356" font-size="7.1" text-anchor="middle" fill="#1a1a1a" dominant-baseline="central" textLength="24.5" lengthAdjust="spacingAndGlyphs" >&gt;0.9999</text>
<path d="M523.5,391.46 L523.5,380.1 L535.7,380.1 L535.7,391.46" stroke="#333" stroke-width="1" fill="none" />
<text x="529.6" y="373.8" font-size="7.1" text-anchor="middle" fill="#1a1a1a" dominant-baseline="central" textLength="24.5" lengthAdjust="spacingAndGlyphs" >&gt;0.9999</text>
<path d="M580.7,350.5 L580.7,343.4 L617.3,343.4 L617.3,391.46" stroke="#333" stroke-width="1" fill="none" />
<text x="599" y="337.1" font-size="7.1" text-anchor="middle" fill="#1a1a1a" dominant-baseline="central" textLength="24.5" lengthAdjust="spacingAndGlyphs" >&gt;0.9999</text>
<path d="M580.7,368.4 L580.7,362.6 L605.1,362.6 L605.1,388.08" stroke="#333" stroke-width="1" fill="none" />
<text x="592.9" y="356.3" font-size="7.1" text-anchor="middle" fill="#1a1a1a" dominant-baseline="central" textLength="20.9" lengthAdjust="spacingAndGlyphs" >0.9795</text>
<path d="M580.7,391.46 L580.7,380.5 L592.9,380.5 L592.9,388.08" stroke="#333" stroke-width="1" fill="none" />
<text x="586.8" y="374.2" font-size="7.1" text-anchor="middle" fill="#1a1a1a" dominant-baseline="central" textLength="20.9" lengthAdjust="spacingAndGlyphs" >0.9795</text>
<path d="M637.2,352.1 L637.2,343.8 L673.8,343.8 L673.8,376.23" stroke="#333" stroke-width="1" fill="none" />
<text x="655.5" y="337.5" font-size="7.1" text-anchor="middle" fill="#1a1a1a" dominant-baseline="central" textLength="24.5" lengthAdjust="spacingAndGlyphs" >&lt;0.0001</text>
<path d="M637.2,368.4 L637.2,364.2 L661.6,364.2 L661.6,383" stroke="#333" stroke-width="1" fill="none" />
<text x="649.4" y="357.9" font-size="7.1" text-anchor="middle" fill="#1a1a1a" dominant-baseline="central" textLength="20.9" lengthAdjust="spacingAndGlyphs" >0.0026</text>
<path d="M637.2,391.46 L637.2,380.5 L649.4,380.5 L649.4,385" stroke="#333" stroke-width="1" fill="none" />
<text x="643.3" y="374.2" font-size="7.1" text-anchor="middle" fill="#1a1a1a" dominant-baseline="central" textLength="20.9" lengthAdjust="spacingAndGlyphs" >0.2128</text>
<text x="492.2" y="388.5" font-size="7.9" text-anchor="middle" fill="#111" dominant-baseline="central" font-weight="bold" transform="rotate(-90 492.2 388.5)" >Lung</text>
<text x="499.9" y="388.5" font-size="7.9" font-weight="bold" fill="#111" text-anchor="middle" dominant-baseline="central" transform="rotate(-90 499.9 388.5)" textLength="61.4" lengthAdjust="spacingAndGlyphs">TCID<tspan font-size="4.4" dy="1.6">50</tspan><tspan dy="-1.6">/mL (Log</tspan><tspan font-size="4.4" dy="1.6">10</tspan><tspan dy="-1.6">)</tspan></text>
<text x="243.6" y="469.1" font-size="19.5" text-anchor="start" fill="#000" dominant-baseline="alphabetic" font-weight="bold" >h</text>
<line x1="283.3" y1="538.39" x2="452" y2="538.39" stroke="#333" stroke-width="1" stroke-dasharray="1.1 1.9"/>
<rect x="288" y="546.9" width="6.8" height="23.4" fill="none" stroke="#7f84d6" stroke-width="1.35" />
<rect x="300.2" y="549.03" width="6.8" height="21.27" fill="none" stroke="#7f84d6" stroke-width="1.35" />
<rect x="312.4" y="552.22" width="6.8" height="18.08" fill="none" stroke="#7f84d6" stroke-width="1.35" />
<rect x="324.6" y="547.97" width="6.8" height="22.33" fill="none" stroke="#7f84d6" stroke-width="1.35" />
<rect x="345.1" y="543.71" width="6.8" height="26.59" fill="none" stroke="#ee9a3e" stroke-width="1.35" />
<rect x="357.3" y="540.52" width="6.8" height="29.78" fill="none" stroke="#ee9a3e" stroke-width="1.35" />
<rect x="369.5" y="542.65" width="6.8" height="27.65" fill="none" stroke="#ee9a3e" stroke-width="1.35" />
<rect x="381.7" y="548.18" width="6.8" height="22.12" fill="none" stroke="#ee9a3e" stroke-width="1.35" />
<rect x="402.2" y="547.54" width="6.8" height="22.76" fill="none" stroke="#f0737b" stroke-width="1.35" />
<rect x="414.4" y="539.67" width="6.8" height="30.63" fill="none" stroke="#f0737b" stroke-width="1.35" />
<rect x="426.6" y="528.19" width="6.8" height="42.11" fill="none" stroke="#f0737b" stroke-width="1.35" />
<rect x="438.8" y="514.57" width="6.8" height="55.73" fill="none" stroke="#f0737b" stroke-width="1.35" />
<line x1="283.3" y1="485.22" x2="283.3" y2="570.3" stroke="#333333" stroke-width="1.2" />
<line x1="282.7" y1="570.3" x2="452" y2="570.3" stroke="#333333" stroke-width="1.2" />
<line x1="280.1" y1="570.3" x2="283.3" y2="570.3" stroke="#333333" stroke-width="1.1" />
<text x="279.1" y="570.5" font-size="6.9" text-anchor="end" fill="#222" dominant-baseline="central" >0</text>
<line x1="280.1" y1="549.03" x2="283.3" y2="549.03" stroke="#333333" stroke-width="1.1" />
<text x="279.1" y="549.23" font-size="6.9" text-anchor="end" fill="#222" dominant-baseline="central" >1</text>
<line x1="280.1" y1="527.76" x2="283.3" y2="527.76" stroke="#333333" stroke-width="1.1" />
<text x="279.1" y="527.96" font-size="6.9" text-anchor="end" fill="#222" dominant-baseline="central" >2</text>
<line x1="280.1" y1="506.49" x2="283.3" y2="506.49" stroke="#333333" stroke-width="1.1" />
<text x="279.1" y="506.69" font-size="6.9" text-anchor="end" fill="#222" dominant-baseline="central" >3</text>
<line x1="280.1" y1="485.22" x2="283.3" y2="485.22" stroke="#333333" stroke-width="1.1" />
<text x="279.1" y="485.42" font-size="6.9" text-anchor="end" fill="#222" dominant-baseline="central" >4</text>
<line x1="291.4" y1="570.3" x2="291.4" y2="573.7" stroke="#333333" stroke-width="1.1" />
<text x="292.4" y="577.9" font-size="6.9" fill="#222" text-anchor="end" dominant-baseline="central" textLength="21.0" lengthAdjust="spacingAndGlyphs" transform="rotate(-45 292.4 577.9)">Control</text>
<line x1="303.6" y1="570.3" x2="303.6" y2="573.7" stroke="#333333" stroke-width="1.1" />
<text x="304.6" y="577.9" font-size="6.9" fill="#222" text-anchor="end" dominant-baseline="central" textLength="12.3" lengthAdjust="spacingAndGlyphs" transform="rotate(-45 304.6 577.9)">3dpi</text>
<line x1="315.8" y1="570.3" x2="315.8" y2="573.7" stroke="#333333" stroke-width="1.1" />
<text x="316.8" y="577.9" font-size="6.9" fill="#222" text-anchor="end" dominant-baseline="central" textLength="12.3" lengthAdjust="spacingAndGlyphs" transform="rotate(-45 316.8 577.9)">7dpi</text>
<line x1="328" y1="570.3" x2="328" y2="573.7" stroke="#333333" stroke-width="1.1" />
<text x="329" y="577.9" font-size="6.9" fill="#222" text-anchor="end" dominant-baseline="central" textLength="15.5" lengthAdjust="spacingAndGlyphs" transform="rotate(-45 329 577.9)">14dpi</text>
<line x1="348.5" y1="570.3" x2="348.5" y2="573.7" stroke="#333333" stroke-width="1.1" />
<text x="349.5" y="577.9" font-size="6.9" fill="#222" text-anchor="end" dominant-baseline="central" textLength="21.0" lengthAdjust="spacingAndGlyphs" transform="rotate(-45 349.5 577.9)">Control</text>
<line x1="360.7" y1="570.3" x2="360.7" y2="573.7" stroke="#333333" stroke-width="1.1" />
<text x="361.7" y="577.9" font-size="6.9" fill="#222" text-anchor="end" dominant-baseline="central" textLength="12.3" lengthAdjust="spacingAndGlyphs" transform="rotate(-45 361.7 577.9)">3dpi</text>
<line x1="372.9" y1="570.3" x2="372.9" y2="573.7" stroke="#333333" stroke-width="1.1" />
<text x="373.9" y="577.9" font-size="6.9" fill="#222" text-anchor="end" dominant-baseline="central" textLength="12.3" lengthAdjust="spacingAndGlyphs" transform="rotate(-45 373.9 577.9)">7dpi</text>
<line x1="385.1" y1="570.3" x2="385.1" y2="573.7" stroke="#333333" stroke-width="1.1" />
<text x="386.1" y="577.9" font-size="6.9" fill="#222" text-anchor="end" dominant-baseline="central" textLength="15.5" lengthAdjust="spacingAndGlyphs" transform="rotate(-45 386.1 577.9)">14dpi</text>
<line x1="405.6" y1="570.3" x2="405.6" y2="573.7" stroke="#333333" stroke-width="1.1" />
<text x="406.6" y="577.9" font-size="6.9" fill="#222" text-anchor="end" dominant-baseline="central" textLength="21.0" lengthAdjust="spacingAndGlyphs" transform="rotate(-45 406.6 577.9)">Control</text>
<line x1="417.8" y1="570.3" x2="417.8" y2="573.7" stroke="#333333" stroke-width="1.1" />
<text x="418.8" y="577.9" font-size="6.9" fill="#222" text-anchor="end" dominant-baseline="central" textLength="12.3" lengthAdjust="spacingAndGlyphs" transform="rotate(-45 418.8 577.9)">3dpi</text>
<line x1="430" y1="570.3" x2="430" y2="573.7" stroke="#333333" stroke-width="1.1" />
<text x="431" y="577.9" font-size="6.9" fill="#222" text-anchor="end" dominant-baseline="central" textLength="12.3" lengthAdjust="spacingAndGlyphs" transform="rotate(-45 431 577.9)">7dpi</text>
<line x1="442.2" y1="570.3" x2="442.2" y2="573.7" stroke="#333333" stroke-width="1.1" />
<text x="443.2" y="577.9" font-size="6.9" fill="#222" text-anchor="end" dominant-baseline="central" textLength="15.5" lengthAdjust="spacingAndGlyphs" transform="rotate(-45 443.2 577.9)">14dpi</text>
<circle cx="291.4" cy="559.66" r="1.95" fill="#7f84d6" stroke="none" stroke-width="1" />
<circle cx="289.5" cy="551.16" r="1.95" fill="#7f84d6" stroke="none" stroke-width="1" />
<circle cx="293.3" cy="549.03" r="1.95" fill="#7f84d6" stroke="none" stroke-width="1" />
<circle cx="290.45" cy="546.9" r="1.95" fill="#7f84d6" stroke="none" stroke-width="1" />
<circle cx="292.35" cy="544.78" r="1.95" fill="#7f84d6" stroke="none" stroke-width="1" />
<circle cx="289" cy="540.52" r="1.95" fill="#7f84d6" stroke="none" stroke-width="1" />
<line x1="291.4" y1="542.65" x2="291.4" y2="551.16" stroke="#7f84d6" stroke-width="0.9" />
<line x1="289.8" y1="542.65" x2="293" y2="542.65" stroke="#7f84d6" stroke-width="0.9" />
<line x1="289.8" y1="551.16" x2="293" y2="551.16" stroke="#7f84d6" stroke-width="0.9" />
<circle cx="303.6" cy="557.54" r="1.95" fill="#7f84d6" stroke="none" stroke-width="1" />
<circle cx="301.7" cy="553.28" r="1.95" fill="#7f84d6" stroke="none" stroke-width="1" />
<circle cx="305.5" cy="549.03" r="1.95" fill="#7f84d6" stroke="none" stroke-width="1" />
<circle cx="302.65" cy="544.78" r="1.95" fill="#7f84d6" stroke="none" stroke-width="1" />
<circle cx="304.55" cy="540.52" r="1.95" fill="#7f84d6" stroke="none" stroke-width="1" />
<line x1="303.6" y1="544.78" x2="303.6" y2="553.28" stroke="#7f84d6" stroke-width="0.9" />
<line x1="302" y1="544.78" x2="305.2" y2="544.78" stroke="#7f84d6" stroke-width="0.9" />
<line x1="302" y1="553.28" x2="305.2" y2="553.28" stroke="#7f84d6" stroke-width="0.9" />
<circle cx="315.8" cy="559.66" r="1.95" fill="#7f84d6" stroke="none" stroke-width="1" />
<circle cx="313.9" cy="557.54" r="1.95" fill="#7f84d6" stroke="none" stroke-width="1" />
<circle cx="317.7" cy="551.16" r="1.95" fill="#7f84d6" stroke="none" stroke-width="1" />
<circle cx="314.85" cy="542.65" r="1.95" fill="#7f84d6" stroke="none" stroke-width="1" />
<circle cx="316.75" cy="540.52" r="1.95" fill="#7f84d6" stroke="none" stroke-width="1" />
<line x1="315.8" y1="545.84" x2="315.8" y2="558.6" stroke="#7f84d6" stroke-width="0.9" />
<line x1="314.2" y1="545.84" x2="317.4" y2="545.84" stroke="#7f84d6" stroke-width="0.9" />
<line x1="314.2" y1="558.6" x2="317.4" y2="558.6" stroke="#7f84d6" stroke-width="0.9" />
<circle cx="328" cy="559.66" r="1.95" fill="#7f84d6" stroke="none" stroke-width="1" />
<circle cx="326.1" cy="555.41" r="1.95" fill="#7f84d6" stroke="none" stroke-width="1" />
<circle cx="329.9" cy="549.03" r="1.95" fill="#7f84d6" stroke="none" stroke-width="1" />
<circle cx="327.05" cy="542.65" r="1.95" fill="#7f84d6" stroke="none" stroke-width="1" />
<circle cx="328.95" cy="541.59" r="1.95" fill="#7f84d6" stroke="none" stroke-width="1" />
<circle cx="325.6" cy="540.52" r="1.95" fill="#7f84d6" stroke="none" stroke-width="1" />
<line x1="328" y1="541.59" x2="328" y2="554.35" stroke="#7f84d6" stroke-width="0.9" />
<line x1="326.4" y1="541.59" x2="329.6" y2="541.59" stroke="#7f84d6" stroke-width="0.9" />
<line x1="326.4" y1="554.35" x2="329.6" y2="554.35" stroke="#7f84d6" stroke-width="0.9" />
<rect x="346.55" y="549.21" width="3.9" height="3.9" fill="#ee9a3e" stroke="none" stroke-width="1" />
<rect x="344.65" y="547.08" width="3.9" height="3.9" fill="#ee9a3e" stroke="none" stroke-width="1" />
<rect x="348.45" y="542.83" width="3.9" height="3.9" fill="#ee9a3e" stroke="none" stroke-width="1" />
<rect x="345.6" y="540.7" width="3.9" height="3.9" fill="#ee9a3e" stroke="none" stroke-width="1" />
<rect x="347.5" y="538.57" width="3.9" height="3.9" fill="#ee9a3e" stroke="none" stroke-width="1" />
<line x1="348.5" y1="539.46" x2="348.5" y2="547.97" stroke="#ee9a3e" stroke-width="0.9" />
<line x1="346.9" y1="539.46" x2="350.1" y2="539.46" stroke="#ee9a3e" stroke-width="0.9" />
<line x1="346.9" y1="547.97" x2="350.1" y2="547.97" stroke="#ee9a3e" stroke-width="0.9" />
<rect x="358.75" y="547.08" width="3.9" height="3.9" fill="#ee9a3e" stroke="none" stroke-width="1" />
<rect x="356.85" y="542.83" width="3.9" height="3.9" fill="#ee9a3e" stroke="none" stroke-width="1" />
<rect x="360.65" y="536.44" width="3.9" height="3.9" fill="#ee9a3e" stroke="none" stroke-width="1" />
<rect x="357.8" y="532.19" width="3.9" height="3.9" fill="#ee9a3e" stroke="none" stroke-width="1" />
<rect x="359.7" y="530.06" width="3.9" height="3.9" fill="#ee9a3e" stroke="none" stroke-width="1" />
<line x1="360.7" y1="534.14" x2="360.7" y2="546.9" stroke="#ee9a3e" stroke-width="0.9" />
<line x1="359.1" y1="534.14" x2="362.3" y2="534.14" stroke="#ee9a3e" stroke-width="0.9" />
<line x1="359.1" y1="546.9" x2="362.3" y2="546.9" stroke="#ee9a3e" stroke-width="0.9" />
<rect x="370.95" y="547.08" width="3.9" height="3.9" fill="#ee9a3e" stroke="none" stroke-width="1" />
<rect x="369.05" y="542.83" width="3.9" height="3.9" fill="#ee9a3e" stroke="none" stroke-width="1" />
<rect x="372.85" y="540.7" width="3.9" height="3.9" fill="#ee9a3e" stroke="none" stroke-width="1" />
<rect x="370" y="536.44" width="3.9" height="3.9" fill="#ee9a3e" stroke="none" stroke-width="1" />
<line x1="372.9" y1="538.39" x2="372.9" y2="546.9" stroke="#ee9a3e" stroke-width="0.9" />
<line x1="371.3" y1="538.39" x2="374.5" y2="538.39" stroke="#ee9a3e" stroke-width="0.9" />
<line x1="371.3" y1="546.9" x2="374.5" y2="546.9" stroke="#ee9a3e" stroke-width="0.9" />
<rect x="383.15" y="551.33" width="3.9" height="3.9" fill="#ee9a3e" stroke="none" stroke-width="1" />
<rect x="381.25" y="547.08" width="3.9" height="3.9" fill="#ee9a3e" stroke="none" stroke-width="1" />
<rect x="385.05" y="542.83" width="3.9" height="3.9" fill="#ee9a3e" stroke="none" stroke-width="1" />
<rect x="382.2" y="538.57" width="3.9" height="3.9" fill="#ee9a3e" stroke="none" stroke-width="1" />
<rect x="384.1" y="536.44" width="3.9" height="3.9" fill="#ee9a3e" stroke="none" stroke-width="1" />
<line x1="385.1" y1="542.86" x2="385.1" y2="553.5" stroke="#ee9a3e" stroke-width="0.9" />
<line x1="383.5" y1="542.86" x2="386.7" y2="542.86" stroke="#ee9a3e" stroke-width="0.9" />
<line x1="383.5" y1="553.5" x2="386.7" y2="553.5" stroke="#ee9a3e" stroke-width="0.9" />
<path d="M405.6,550.88 L407.75,554.75 L403.45,554.75 Z" stroke="none" stroke-width="1" fill="#f0737b" />
<path d="M403.7,546.63 L405.85,550.5 L401.55,550.5 Z" stroke="none" stroke-width="1" fill="#f0737b" />
<path d="M407.5,542.38 L409.65,546.25 L405.35,546.25 Z" stroke="none" stroke-width="1" fill="#f0737b" />
<path d="M404.65,538.12 L406.8,541.99 L402.5,541.99 Z" stroke="none" stroke-width="1" fill="#f0737b" />
<line x1="405.6" y1="542.22" x2="405.6" y2="552.86" stroke="#f0737b" stroke-width="0.9" />
<line x1="404" y1="542.22" x2="407.2" y2="542.22" stroke="#f0737b" stroke-width="0.9" />
<line x1="404" y1="552.86" x2="407.2" y2="552.86" stroke="#f0737b" stroke-width="0.9" />
<path d="M417.8,544.5 L419.95,548.37 L415.65,548.37 Z" stroke="none" stroke-width="1" fill="#f0737b" />
<path d="M415.9,540.25 L418.05,544.12 L413.75,544.12 Z" stroke="none" stroke-width="1" fill="#f0737b" />
<path d="M419.7,536 L421.85,539.87 L417.55,539.87 Z" stroke="none" stroke-width="1" fill="#f0737b" />
<path d="M416.85,531.74 L419,535.61 L414.7,535.61 Z" stroke="none" stroke-width="1" fill="#f0737b" />
<line x1="417.8" y1="535.42" x2="417.8" y2="543.93" stroke="#f0737b" stroke-width="0.9" />
<line x1="416.2" y1="535.42" x2="419.4" y2="535.42" stroke="#f0737b" stroke-width="0.9" />
<line x1="416.2" y1="543.93" x2="419.4" y2="543.93" stroke="#f0737b" stroke-width="0.9" />
<path d="M430,533.87 L432.15,537.74 L427.85,537.74 Z" stroke="none" stroke-width="1" fill="#f0737b" />
<path d="M428.1,529.61 L430.25,533.48 L425.95,533.48 Z" stroke="none" stroke-width="1" fill="#f0737b" />
<path d="M431.9,523.23 L434.05,527.1 L429.75,527.1 Z" stroke="none" stroke-width="1" fill="#f0737b" />
<path d="M429.05,516.85 L431.2,520.72 L426.9,520.72 Z" stroke="none" stroke-width="1" fill="#f0737b" />
<line x1="430" y1="521.8" x2="430" y2="534.57" stroke="#f0737b" stroke-width="0.9" />
<line x1="428.4" y1="521.8" x2="431.6" y2="521.8" stroke="#f0737b" stroke-width="0.9" />
<line x1="428.4" y1="534.57" x2="431.6" y2="534.57" stroke="#f0737b" stroke-width="0.9" />
<path d="M442.2,521.11 L444.35,524.98 L440.05,524.98 Z" stroke="none" stroke-width="1" fill="#f0737b" />
<path d="M440.3,514.73 L442.45,518.6 L438.15,518.6 Z" stroke="none" stroke-width="1" fill="#f0737b" />
<path d="M444.1,508.34 L446.25,512.21 L441.95,512.21 Z" stroke="none" stroke-width="1" fill="#f0737b" />
<path d="M441.25,504.09 L443.4,507.96 L439.1,507.96 Z" stroke="none" stroke-width="1" fill="#f0737b" />
<line x1="442.2" y1="508.19" x2="442.2" y2="520.95" stroke="#f0737b" stroke-width="0.9" />
<line x1="440.6" y1="508.19" x2="443.8" y2="508.19" stroke="#f0737b" stroke-width="0.9" />
<line x1="440.6" y1="520.95" x2="443.8" y2="520.95" stroke="#f0737b" stroke-width="0.9" />
<path d="M291.4,488.8 L291.4,485.2 L328,485.2 L328,536.02" stroke="#333" stroke-width="1" fill="none" />
<text x="309.7" y="478.9" font-size="7.1" text-anchor="middle" fill="#1a1a1a" dominant-baseline="central" textLength="20.9" lengthAdjust="spacingAndGlyphs" >0.9994</text>
<path d="M291.4,510.8 L291.4,500.9 L315.8,500.9 L315.8,536.02" stroke="#333" stroke-width="1" fill="none" />
<text x="303.6" y="494.6" font-size="7.1" text-anchor="middle" fill="#1a1a1a" dominant-baseline="central" textLength="20.9" lengthAdjust="spacingAndGlyphs" >0.5929</text>
<path d="M291.4,536.02 L291.4,522.9 L303.6,522.9 L303.6,536.02" stroke="#333" stroke-width="1" fill="none" />
<text x="297.5" y="516.6" font-size="7.1" text-anchor="middle" fill="#1a1a1a" dominant-baseline="central" textLength="20.9" lengthAdjust="spacingAndGlyphs" >0.9911</text>
<path d="M348.5,490.5 L348.5,484.2 L385.1,484.2 L385.1,533.89" stroke="#333" stroke-width="1" fill="none" />
<text x="366.8" y="477.9" font-size="7.1" text-anchor="middle" fill="#1a1a1a" dominant-baseline="central" textLength="20.9" lengthAdjust="spacingAndGlyphs" >0.8122</text>
<path d="M348.5,506.5 L348.5,502.6 L372.9,502.6 L372.9,533.89" stroke="#333" stroke-width="1" fill="none" />
<text x="360.7" y="496.3" font-size="7.1" text-anchor="middle" fill="#1a1a1a" dominant-baseline="central" textLength="24.5" lengthAdjust="spacingAndGlyphs" >&gt;0.9999</text>
<path d="M348.5,534.96 L348.5,518.6 L360.7,518.6 L360.7,527.51" stroke="#333" stroke-width="1" fill="none" />
<text x="354.6" y="512.3" font-size="7.1" text-anchor="middle" fill="#1a1a1a" dominant-baseline="central" textLength="20.9" lengthAdjust="spacingAndGlyphs" >0.2469</text>
<path d="M405.6,490.1 L405.6,484.2 L442.2,484.2 L442.2,501.99" stroke="#333" stroke-width="1" fill="none" />
<text x="423.9" y="477.9" font-size="7.1" text-anchor="middle" fill="#1a1a1a" dominant-baseline="central" textLength="24.5" lengthAdjust="spacingAndGlyphs" >&lt;0.0001</text>
<path d="M405.6,505.6 L405.6,502.2 L430,502.2 L430,514.75" stroke="#333" stroke-width="1" fill="none" />
<text x="417.8" y="495.9" font-size="7.1" text-anchor="middle" fill="#1a1a1a" dominant-baseline="central" textLength="24.5" lengthAdjust="spacingAndGlyphs" >&lt;0.0001</text>
<path d="M405.6,536.02 L405.6,517.7 L417.8,517.7 L417.8,529.64" stroke="#333" stroke-width="1" fill="none" />
<text x="411.7" y="511.4" font-size="7.1" text-anchor="middle" fill="#1a1a1a" dominant-baseline="central" textLength="20.9" lengthAdjust="spacingAndGlyphs" >0.0442</text>
<text x="259.1" y="528.5" font-size="7.9" text-anchor="middle" fill="#111" dominant-baseline="central" font-weight="bold" transform="rotate(-90 259.1 528.5)" >Liver</text>
<text x="267.2" y="528.5" font-size="7.9" font-weight="bold" fill="#111" text-anchor="middle" dominant-baseline="central" transform="rotate(-90 267.2 528.5)" textLength="59.4" lengthAdjust="spacingAndGlyphs">Copies/mL (Log<tspan font-size="4.4" dy="1.6">10</tspan><tspan dy="-1.6">)</tspan></text>
<text x="475.7" y="468.1" font-size="19.5" text-anchor="start" fill="#000" dominant-baseline="alphabetic" font-weight="bold" >i</text>
<line x1="516.4" y1="533.2" x2="683.5" y2="533.2" stroke="#333" stroke-width="1" stroke-dasharray="1.1 1.9"/>
<rect x="521.1" y="533.2" width="6.8" height="34" fill="none" stroke="#7f84d6" stroke-width="1.35" />
<rect x="533.3" y="533.2" width="6.8" height="34" fill="none" stroke="#7f84d6" stroke-width="1.35" />
<rect x="545.5" y="533.2" width="6.8" height="34" fill="none" stroke="#7f84d6" stroke-width="1.35" />
<rect x="557.7" y="533.2" width="6.8" height="34" fill="none" stroke="#7f84d6" stroke-width="1.35" />
<rect x="577.9" y="533.2" width="6.8" height="34" fill="none" stroke="#ee9a3e" stroke-width="1.35" />
<rect x="590.1" y="532.35" width="6.8" height="34.85" fill="none" stroke="#ee9a3e" stroke-width="1.35" />
<rect x="602.3" y="533.2" width="6.8" height="34" fill="none" stroke="#ee9a3e" stroke-width="1.35" />
<rect x="614.5" y="533.2" width="6.8" height="34" fill="none" stroke="#ee9a3e" stroke-width="1.35" />
<rect x="634.7" y="533.2" width="6.8" height="34" fill="none" stroke="#f0737b" stroke-width="1.35" />
<rect x="646.9" y="532.35" width="6.8" height="34.85" fill="none" stroke="#f0737b" stroke-width="1.35" />
<rect x="659.1" y="530.65" width="6.8" height="36.55" fill="none" stroke="#f0737b" stroke-width="1.35" />
<rect x="671.3" y="528.1" width="6.8" height="39.1" fill="none" stroke="#f0737b" stroke-width="1.35" />
<line x1="516.4" y1="482.2" x2="516.4" y2="567.2" stroke="#333333" stroke-width="1.2" />
<line x1="515.8" y1="567.2" x2="683.5" y2="567.2" stroke="#333333" stroke-width="1.2" />
<line x1="513.2" y1="567.2" x2="516.4" y2="567.2" stroke="#333333" stroke-width="1.1" />
<text x="512.2" y="567.4" font-size="6.9" text-anchor="end" fill="#222" dominant-baseline="central" >0</text>
<line x1="513.2" y1="550.2" x2="516.4" y2="550.2" stroke="#333333" stroke-width="1.1" />
<text x="512.2" y="550.4" font-size="6.9" text-anchor="end" fill="#222" dominant-baseline="central" >1</text>
<line x1="513.2" y1="533.2" x2="516.4" y2="533.2" stroke="#333333" stroke-width="1.1" />
<text x="512.2" y="533.4" font-size="6.9" text-anchor="end" fill="#222" dominant-baseline="central" >2</text>
<line x1="513.2" y1="516.2" x2="516.4" y2="516.2" stroke="#333333" stroke-width="1.1" />
<text x="512.2" y="516.4" font-size="6.9" text-anchor="end" fill="#222" dominant-baseline="central" >3</text>
<line x1="513.2" y1="499.2" x2="516.4" y2="499.2" stroke="#333333" stroke-width="1.1" />
<text x="512.2" y="499.4" font-size="6.9" text-anchor="end" fill="#222" dominant-baseline="central" >4</text>
<line x1="513.2" y1="482.2" x2="516.4" y2="482.2" stroke="#333333" stroke-width="1.1" />
<text x="512.2" y="482.4" font-size="6.9" text-anchor="end" fill="#222" dominant-baseline="central" >5</text>
<line x1="524.5" y1="567.2" x2="524.5" y2="570.6" stroke="#333333" stroke-width="1.1" />
<text x="525.5" y="574.8" font-size="6.9" fill="#222" text-anchor="end" dominant-baseline="central" textLength="21.0" lengthAdjust="spacingAndGlyphs" transform="rotate(-45 525.5 574.8)">Control</text>
<line x1="536.7" y1="567.2" x2="536.7" y2="570.6" stroke="#333333" stroke-width="1.1" />
<text x="537.7" y="574.8" font-size="6.9" fill="#222" text-anchor="end" dominant-baseline="central" textLength="12.3" lengthAdjust="spacingAndGlyphs" transform="rotate(-45 537.7 574.8)">3dpi</text>
<line x1="548.9" y1="567.2" x2="548.9" y2="570.6" stroke="#333333" stroke-width="1.1" />
<text x="549.9" y="574.8" font-size="6.9" fill="#222" text-anchor="end" dominant-baseline="central" textLength="12.3" lengthAdjust="spacingAndGlyphs" transform="rotate(-45 549.9 574.8)">7dpi</text>
<line x1="561.1" y1="567.2" x2="561.1" y2="570.6" stroke="#333333" stroke-width="1.1" />
<text x="562.1" y="574.8" font-size="6.9" fill="#222" text-anchor="end" dominant-baseline="central" textLength="15.5" lengthAdjust="spacingAndGlyphs" transform="rotate(-45 562.1 574.8)">14dpi</text>
<line x1="581.3" y1="567.2" x2="581.3" y2="570.6" stroke="#333333" stroke-width="1.1" />
<text x="582.3" y="574.8" font-size="6.9" fill="#222" text-anchor="end" dominant-baseline="central" textLength="21.0" lengthAdjust="spacingAndGlyphs" transform="rotate(-45 582.3 574.8)">Control</text>
<line x1="593.5" y1="567.2" x2="593.5" y2="570.6" stroke="#333333" stroke-width="1.1" />
<text x="594.5" y="574.8" font-size="6.9" fill="#222" text-anchor="end" dominant-baseline="central" textLength="12.3" lengthAdjust="spacingAndGlyphs" transform="rotate(-45 594.5 574.8)">3dpi</text>
<line x1="605.7" y1="567.2" x2="605.7" y2="570.6" stroke="#333333" stroke-width="1.1" />
<text x="606.7" y="574.8" font-size="6.9" fill="#222" text-anchor="end" dominant-baseline="central" textLength="12.3" lengthAdjust="spacingAndGlyphs" transform="rotate(-45 606.7 574.8)">7dpi</text>
<line x1="617.9" y1="567.2" x2="617.9" y2="570.6" stroke="#333333" stroke-width="1.1" />
<text x="618.9" y="574.8" font-size="6.9" fill="#222" text-anchor="end" dominant-baseline="central" textLength="15.5" lengthAdjust="spacingAndGlyphs" transform="rotate(-45 618.9 574.8)">14dpi</text>
<line x1="638.1" y1="567.2" x2="638.1" y2="570.6" stroke="#333333" stroke-width="1.1" />
<text x="639.1" y="574.8" font-size="6.9" fill="#222" text-anchor="end" dominant-baseline="central" textLength="21.0" lengthAdjust="spacingAndGlyphs" transform="rotate(-45 639.1 574.8)">Control</text>
<line x1="650.3" y1="567.2" x2="650.3" y2="570.6" stroke="#333333" stroke-width="1.1" />
<text x="651.3" y="574.8" font-size="6.9" fill="#222" text-anchor="end" dominant-baseline="central" textLength="12.3" lengthAdjust="spacingAndGlyphs" transform="rotate(-45 651.3 574.8)">3dpi</text>
<line x1="662.5" y1="567.2" x2="662.5" y2="570.6" stroke="#333333" stroke-width="1.1" />
<text x="663.5" y="574.8" font-size="6.9" fill="#222" text-anchor="end" dominant-baseline="central" textLength="12.3" lengthAdjust="spacingAndGlyphs" transform="rotate(-45 663.5 574.8)">7dpi</text>
<line x1="674.7" y1="567.2" x2="674.7" y2="570.6" stroke="#333333" stroke-width="1.1" />
<text x="675.7" y="574.8" font-size="6.9" fill="#222" text-anchor="end" dominant-baseline="central" textLength="15.5" lengthAdjust="spacingAndGlyphs" transform="rotate(-45 675.7 574.8)">14dpi</text>
<circle cx="524.5" cy="533.2" r="1.95" fill="#7f84d6" stroke="none" stroke-width="1" />
<circle cx="522.6" cy="533.2" r="1.95" fill="#7f84d6" stroke="none" stroke-width="1" />
<circle cx="526.4" cy="533.2" r="1.95" fill="#7f84d6" stroke="none" stroke-width="1" />
<circle cx="523.55" cy="533.2" r="1.95" fill="#7f84d6" stroke="none" stroke-width="1" />
<circle cx="525.45" cy="533.2" r="1.95" fill="#7f84d6" stroke="none" stroke-width="1" />
<circle cx="522.1" cy="533.2" r="1.95" fill="#7f84d6" stroke="none" stroke-width="1" />
<circle cx="536.7" cy="533.2" r="1.95" fill="#7f84d6" stroke="none" stroke-width="1" />
<circle cx="534.8" cy="533.2" r="1.95" fill="#7f84d6" stroke="none" stroke-width="1" />
<circle cx="538.6" cy="533.2" r="1.95" fill="#7f84d6" stroke="none" stroke-width="1" />
<circle cx="535.75" cy="533.2" r="1.95" fill="#7f84d6" stroke="none" stroke-width="1" />
<circle cx="537.65" cy="533.2" r="1.95" fill="#7f84d6" stroke="none" stroke-width="1" />
<circle cx="534.3" cy="533.2" r="1.95" fill="#7f84d6" stroke="none" stroke-width="1" />
<circle cx="548.9" cy="533.2" r="1.95" fill="#7f84d6" stroke="none" stroke-width="1" />
<circle cx="547" cy="533.2" r="1.95" fill="#7f84d6" stroke="none" stroke-width="1" />
<circle cx="550.8" cy="533.2" r="1.95" fill="#7f84d6" stroke="none" stroke-width="1" />
<circle cx="547.95" cy="533.2" r="1.95" fill="#7f84d6" stroke="none" stroke-width="1" />
<circle cx="549.85" cy="533.2" r="1.95" fill="#7f84d6" stroke="none" stroke-width="1" />
<circle cx="546.5" cy="533.2" r="1.95" fill="#7f84d6" stroke="none" stroke-width="1" />
<circle cx="561.1" cy="533.2" r="1.95" fill="#7f84d6" stroke="none" stroke-width="1" />
<circle cx="559.2" cy="533.2" r="1.95" fill="#7f84d6" stroke="none" stroke-width="1" />
<circle cx="563" cy="533.2" r="1.95" fill="#7f84d6" stroke="none" stroke-width="1" />
<circle cx="560.15" cy="533.2" r="1.95" fill="#7f84d6" stroke="none" stroke-width="1" />
<circle cx="562.05" cy="533.2" r="1.95" fill="#7f84d6" stroke="none" stroke-width="1" />
<circle cx="558.7" cy="533.2" r="1.95" fill="#7f84d6" stroke="none" stroke-width="1" />
<rect x="579.35" y="531.25" width="3.9" height="3.9" fill="#ee9a3e" stroke="none" stroke-width="1" />
<rect x="577.45" y="531.25" width="3.9" height="3.9" fill="#ee9a3e" stroke="none" stroke-width="1" />
<rect x="581.25" y="531.25" width="3.9" height="3.9" fill="#ee9a3e" stroke="none" stroke-width="1" />
<rect x="578.4" y="531.25" width="3.9" height="3.9" fill="#ee9a3e" stroke="none" stroke-width="1" />
<rect x="580.3" y="531.25" width="3.9" height="3.9" fill="#ee9a3e" stroke="none" stroke-width="1" />
<rect x="576.95" y="531.25" width="3.9" height="3.9" fill="#ee9a3e" stroke="none" stroke-width="1" />
<rect x="591.55" y="531.25" width="3.9" height="3.9" fill="#ee9a3e" stroke="none" stroke-width="1" />
<rect x="589.65" y="531.25" width="3.9" height="3.9" fill="#ee9a3e" stroke="none" stroke-width="1" />
<rect x="593.45" y="527.85" width="3.9" height="3.9" fill="#ee9a3e" stroke="none" stroke-width="1" />
<line x1="593.5" y1="530.65" x2="593.5" y2="534.05" stroke="#ee9a3e" stroke-width="0.9" />
<line x1="591.9" y1="530.65" x2="595.1" y2="530.65" stroke="#ee9a3e" stroke-width="0.9" />
<line x1="591.9" y1="534.05" x2="595.1" y2="534.05" stroke="#ee9a3e" stroke-width="0.9" />
<rect x="603.75" y="531.25" width="3.9" height="3.9" fill="#ee9a3e" stroke="none" stroke-width="1" />
<rect x="601.85" y="531.25" width="3.9" height="3.9" fill="#ee9a3e" stroke="none" stroke-width="1" />
<rect x="605.65" y="531.25" width="3.9" height="3.9" fill="#ee9a3e" stroke="none" stroke-width="1" />
<rect x="602.8" y="531.25" width="3.9" height="3.9" fill="#ee9a3e" stroke="none" stroke-width="1" />
<rect x="604.7" y="531.25" width="3.9" height="3.9" fill="#ee9a3e" stroke="none" stroke-width="1" />
<rect x="601.35" y="531.25" width="3.9" height="3.9" fill="#ee9a3e" stroke="none" stroke-width="1" />
<rect x="615.95" y="531.25" width="3.9" height="3.9" fill="#ee9a3e" stroke="none" stroke-width="1" />
<rect x="614.05" y="531.25" width="3.9" height="3.9" fill="#ee9a3e" stroke="none" stroke-width="1" />
<rect x="617.85" y="531.25" width="3.9" height="3.9" fill="#ee9a3e" stroke="none" stroke-width="1" />
<rect x="615" y="531.25" width="3.9" height="3.9" fill="#ee9a3e" stroke="none" stroke-width="1" />
<rect x="616.9" y="531.25" width="3.9" height="3.9" fill="#ee9a3e" stroke="none" stroke-width="1" />
<rect x="613.55" y="531.25" width="3.9" height="3.9" fill="#ee9a3e" stroke="none" stroke-width="1" />
<path d="M638.1,530.8 L640.25,534.67 L635.95,534.67 Z" stroke="none" stroke-width="1" fill="#f0737b" />
<path d="M636.2,530.8 L638.35,534.67 L634.05,534.67 Z" stroke="none" stroke-width="1" fill="#f0737b" />
<path d="M640,530.8 L642.15,534.67 L637.85,534.67 Z" stroke="none" stroke-width="1" fill="#f0737b" />
<path d="M637.15,530.8 L639.3,534.67 L635,534.67 Z" stroke="none" stroke-width="1" fill="#f0737b" />
<path d="M639.05,530.8 L641.2,534.67 L636.9,534.67 Z" stroke="none" stroke-width="1" fill="#f0737b" />
<path d="M650.3,530.8 L652.45,534.67 L648.15,534.67 Z" stroke="none" stroke-width="1" fill="#f0737b" />
<path d="M648.4,530.8 L650.55,534.67 L646.25,534.67 Z" stroke="none" stroke-width="1" fill="#f0737b" />
<path d="M652.2,529.1 L654.35,532.97 L650.05,532.97 Z" stroke="none" stroke-width="1" fill="#f0737b" />
<line x1="650.3" y1="531.5" x2="650.3" y2="533.2" stroke="#f0737b" stroke-width="0.9" />
<line x1="648.7" y1="531.5" x2="651.9" y2="531.5" stroke="#f0737b" stroke-width="0.9" />
<line x1="648.7" y1="533.2" x2="651.9" y2="533.2" stroke="#f0737b" stroke-width="0.9" />
<path d="M662.5,530.8 L664.65,534.67 L660.35,534.67 Z" stroke="none" stroke-width="1" fill="#f0737b" />
<path d="M660.6,527.4 L662.75,531.27 L658.45,531.27 Z" stroke="none" stroke-width="1" fill="#f0737b" />
<path d="M664.4,524 L666.55,527.87 L662.25,527.87 Z" stroke="none" stroke-width="1" fill="#f0737b" />
<line x1="662.5" y1="528.1" x2="662.5" y2="533.2" stroke="#f0737b" stroke-width="0.9" />
<line x1="660.9" y1="528.1" x2="664.1" y2="528.1" stroke="#f0737b" stroke-width="0.9" />
<line x1="660.9" y1="533.2" x2="664.1" y2="533.2" stroke="#f0737b" stroke-width="0.9" />
<path d="M674.7,530.8 L676.85,534.67 L672.55,534.67 Z" stroke="none" stroke-width="1" fill="#f0737b" />
<path d="M672.8,527.4 L674.95,531.27 L670.65,531.27 Z" stroke="none" stroke-width="1" fill="#f0737b" />
<path d="M676.6,524 L678.75,527.87 L674.45,527.87 Z" stroke="none" stroke-width="1" fill="#f0737b" />
<path d="M673.75,524 L675.9,527.87 L671.6,527.87 Z" stroke="none" stroke-width="1" fill="#f0737b" />
<line x1="674.7" y1="525.55" x2="674.7" y2="530.65" stroke="#f0737b" stroke-width="0.9" />
<line x1="673.1" y1="525.55" x2="676.3" y2="525.55" stroke="#f0737b" stroke-width="0.9" />
<line x1="673.1" y1="530.65" x2="676.3" y2="530.65" stroke="#f0737b" stroke-width="0.9" />
<path d="M524.5,487.8 L524.5,482.2 L561.1,482.2 L561.1,528.7" stroke="#333" stroke-width="1" fill="none" />
<text x="542.8" y="475.9" font-size="7.1" text-anchor="middle" fill="#1a1a1a" dominant-baseline="central" textLength="24.5" lengthAdjust="spacingAndGlyphs" >&gt;0.9999</text>
<path d="M524.5,505.3 L524.5,499.9 L548.9,499.9 L548.9,528.7" stroke="#333" stroke-width="1" fill="none" />
<text x="536.7" y="493.6" font-size="7.1" text-anchor="middle" fill="#1a1a1a" dominant-baseline="central" textLength="24.5" lengthAdjust="spacingAndGlyphs" >&gt;0.9999</text>
<path d="M524.5,528.7 L524.5,517.4 L536.7,517.4 L536.7,528.7" stroke="#333" stroke-width="1" fill="none" />
<text x="530.6" y="511.1" font-size="7.1" text-anchor="middle" fill="#1a1a1a" dominant-baseline="central" textLength="24.5" lengthAdjust="spacingAndGlyphs" >&gt;0.9999</text>
<path d="M581.3,487.3 L581.3,481.6 L617.9,481.6 L617.9,528.7" stroke="#333" stroke-width="1" fill="none" />
<text x="599.6" y="475.3" font-size="7.1" text-anchor="middle" fill="#1a1a1a" dominant-baseline="central" textLength="24.5" lengthAdjust="spacingAndGlyphs" >&gt;0.9999</text>
<path d="M581.3,506.6 L581.3,499.4 L605.7,499.4 L605.7,528.7" stroke="#333" stroke-width="1" fill="none" />
<text x="593.5" y="493.1" font-size="7.1" text-anchor="middle" fill="#1a1a1a" dominant-baseline="central" textLength="24.5" lengthAdjust="spacingAndGlyphs" >&gt;0.9999</text>
<path d="M581.3,528.7 L581.3,518.7 L593.5,518.7 L593.5,525.3" stroke="#333" stroke-width="1" fill="none" />
<text x="587.4" y="512.4" font-size="7.1" text-anchor="middle" fill="#1a1a1a" dominant-baseline="central" textLength="20.9" lengthAdjust="spacingAndGlyphs" >0.9184</text>
<path d="M638.1,489 L638.1,483.3 L674.7,483.3 L674.7,521.05" stroke="#333" stroke-width="1" fill="none" />
<text x="656.4" y="477" font-size="7.1" text-anchor="middle" fill="#1a1a1a" dominant-baseline="central" textLength="24.5" lengthAdjust="spacingAndGlyphs" >&lt;0.0001</text>
<path d="M638.1,507.5 L638.1,501.1 L662.5,501.1 L662.5,521.9" stroke="#333" stroke-width="1" fill="none" />
<text x="650.3" y="494.8" font-size="7.1" text-anchor="middle" fill="#1a1a1a" dominant-baseline="central" textLength="20.9" lengthAdjust="spacingAndGlyphs" >0.0015</text>
<path d="M638.1,528.7 L638.1,519.6 L650.3,519.6 L650.3,527" stroke="#333" stroke-width="1" fill="none" />
<text x="644.2" y="513.3" font-size="7.1" text-anchor="middle" fill="#1a1a1a" dominant-baseline="central" textLength="20.9" lengthAdjust="spacingAndGlyphs" >0.6047</text>
<text x="492.2" y="525.5" font-size="7.9" text-anchor="middle" fill="#111" dominant-baseline="central" font-weight="bold" transform="rotate(-90 492.2 525.5)" >Liver</text>
<text x="501.3" y="525.5" font-size="7.9" font-weight="bold" fill="#111" text-anchor="middle" dominant-baseline="central" transform="rotate(-90 501.3 525.5)" textLength="61.4" lengthAdjust="spacingAndGlyphs">TCID<tspan font-size="4.4" dy="1.6">50</tspan><tspan dy="-1.6">/mL (Log</tspan><tspan font-size="4.4" dy="1.6">10</tspan><tspan dy="-1.6">)</tspan></text>
<text x="244.4" y="609" font-size="19.5" text-anchor="start" fill="#000" dominant-baseline="alphabetic" font-weight="bold" >j</text>
<line x1="282.7" y1="674.75" x2="452" y2="674.75" stroke="#333" stroke-width="1" stroke-dasharray="1.1 1.9"/>
<rect x="287.4" y="683.21" width="6.8" height="23.29" fill="none" stroke="#7f84d6" stroke-width="1.35" />
<rect x="299.6" y="686.39" width="6.8" height="20.11" fill="none" stroke="#7f84d6" stroke-width="1.35" />
<rect x="311.8" y="683.21" width="6.8" height="23.29" fill="none" stroke="#7f84d6" stroke-width="1.35" />
<rect x="324" y="681.1" width="6.8" height="25.4" fill="none" stroke="#7f84d6" stroke-width="1.35" />
<rect x="344.1" y="683.21" width="6.8" height="23.29" fill="none" stroke="#ee9a3e" stroke-width="1.35" />
<rect x="356.3" y="678.34" width="6.8" height="28.16" fill="none" stroke="#ee9a3e" stroke-width="1.35" />
<rect x="368.5" y="674.32" width="6.8" height="32.18" fill="none" stroke="#ee9a3e" stroke-width="1.35" />
<rect x="380.7" y="679.19" width="6.8" height="27.31" fill="none" stroke="#ee9a3e" stroke-width="1.35" />
<rect x="401.1" y="681.1" width="6.8" height="25.4" fill="none" stroke="#f0737b" stroke-width="1.35" />
<rect x="413.3" y="673.26" width="6.8" height="33.24" fill="none" stroke="#f0737b" stroke-width="1.35" />
<rect x="425.5" y="664.16" width="6.8" height="42.34" fill="none" stroke="#f0737b" stroke-width="1.35" />
<rect x="437.7" y="653.79" width="6.8" height="52.71" fill="none" stroke="#f0737b" stroke-width="1.35" />
<line x1="282.7" y1="621.82" x2="282.7" y2="706.5" stroke="#333333" stroke-width="1.2" />
<line x1="282.1" y1="706.5" x2="452" y2="706.5" stroke="#333333" stroke-width="1.2" />
<line x1="279.5" y1="706.5" x2="282.7" y2="706.5" stroke="#333333" stroke-width="1.1" />
<text x="278.5" y="706.7" font-size="6.9" text-anchor="end" fill="#222" dominant-baseline="central" >0</text>
<line x1="279.5" y1="685.33" x2="282.7" y2="685.33" stroke="#333333" stroke-width="1.1" />
<text x="278.5" y="685.53" font-size="6.9" text-anchor="end" fill="#222" dominant-baseline="central" >1</text>
<line x1="279.5" y1="664.16" x2="282.7" y2="664.16" stroke="#333333" stroke-width="1.1" />
<text x="278.5" y="664.36" font-size="6.9" text-anchor="end" fill="#222" dominant-baseline="central" >2</text>
<line x1="279.5" y1="642.99" x2="282.7" y2="642.99" stroke="#333333" stroke-width="1.1" />
<text x="278.5" y="643.19" font-size="6.9" text-anchor="end" fill="#222" dominant-baseline="central" >3</text>
<line x1="279.5" y1="621.82" x2="282.7" y2="621.82" stroke="#333333" stroke-width="1.1" />
<text x="278.5" y="622.02" font-size="6.9" text-anchor="end" fill="#222" dominant-baseline="central" >4</text>
<line x1="290.8" y1="706.5" x2="290.8" y2="709.9" stroke="#333333" stroke-width="1.1" />
<text x="291.8" y="714.1" font-size="6.9" fill="#222" text-anchor="end" dominant-baseline="central" textLength="21.0" lengthAdjust="spacingAndGlyphs" transform="rotate(-45 291.8 714.1)">Control</text>
<line x1="303" y1="706.5" x2="303" y2="709.9" stroke="#333333" stroke-width="1.1" />
<text x="304" y="714.1" font-size="6.9" fill="#222" text-anchor="end" dominant-baseline="central" textLength="12.3" lengthAdjust="spacingAndGlyphs" transform="rotate(-45 304 714.1)">3dpi</text>
<line x1="315.2" y1="706.5" x2="315.2" y2="709.9" stroke="#333333" stroke-width="1.1" />
<text x="316.2" y="714.1" font-size="6.9" fill="#222" text-anchor="end" dominant-baseline="central" textLength="12.3" lengthAdjust="spacingAndGlyphs" transform="rotate(-45 316.2 714.1)">7dpi</text>
<line x1="327.4" y1="706.5" x2="327.4" y2="709.9" stroke="#333333" stroke-width="1.1" />
<text x="328.4" y="714.1" font-size="6.9" fill="#222" text-anchor="end" dominant-baseline="central" textLength="15.5" lengthAdjust="spacingAndGlyphs" transform="rotate(-45 328.4 714.1)">14dpi</text>
<line x1="347.5" y1="706.5" x2="347.5" y2="709.9" stroke="#333333" stroke-width="1.1" />
<text x="348.5" y="714.1" font-size="6.9" fill="#222" text-anchor="end" dominant-baseline="central" textLength="21.0" lengthAdjust="spacingAndGlyphs" transform="rotate(-45 348.5 714.1)">Control</text>
<line x1="359.7" y1="706.5" x2="359.7" y2="709.9" stroke="#333333" stroke-width="1.1" />
<text x="360.7" y="714.1" font-size="6.9" fill="#222" text-anchor="end" dominant-baseline="central" textLength="12.3" lengthAdjust="spacingAndGlyphs" transform="rotate(-45 360.7 714.1)">3dpi</text>
<line x1="371.9" y1="706.5" x2="371.9" y2="709.9" stroke="#333333" stroke-width="1.1" />
<text x="372.9" y="714.1" font-size="6.9" fill="#222" text-anchor="end" dominant-baseline="central" textLength="12.3" lengthAdjust="spacingAndGlyphs" transform="rotate(-45 372.9 714.1)">7dpi</text>
<line x1="384.1" y1="706.5" x2="384.1" y2="709.9" stroke="#333333" stroke-width="1.1" />
<text x="385.1" y="714.1" font-size="6.9" fill="#222" text-anchor="end" dominant-baseline="central" textLength="15.5" lengthAdjust="spacingAndGlyphs" transform="rotate(-45 385.1 714.1)">14dpi</text>
<line x1="404.5" y1="706.5" x2="404.5" y2="709.9" stroke="#333333" stroke-width="1.1" />
<text x="405.5" y="714.1" font-size="6.9" fill="#222" text-anchor="end" dominant-baseline="central" textLength="21.0" lengthAdjust="spacingAndGlyphs" transform="rotate(-45 405.5 714.1)">Control</text>
<line x1="416.7" y1="706.5" x2="416.7" y2="709.9" stroke="#333333" stroke-width="1.1" />
<text x="417.7" y="714.1" font-size="6.9" fill="#222" text-anchor="end" dominant-baseline="central" textLength="12.3" lengthAdjust="spacingAndGlyphs" transform="rotate(-45 417.7 714.1)">3dpi</text>
<line x1="428.9" y1="706.5" x2="428.9" y2="709.9" stroke="#333333" stroke-width="1.1" />
<text x="429.9" y="714.1" font-size="6.9" fill="#222" text-anchor="end" dominant-baseline="central" textLength="12.3" lengthAdjust="spacingAndGlyphs" transform="rotate(-45 429.9 714.1)">7dpi</text>
<line x1="441.1" y1="706.5" x2="441.1" y2="709.9" stroke="#333333" stroke-width="1.1" />
<text x="442.1" y="714.1" font-size="6.9" fill="#222" text-anchor="end" dominant-baseline="central" textLength="15.5" lengthAdjust="spacingAndGlyphs" transform="rotate(-45 442.1 714.1)">14dpi</text>
<circle cx="290.8" cy="691.68" r="1.95" fill="#7f84d6" stroke="none" stroke-width="1" />
<circle cx="288.9" cy="687.45" r="1.95" fill="#7f84d6" stroke="none" stroke-width="1" />
<circle cx="292.7" cy="683.21" r="1.95" fill="#7f84d6" stroke="none" stroke-width="1" />
<circle cx="289.85" cy="678.98" r="1.95" fill="#7f84d6" stroke="none" stroke-width="1" />
<circle cx="291.75" cy="676.86" r="1.95" fill="#7f84d6" stroke="none" stroke-width="1" />
<line x1="290.8" y1="677.92" x2="290.8" y2="688.51" stroke="#7f84d6" stroke-width="0.9" />
<line x1="289.2" y1="677.92" x2="292.4" y2="677.92" stroke="#7f84d6" stroke-width="0.9" />
<line x1="289.2" y1="688.51" x2="292.4" y2="688.51" stroke="#7f84d6" stroke-width="0.9" />
<circle cx="303" cy="693.8" r="1.95" fill="#7f84d6" stroke="none" stroke-width="1" />
<circle cx="301.1" cy="689.56" r="1.95" fill="#7f84d6" stroke="none" stroke-width="1" />
<circle cx="304.9" cy="685.33" r="1.95" fill="#7f84d6" stroke="none" stroke-width="1" />
<circle cx="302.05" cy="678.98" r="1.95" fill="#7f84d6" stroke="none" stroke-width="1" />
<circle cx="303.95" cy="676.86" r="1.95" fill="#7f84d6" stroke="none" stroke-width="1" />
<line x1="303" y1="681.1" x2="303" y2="691.68" stroke="#7f84d6" stroke-width="0.9" />
<line x1="301.4" y1="681.1" x2="304.6" y2="681.1" stroke="#7f84d6" stroke-width="0.9" />
<line x1="301.4" y1="691.68" x2="304.6" y2="691.68" stroke="#7f84d6" stroke-width="0.9" />
<circle cx="315.2" cy="689.56" r="1.95" fill="#7f84d6" stroke="none" stroke-width="1" />
<circle cx="313.3" cy="685.33" r="1.95" fill="#7f84d6" stroke="none" stroke-width="1" />
<circle cx="317.1" cy="681.1" r="1.95" fill="#7f84d6" stroke="none" stroke-width="1" />
<circle cx="314.25" cy="677.92" r="1.95" fill="#7f84d6" stroke="none" stroke-width="1" />
<circle cx="316.15" cy="676.86" r="1.95" fill="#7f84d6" stroke="none" stroke-width="1" />
<line x1="315.2" y1="678.98" x2="315.2" y2="687.45" stroke="#7f84d6" stroke-width="0.9" />
<line x1="313.6" y1="678.98" x2="316.8" y2="678.98" stroke="#7f84d6" stroke-width="0.9" />
<line x1="313.6" y1="687.45" x2="316.8" y2="687.45" stroke="#7f84d6" stroke-width="0.9" />
<circle cx="327.4" cy="693.8" r="1.95" fill="#7f84d6" stroke="none" stroke-width="1" />
<circle cx="325.5" cy="687.45" r="1.95" fill="#7f84d6" stroke="none" stroke-width="1" />
<circle cx="329.3" cy="681.1" r="1.95" fill="#7f84d6" stroke="none" stroke-width="1" />
<circle cx="326.45" cy="676.86" r="1.95" fill="#7f84d6" stroke="none" stroke-width="1" />
<circle cx="328.35" cy="675.8" r="1.95" fill="#7f84d6" stroke="none" stroke-width="1" />
<line x1="327.4" y1="675.8" x2="327.4" y2="686.39" stroke="#7f84d6" stroke-width="0.9" />
<line x1="325.8" y1="675.8" x2="329" y2="675.8" stroke="#7f84d6" stroke-width="0.9" />
<line x1="325.8" y1="686.39" x2="329" y2="686.39" stroke="#7f84d6" stroke-width="0.9" />
<rect x="345.55" y="685.5" width="3.9" height="3.9" fill="#ee9a3e" stroke="none" stroke-width="1" />
<rect x="343.65" y="683.38" width="3.9" height="3.9" fill="#ee9a3e" stroke="none" stroke-width="1" />
<rect x="347.45" y="681.26" width="3.9" height="3.9" fill="#ee9a3e" stroke="none" stroke-width="1" />
<rect x="344.6" y="674.91" width="3.9" height="3.9" fill="#ee9a3e" stroke="none" stroke-width="1" />
<line x1="347.5" y1="680.04" x2="347.5" y2="686.39" stroke="#ee9a3e" stroke-width="0.9" />
<line x1="345.9" y1="680.04" x2="349.1" y2="680.04" stroke="#ee9a3e" stroke-width="0.9" />
<line x1="345.9" y1="686.39" x2="349.1" y2="686.39" stroke="#ee9a3e" stroke-width="0.9" />
<rect x="357.75" y="683.38" width="3.9" height="3.9" fill="#ee9a3e" stroke="none" stroke-width="1" />
<rect x="355.85" y="679.15" width="3.9" height="3.9" fill="#ee9a3e" stroke="none" stroke-width="1" />
<rect x="359.65" y="674.91" width="3.9" height="3.9" fill="#ee9a3e" stroke="none" stroke-width="1" />
<rect x="356.8" y="668.56" width="3.9" height="3.9" fill="#ee9a3e" stroke="none" stroke-width="1" />
<line x1="359.7" y1="674.11" x2="359.7" y2="682.58" stroke="#ee9a3e" stroke-width="0.9" />
<line x1="358.1" y1="674.11" x2="361.3" y2="674.11" stroke="#ee9a3e" stroke-width="0.9" />
<line x1="358.1" y1="682.58" x2="361.3" y2="682.58" stroke="#ee9a3e" stroke-width="0.9" />
<rect x="369.95" y="679.15" width="3.9" height="3.9" fill="#ee9a3e" stroke="none" stroke-width="1" />
<rect x="368.05" y="674.91" width="3.9" height="3.9" fill="#ee9a3e" stroke="none" stroke-width="1" />
<rect x="371.85" y="670.68" width="3.9" height="3.9" fill="#ee9a3e" stroke="none" stroke-width="1" />
<rect x="369" y="666.44" width="3.9" height="3.9" fill="#ee9a3e" stroke="none" stroke-width="1" />
<rect x="370.9" y="664.33" width="3.9" height="3.9" fill="#ee9a3e" stroke="none" stroke-width="1" />
<line x1="371.9" y1="670.09" x2="371.9" y2="678.56" stroke="#ee9a3e" stroke-width="0.9" />
<line x1="370.3" y1="670.09" x2="373.5" y2="670.09" stroke="#ee9a3e" stroke-width="0.9" />
<line x1="370.3" y1="678.56" x2="373.5" y2="678.56" stroke="#ee9a3e" stroke-width="0.9" />
<rect x="382.15" y="687.61" width="3.9" height="3.9" fill="#ee9a3e" stroke="none" stroke-width="1" />
<rect x="380.25" y="681.26" width="3.9" height="3.9" fill="#ee9a3e" stroke="none" stroke-width="1" />
<rect x="384.05" y="677.03" width="3.9" height="3.9" fill="#ee9a3e" stroke="none" stroke-width="1" />
<rect x="381.2" y="672.79" width="3.9" height="3.9" fill="#ee9a3e" stroke="none" stroke-width="1" />
<rect x="383.1" y="671.74" width="3.9" height="3.9" fill="#ee9a3e" stroke="none" stroke-width="1" />
<line x1="384.1" y1="674.96" x2="384.1" y2="683.42" stroke="#ee9a3e" stroke-width="0.9" />
<line x1="382.5" y1="674.96" x2="385.7" y2="674.96" stroke="#ee9a3e" stroke-width="0.9" />
<line x1="382.5" y1="683.42" x2="385.7" y2="683.42" stroke="#ee9a3e" stroke-width="0.9" />
<path d="M404.5,685.05 L406.65,688.92 L402.35,688.92 Z" stroke="none" stroke-width="1" fill="#f0737b" />
<path d="M402.6,680.81 L404.75,684.68 L400.45,684.68 Z" stroke="none" stroke-width="1" fill="#f0737b" />
<path d="M406.4,676.58 L408.55,680.45 L404.25,680.45 Z" stroke="none" stroke-width="1" fill="#f0737b" />
<path d="M403.55,674.46 L405.7,678.33 L401.4,678.33 Z" stroke="none" stroke-width="1" fill="#f0737b" />
<line x1="404.5" y1="676.86" x2="404.5" y2="685.33" stroke="#f0737b" stroke-width="0.9" />
<line x1="402.9" y1="676.86" x2="406.1" y2="676.86" stroke="#f0737b" stroke-width="0.9" />
<line x1="402.9" y1="685.33" x2="406.1" y2="685.33" stroke="#f0737b" stroke-width="0.9" />
<path d="M416.7,678.7 L418.85,682.57 L414.55,682.57 Z" stroke="none" stroke-width="1" fill="#f0737b" />
<path d="M414.8,674.46 L416.95,678.33 L412.65,678.33 Z" stroke="none" stroke-width="1" fill="#f0737b" />
<path d="M418.6,670.23 L420.75,674.1 L416.45,674.1 Z" stroke="none" stroke-width="1" fill="#f0737b" />
<path d="M415.75,665.99 L417.9,669.86 L413.6,669.86 Z" stroke="none" stroke-width="1" fill="#f0737b" />
<path d="M417.65,663.88 L419.8,667.75 L415.5,667.75 Z" stroke="none" stroke-width="1" fill="#f0737b" />
<line x1="416.7" y1="667.97" x2="416.7" y2="678.56" stroke="#f0737b" stroke-width="0.9" />
<line x1="415.1" y1="667.97" x2="418.3" y2="667.97" stroke="#f0737b" stroke-width="0.9" />
<line x1="415.1" y1="678.56" x2="418.3" y2="678.56" stroke="#f0737b" stroke-width="0.9" />
<path d="M428.9,668.11 L431.05,671.98 L426.75,671.98 Z" stroke="none" stroke-width="1" fill="#f0737b" />
<path d="M427,663.88 L429.15,667.75 L424.85,667.75 Z" stroke="none" stroke-width="1" fill="#f0737b" />
<path d="M430.8,659.64 L432.95,663.51 L428.65,663.51 Z" stroke="none" stroke-width="1" fill="#f0737b" />
<path d="M427.95,655.41 L430.1,659.28 L425.8,659.28 Z" stroke="none" stroke-width="1" fill="#f0737b" />
<path d="M429.85,653.29 L432,657.16 L427.7,657.16 Z" stroke="none" stroke-width="1" fill="#f0737b" />
<line x1="428.9" y1="659.93" x2="428.9" y2="668.39" stroke="#f0737b" stroke-width="0.9" />
<line x1="427.3" y1="659.93" x2="430.5" y2="659.93" stroke="#f0737b" stroke-width="0.9" />
<line x1="427.3" y1="668.39" x2="430.5" y2="668.39" stroke="#f0737b" stroke-width="0.9" />
<path d="M441.1,657.53 L443.25,661.4 L438.95,661.4 Z" stroke="none" stroke-width="1" fill="#f0737b" />
<path d="M439.2,653.29 L441.35,657.16 L437.05,657.16 Z" stroke="none" stroke-width="1" fill="#f0737b" />
<path d="M443,649.06 L445.15,652.93 L440.85,652.93 Z" stroke="none" stroke-width="1" fill="#f0737b" />
<path d="M440.15,642.71 L442.3,646.58 L438,646.58 Z" stroke="none" stroke-width="1" fill="#f0737b" />
<line x1="441.1" y1="649.55" x2="441.1" y2="658.02" stroke="#f0737b" stroke-width="0.9" />
<line x1="439.5" y1="649.55" x2="442.7" y2="649.55" stroke="#f0737b" stroke-width="0.9" />
<line x1="439.5" y1="658.02" x2="442.7" y2="658.02" stroke="#f0737b" stroke-width="0.9" />
<path d="M290.8,627.9 L290.8,620.2 L327.4,620.2 L327.4,671.3" stroke="#333" stroke-width="1" fill="none" />
<text x="309.1" y="613.9" font-size="7.1" text-anchor="middle" fill="#1a1a1a" dominant-baseline="central" textLength="20.9" lengthAdjust="spacingAndGlyphs" >0.7846</text>
<path d="M290.8,649.4 L290.8,640 L315.2,640 L315.2,672.36" stroke="#333" stroke-width="1" fill="none" />
<text x="303" y="633.7" font-size="7.1" text-anchor="middle" fill="#1a1a1a" dominant-baseline="central" textLength="20.9" lengthAdjust="spacingAndGlyphs" >0.9965</text>
<path d="M290.8,672.36 L290.8,661.5 L303,661.5 L303,672.36" stroke="#333" stroke-width="1" fill="none" />
<text x="296.9" y="655.2" font-size="7.1" text-anchor="middle" fill="#1a1a1a" dominant-baseline="central" textLength="20.9" lengthAdjust="spacingAndGlyphs" >0.6140</text>
<path d="M347.5,626.7 L347.5,620.9 L384.1,620.9 L384.1,669.19" stroke="#333" stroke-width="1" fill="none" />
<text x="365.8" y="614.6" font-size="7.1" text-anchor="middle" fill="#1a1a1a" dominant-baseline="central" textLength="20.9" lengthAdjust="spacingAndGlyphs" >0.4177</text>
<path d="M347.5,648.3 L347.5,638.8 L371.9,638.8 L371.9,661.78" stroke="#333" stroke-width="1" fill="none" />
<text x="359.7" y="632.5" font-size="7.1" text-anchor="middle" fill="#1a1a1a" dominant-baseline="central" textLength="20.9" lengthAdjust="spacingAndGlyphs" >0.0535</text>
<path d="M347.5,672.36 L347.5,660.4 L359.7,660.4 L359.7,666.01" stroke="#333" stroke-width="1" fill="none" />
<text x="353.6" y="654.1" font-size="7.1" text-anchor="middle" fill="#1a1a1a" dominant-baseline="central" textLength="20.9" lengthAdjust="spacingAndGlyphs" >0.6633</text>
<path d="M404.5,626.1 L404.5,620.6 L441.1,620.6 L441.1,640.61" stroke="#333" stroke-width="1" fill="none" />
<text x="422.8" y="614.3" font-size="7.1" text-anchor="middle" fill="#1a1a1a" dominant-baseline="central" textLength="24.5" lengthAdjust="spacingAndGlyphs" >&lt;0.0001</text>
<path d="M404.5,647.4 L404.5,638.2 L428.9,638.2 L428.9,651.19" stroke="#333" stroke-width="1" fill="none" />
<text x="416.7" y="631.9" font-size="7.1" text-anchor="middle" fill="#1a1a1a" dominant-baseline="central" textLength="24.5" lengthAdjust="spacingAndGlyphs" >&lt;0.0001</text>
<path d="M404.5,672.36 L404.5,659.5 L416.7,659.5 L416.7,664" stroke="#333" stroke-width="1" fill="none" />
<text x="410.6" y="653.2" font-size="7.1" text-anchor="middle" fill="#1a1a1a" dominant-baseline="central" textLength="20.9" lengthAdjust="spacingAndGlyphs" >0.0231</text>
<text x="259.1" y="663.5" font-size="7.9" text-anchor="middle" fill="#111" dominant-baseline="central" font-weight="bold" transform="rotate(-90 259.1 663.5)" >Spleen</text>
<text x="267.2" y="663.5" font-size="7.9" font-weight="bold" fill="#111" text-anchor="middle" dominant-baseline="central" transform="rotate(-90 267.2 663.5)" textLength="59.4" lengthAdjust="spacingAndGlyphs">Copies/mL (Log<tspan font-size="4.4" dy="1.6">10</tspan><tspan dy="-1.6">)</tspan></text>
<text x="473.1" y="609.1" font-size="19.5" text-anchor="start" fill="#000" dominant-baseline="alphabetic" font-weight="bold" >k</text>
<line x1="516.4" y1="672.4" x2="683.5" y2="672.4" stroke="#333" stroke-width="1" stroke-dasharray="1.1 1.9"/>
<rect x="521.1" y="672.4" width="6.8" height="34" fill="none" stroke="#7f84d6" stroke-width="1.35" />
<rect x="533.3" y="672.4" width="6.8" height="34" fill="none" stroke="#7f84d6" stroke-width="1.35" />
<rect x="545.5" y="672.4" width="6.8" height="34" fill="none" stroke="#7f84d6" stroke-width="1.35" />
<rect x="557.7" y="672.4" width="6.8" height="34" fill="none" stroke="#7f84d6" stroke-width="1.35" />
<rect x="577.9" y="672.4" width="6.8" height="34" fill="none" stroke="#ee9a3e" stroke-width="1.35" />
<rect x="590.1" y="671.55" width="6.8" height="34.85" fill="none" stroke="#ee9a3e" stroke-width="1.35" />
<rect x="602.3" y="671.55" width="6.8" height="34.85" fill="none" stroke="#ee9a3e" stroke-width="1.35" />
<rect x="614.5" y="672.4" width="6.8" height="34" fill="none" stroke="#ee9a3e" stroke-width="1.35" />
<rect x="634.7" y="672.4" width="6.8" height="34" fill="none" stroke="#f0737b" stroke-width="1.35" />
<rect x="646.9" y="671.55" width="6.8" height="34.85" fill="none" stroke="#f0737b" stroke-width="1.35" />
<rect x="659.1" y="669.85" width="6.8" height="36.55" fill="none" stroke="#f0737b" stroke-width="1.35" />
<rect x="671.3" y="669" width="6.8" height="37.4" fill="none" stroke="#f0737b" stroke-width="1.35" />
<line x1="516.4" y1="621.4" x2="516.4" y2="706.4" stroke="#333333" stroke-width="1.2" />
<line x1="515.8" y1="706.4" x2="683.5" y2="706.4" stroke="#333333" stroke-width="1.2" />
<line x1="513.2" y1="706.4" x2="516.4" y2="706.4" stroke="#333333" stroke-width="1.1" />
<text x="512.2" y="706.6" font-size="6.9" text-anchor="end" fill="#222" dominant-baseline="central" >0</text>
<line x1="513.2" y1="689.4" x2="516.4" y2="689.4" stroke="#333333" stroke-width="1.1" />
<text x="512.2" y="689.6" font-size="6.9" text-anchor="end" fill="#222" dominant-baseline="central" >1</text>
<line x1="513.2" y1="672.4" x2="516.4" y2="672.4" stroke="#333333" stroke-width="1.1" />
<text x="512.2" y="672.6" font-size="6.9" text-anchor="end" fill="#222" dominant-baseline="central" >2</text>
<line x1="513.2" y1="655.4" x2="516.4" y2="655.4" stroke="#333333" stroke-width="1.1" />
<text x="512.2" y="655.6" font-size="6.9" text-anchor="end" fill="#222" dominant-baseline="central" >3</text>
<line x1="513.2" y1="638.4" x2="516.4" y2="638.4" stroke="#333333" stroke-width="1.1" />
<text x="512.2" y="638.6" font-size="6.9" text-anchor="end" fill="#222" dominant-baseline="central" >4</text>
<line x1="513.2" y1="621.4" x2="516.4" y2="621.4" stroke="#333333" stroke-width="1.1" />
<text x="512.2" y="621.6" font-size="6.9" text-anchor="end" fill="#222" dominant-baseline="central" >5</text>
<line x1="524.5" y1="706.4" x2="524.5" y2="709.8" stroke="#333333" stroke-width="1.1" />
<text x="525.5" y="714" font-size="6.9" fill="#222" text-anchor="end" dominant-baseline="central" textLength="21.0" lengthAdjust="spacingAndGlyphs" transform="rotate(-45 525.5 714)">Control</text>
<line x1="536.7" y1="706.4" x2="536.7" y2="709.8" stroke="#333333" stroke-width="1.1" />
<text x="537.7" y="714" font-size="6.9" fill="#222" text-anchor="end" dominant-baseline="central" textLength="12.3" lengthAdjust="spacingAndGlyphs" transform="rotate(-45 537.7 714)">3dpi</text>
<line x1="548.9" y1="706.4" x2="548.9" y2="709.8" stroke="#333333" stroke-width="1.1" />
<text x="549.9" y="714" font-size="6.9" fill="#222" text-anchor="end" dominant-baseline="central" textLength="12.3" lengthAdjust="spacingAndGlyphs" transform="rotate(-45 549.9 714)">7dpi</text>
<line x1="561.1" y1="706.4" x2="561.1" y2="709.8" stroke="#333333" stroke-width="1.1" />
<text x="562.1" y="714" font-size="6.9" fill="#222" text-anchor="end" dominant-baseline="central" textLength="15.5" lengthAdjust="spacingAndGlyphs" transform="rotate(-45 562.1 714)">14dpi</text>
<line x1="581.3" y1="706.4" x2="581.3" y2="709.8" stroke="#333333" stroke-width="1.1" />
<text x="582.3" y="714" font-size="6.9" fill="#222" text-anchor="end" dominant-baseline="central" textLength="21.0" lengthAdjust="spacingAndGlyphs" transform="rotate(-45 582.3 714)">Control</text>
<line x1="593.5" y1="706.4" x2="593.5" y2="709.8" stroke="#333333" stroke-width="1.1" />
<text x="594.5" y="714" font-size="6.9" fill="#222" text-anchor="end" dominant-baseline="central" textLength="12.3" lengthAdjust="spacingAndGlyphs" transform="rotate(-45 594.5 714)">3dpi</text>
<line x1="605.7" y1="706.4" x2="605.7" y2="709.8" stroke="#333333" stroke-width="1.1" />
<text x="606.7" y="714" font-size="6.9" fill="#222" text-anchor="end" dominant-baseline="central" textLength="12.3" lengthAdjust="spacingAndGlyphs" transform="rotate(-45 606.7 714)">7dpi</text>
<line x1="617.9" y1="706.4" x2="617.9" y2="709.8" stroke="#333333" stroke-width="1.1" />
<text x="618.9" y="714" font-size="6.9" fill="#222" text-anchor="end" dominant-baseline="central" textLength="15.5" lengthAdjust="spacingAndGlyphs" transform="rotate(-45 618.9 714)">14dpi</text>
<line x1="638.1" y1="706.4" x2="638.1" y2="709.8" stroke="#333333" stroke-width="1.1" />
<text x="639.1" y="714" font-size="6.9" fill="#222" text-anchor="end" dominant-baseline="central" textLength="21.0" lengthAdjust="spacingAndGlyphs" transform="rotate(-45 639.1 714)">Control</text>
<line x1="650.3" y1="706.4" x2="650.3" y2="709.8" stroke="#333333" stroke-width="1.1" />
<text x="651.3" y="714" font-size="6.9" fill="#222" text-anchor="end" dominant-baseline="central" textLength="12.3" lengthAdjust="spacingAndGlyphs" transform="rotate(-45 651.3 714)">3dpi</text>
<line x1="662.5" y1="706.4" x2="662.5" y2="709.8" stroke="#333333" stroke-width="1.1" />
<text x="663.5" y="714" font-size="6.9" fill="#222" text-anchor="end" dominant-baseline="central" textLength="12.3" lengthAdjust="spacingAndGlyphs" transform="rotate(-45 663.5 714)">7dpi</text>
<line x1="674.7" y1="706.4" x2="674.7" y2="709.8" stroke="#333333" stroke-width="1.1" />
<text x="675.7" y="714" font-size="6.9" fill="#222" text-anchor="end" dominant-baseline="central" textLength="15.5" lengthAdjust="spacingAndGlyphs" transform="rotate(-45 675.7 714)">14dpi</text>
<circle cx="524.5" cy="672.4" r="1.95" fill="#7f84d6" stroke="none" stroke-width="1" />
<circle cx="522.6" cy="672.4" r="1.95" fill="#7f84d6" stroke="none" stroke-width="1" />
<circle cx="526.4" cy="672.4" r="1.95" fill="#7f84d6" stroke="none" stroke-width="1" />
<circle cx="523.55" cy="672.4" r="1.95" fill="#7f84d6" stroke="none" stroke-width="1" />
<circle cx="525.45" cy="672.4" r="1.95" fill="#7f84d6" stroke="none" stroke-width="1" />
<circle cx="522.1" cy="672.4" r="1.95" fill="#7f84d6" stroke="none" stroke-width="1" />
<circle cx="536.7" cy="672.4" r="1.95" fill="#7f84d6" stroke="none" stroke-width="1" />
<circle cx="534.8" cy="672.4" r="1.95" fill="#7f84d6" stroke="none" stroke-width="1" />
<circle cx="538.6" cy="672.4" r="1.95" fill="#7f84d6" stroke="none" stroke-width="1" />
<circle cx="535.75" cy="672.4" r="1.95" fill="#7f84d6" stroke="none" stroke-width="1" />
<circle cx="537.65" cy="672.4" r="1.95" fill="#7f84d6" stroke="none" stroke-width="1" />
<circle cx="534.3" cy="672.4" r="1.95" fill="#7f84d6" stroke="none" stroke-width="1" />
<circle cx="548.9" cy="672.4" r="1.95" fill="#7f84d6" stroke="none" stroke-width="1" />
<circle cx="547" cy="672.4" r="1.95" fill="#7f84d6" stroke="none" stroke-width="1" />
<circle cx="550.8" cy="672.4" r="1.95" fill="#7f84d6" stroke="none" stroke-width="1" />
<circle cx="547.95" cy="672.4" r="1.95" fill="#7f84d6" stroke="none" stroke-width="1" />
<circle cx="549.85" cy="672.4" r="1.95" fill="#7f84d6" stroke="none" stroke-width="1" />
<circle cx="546.5" cy="672.4" r="1.95" fill="#7f84d6" stroke="none" stroke-width="1" />
<circle cx="561.1" cy="672.4" r="1.95" fill="#7f84d6" stroke="none" stroke-width="1" />
<circle cx="559.2" cy="672.4" r="1.95" fill="#7f84d6" stroke="none" stroke-width="1" />
<circle cx="563" cy="672.4" r="1.95" fill="#7f84d6" stroke="none" stroke-width="1" />
<circle cx="560.15" cy="672.4" r="1.95" fill="#7f84d6" stroke="none" stroke-width="1" />
<circle cx="562.05" cy="672.4" r="1.95" fill="#7f84d6" stroke="none" stroke-width="1" />
<circle cx="558.7" cy="672.4" r="1.95" fill="#7f84d6" stroke="none" stroke-width="1" />
<rect x="579.35" y="670.45" width="3.9" height="3.9" fill="#ee9a3e" stroke="none" stroke-width="1" />
<rect x="577.45" y="670.45" width="3.9" height="3.9" fill="#ee9a3e" stroke="none" stroke-width="1" />
<rect x="581.25" y="670.45" width="3.9" height="3.9" fill="#ee9a3e" stroke="none" stroke-width="1" />
<rect x="578.4" y="670.45" width="3.9" height="3.9" fill="#ee9a3e" stroke="none" stroke-width="1" />
<rect x="580.3" y="670.45" width="3.9" height="3.9" fill="#ee9a3e" stroke="none" stroke-width="1" />
<rect x="576.95" y="670.45" width="3.9" height="3.9" fill="#ee9a3e" stroke="none" stroke-width="1" />
<rect x="591.55" y="670.45" width="3.9" height="3.9" fill="#ee9a3e" stroke="none" stroke-width="1" />
<rect x="589.65" y="670.45" width="3.9" height="3.9" fill="#ee9a3e" stroke="none" stroke-width="1" />
<rect x="593.45" y="667.05" width="3.9" height="3.9" fill="#ee9a3e" stroke="none" stroke-width="1" />
<line x1="593.5" y1="669.85" x2="593.5" y2="673.25" stroke="#ee9a3e" stroke-width="0.9" />
<line x1="591.9" y1="669.85" x2="595.1" y2="669.85" stroke="#ee9a3e" stroke-width="0.9" />
<line x1="591.9" y1="673.25" x2="595.1" y2="673.25" stroke="#ee9a3e" stroke-width="0.9" />
<rect x="603.75" y="670.45" width="3.9" height="3.9" fill="#ee9a3e" stroke="none" stroke-width="1" />
<rect x="601.85" y="670.45" width="3.9" height="3.9" fill="#ee9a3e" stroke="none" stroke-width="1" />
<rect x="605.65" y="667.05" width="3.9" height="3.9" fill="#ee9a3e" stroke="none" stroke-width="1" />
<line x1="605.7" y1="669.85" x2="605.7" y2="673.25" stroke="#ee9a3e" stroke-width="0.9" />
<line x1="604.1" y1="669.85" x2="607.3" y2="669.85" stroke="#ee9a3e" stroke-width="0.9" />
<line x1="604.1" y1="673.25" x2="607.3" y2="673.25" stroke="#ee9a3e" stroke-width="0.9" />
<rect x="615.95" y="670.45" width="3.9" height="3.9" fill="#ee9a3e" stroke="none" stroke-width="1" />
<rect x="614.05" y="670.45" width="3.9" height="3.9" fill="#ee9a3e" stroke="none" stroke-width="1" />
<rect x="617.85" y="670.45" width="3.9" height="3.9" fill="#ee9a3e" stroke="none" stroke-width="1" />
<rect x="615" y="670.45" width="3.9" height="3.9" fill="#ee9a3e" stroke="none" stroke-width="1" />
<rect x="616.9" y="670.45" width="3.9" height="3.9" fill="#ee9a3e" stroke="none" stroke-width="1" />
<rect x="613.55" y="670.45" width="3.9" height="3.9" fill="#ee9a3e" stroke="none" stroke-width="1" />
<path d="M638.1,670 L640.25,673.87 L635.95,673.87 Z" stroke="none" stroke-width="1" fill="#f0737b" />
<path d="M636.2,670 L638.35,673.87 L634.05,673.87 Z" stroke="none" stroke-width="1" fill="#f0737b" />
<path d="M640,670 L642.15,673.87 L637.85,673.87 Z" stroke="none" stroke-width="1" fill="#f0737b" />
<path d="M637.15,670 L639.3,673.87 L635,673.87 Z" stroke="none" stroke-width="1" fill="#f0737b" />
<path d="M639.05,670 L641.2,673.87 L636.9,673.87 Z" stroke="none" stroke-width="1" fill="#f0737b" />
<path d="M650.3,670 L652.45,673.87 L648.15,673.87 Z" stroke="none" stroke-width="1" fill="#f0737b" />
<path d="M648.4,670 L650.55,673.87 L646.25,673.87 Z" stroke="none" stroke-width="1" fill="#f0737b" />
<path d="M652.2,668.3 L654.35,672.17 L650.05,672.17 Z" stroke="none" stroke-width="1" fill="#f0737b" />
<line x1="650.3" y1="670.7" x2="650.3" y2="672.4" stroke="#f0737b" stroke-width="0.9" />
<line x1="648.7" y1="670.7" x2="651.9" y2="670.7" stroke="#f0737b" stroke-width="0.9" />
<line x1="648.7" y1="672.4" x2="651.9" y2="672.4" stroke="#f0737b" stroke-width="0.9" />
<path d="M662.5,670 L664.65,673.87 L660.35,673.87 Z" stroke="none" stroke-width="1" fill="#f0737b" />
<path d="M660.6,666.6 L662.75,670.47 L658.45,670.47 Z" stroke="none" stroke-width="1" fill="#f0737b" />
<path d="M664.4,663.2 L666.55,667.07 L662.25,667.07 Z" stroke="none" stroke-width="1" fill="#f0737b" />
<line x1="662.5" y1="667.3" x2="662.5" y2="672.4" stroke="#f0737b" stroke-width="0.9" />
<line x1="660.9" y1="667.3" x2="664.1" y2="667.3" stroke="#f0737b" stroke-width="0.9" />
<line x1="660.9" y1="672.4" x2="664.1" y2="672.4" stroke="#f0737b" stroke-width="0.9" />
<path d="M674.7,670 L676.85,673.87 L672.55,673.87 Z" stroke="none" stroke-width="1" fill="#f0737b" />
<path d="M672.8,666.6 L674.95,670.47 L670.65,670.47 Z" stroke="none" stroke-width="1" fill="#f0737b" />
<path d="M676.6,663.2 L678.75,667.07 L674.45,667.07 Z" stroke="none" stroke-width="1" fill="#f0737b" />
<path d="M673.75,663.2 L675.9,667.07 L671.6,667.07 Z" stroke="none" stroke-width="1" fill="#f0737b" />
<line x1="674.7" y1="666.45" x2="674.7" y2="671.55" stroke="#f0737b" stroke-width="0.9" />
<line x1="673.1" y1="666.45" x2="676.3" y2="666.45" stroke="#f0737b" stroke-width="0.9" />
<line x1="673.1" y1="671.55" x2="676.3" y2="671.55" stroke="#f0737b" stroke-width="0.9" />
<path d="M524.5,633.3 L524.5,620.2 L561.1,620.2 L561.1,667.9" stroke="#333" stroke-width="1" fill="none" />
<text x="542.8" y="613.9" font-size="7.1" text-anchor="middle" fill="#1a1a1a" dominant-baseline="central" textLength="24.5" lengthAdjust="spacingAndGlyphs" >&gt;0.9999</text>
<path d="M524.5,651.4 L524.5,645.4 L548.9,645.4 L548.9,667.9" stroke="#333" stroke-width="1" fill="none" />
<text x="536.7" y="639.1" font-size="7.1" text-anchor="middle" fill="#1a1a1a" dominant-baseline="central" textLength="24.5" lengthAdjust="spacingAndGlyphs" >&gt;0.9999</text>
<path d="M524.5,667.9 L524.5,663.5 L536.7,663.5 L536.7,668" stroke="#333" stroke-width="1" fill="none" />
<text x="530.6" y="657.2" font-size="7.1" text-anchor="middle" fill="#1a1a1a" dominant-baseline="central" textLength="24.5" lengthAdjust="spacingAndGlyphs" >&gt;0.9999</text>
<path d="M581.3,632.4 L581.3,620.6 L617.9,620.6 L617.9,667.9" stroke="#333" stroke-width="1" fill="none" />
<text x="599.6" y="614.3" font-size="7.1" text-anchor="middle" fill="#1a1a1a" dominant-baseline="central" textLength="24.5" lengthAdjust="spacingAndGlyphs" >&gt;0.9999</text>
<path d="M581.3,651.2 L581.3,644.5 L605.7,644.5 L605.7,664.5" stroke="#333" stroke-width="1" fill="none" />
<text x="593.5" y="638.2" font-size="7.1" text-anchor="middle" fill="#1a1a1a" dominant-baseline="central" textLength="20.9" lengthAdjust="spacingAndGlyphs" >0.9209</text>
<path d="M581.3,667.9 L581.3,663.3 L593.5,663.3 L593.5,667.8" stroke="#333" stroke-width="1" fill="none" />
<text x="587.4" y="657" font-size="7.1" text-anchor="middle" fill="#1a1a1a" dominant-baseline="central" textLength="20.9" lengthAdjust="spacingAndGlyphs" >0.6130</text>
<path d="M638.1,632 L638.1,620.6 L674.7,620.6 L674.7,661.1" stroke="#333" stroke-width="1" fill="none" />
<text x="656.4" y="614.3" font-size="7.1" text-anchor="middle" fill="#1a1a1a" dominant-baseline="central" textLength="24.5" lengthAdjust="spacingAndGlyphs" >&lt;0.0001</text>
<path d="M638.1,651.2 L638.1,644.1 L662.5,644.1 L662.5,661.1" stroke="#333" stroke-width="1" fill="none" />
<text x="650.3" y="637.8" font-size="7.1" text-anchor="middle" fill="#1a1a1a" dominant-baseline="central" textLength="20.9" lengthAdjust="spacingAndGlyphs" >0.0017</text>
<path d="M638.1,667.9 L638.1,663.3 L650.3,663.3 L650.3,667.8" stroke="#333" stroke-width="1" fill="none" />
<text x="644.2" y="657" font-size="7.1" text-anchor="middle" fill="#1a1a1a" dominant-baseline="central" textLength="20.9" lengthAdjust="spacingAndGlyphs" >0.6130</text>
<text x="492.2" y="664.5" font-size="7.9" text-anchor="middle" fill="#111" dominant-baseline="central" font-weight="bold" transform="rotate(-90 492.2 664.5)" >Spleen</text>
<text x="501.3" y="664.5" font-size="7.9" font-weight="bold" fill="#111" text-anchor="middle" dominant-baseline="central" transform="rotate(-90 501.3 664.5)" textLength="61.4" lengthAdjust="spacingAndGlyphs">TCID<tspan font-size="4.4" dy="1.6">50</tspan><tspan dy="-1.6">/mL (Log</tspan><tspan font-size="4.4" dy="1.6">10</tspan><tspan dy="-1.6">)</tspan></text>
<circle cx="365.2" cy="739.7" r="1.9" fill="#7f84d6" stroke="none" stroke-width="1" />
<text x="376.1" y="739.6" font-size="8.4" text-anchor="start" fill="#222" dominant-baseline="central" textLength="13.2" lengthAdjust="spacingAndGlyphs" >ICR</text>
<rect x="451.9" y="737.8" width="3.8" height="3.8" fill="#ee9a3e" stroke="none" stroke-width="1" />
<text x="465" y="739.5" font-size="8.4" fill="#222" dominant-baseline="central">IFNAR1<tspan font-size="5.2" dy="-2.8">-/-</tspan></text>
<path d="M553.7,737.36 L555.8,741.14 L551.6,741.14 Z" stroke="none" stroke-width="1" fill="#f0737b" />
<text x="563.7" y="739.5" font-size="8.4" text-anchor="start" fill="#222" dominant-baseline="central" textLength="19" lengthAdjust="spacingAndGlyphs" >SCID</text>
<text x="7.2" y="468.6" font-size="19.5" text-anchor="start" fill="#000" dominant-baseline="alphabetic" font-weight="bold" >l</text>
<line x1="49.5" y1="485.1" x2="49.5" y2="570.1" stroke="#333333" stroke-width="1.1" />
<line x1="49.5" y1="570.1" x2="217" y2="570.1" stroke="#333333" stroke-width="1.1" />
<line x1="46.7" y1="570.1" x2="49.5" y2="570.1" stroke="#333333" stroke-width="1" />
<text x="45.9" y="570.1" font-size="6.6" text-anchor="end" fill="#222" dominant-baseline="central" >0</text>
<line x1="46.7" y1="553.1" x2="49.5" y2="553.1" stroke="#333333" stroke-width="1" />
<text x="45.9" y="553.1" font-size="6.6" text-anchor="end" fill="#222" dominant-baseline="central" >2</text>
<line x1="46.7" y1="536.1" x2="49.5" y2="536.1" stroke="#333333" stroke-width="1" />
<text x="45.9" y="536.1" font-size="6.6" text-anchor="end" fill="#222" dominant-baseline="central" >4</text>
<line x1="46.7" y1="519.1" x2="49.5" y2="519.1" stroke="#333333" stroke-width="1" />
<text x="45.9" y="519.1" font-size="6.6" text-anchor="end" fill="#222" dominant-baseline="central" >6</text>
<line x1="46.7" y1="502.1" x2="49.5" y2="502.1" stroke="#333333" stroke-width="1" />
<text x="45.9" y="502.1" font-size="6.6" text-anchor="end" fill="#222" dominant-baseline="central" >8</text>
<line x1="46.7" y1="485.1" x2="49.5" y2="485.1" stroke="#333333" stroke-width="1" />
<text x="45.9" y="485.1" font-size="6.6" text-anchor="end" fill="#222" dominant-baseline="central" >10</text>
<line x1="54.5" y1="570.1" x2="54.5" y2="572.6" stroke="#333333" stroke-width="1" />
<text x="54.5" y="578.7" font-size="6.8" text-anchor="middle" fill="#222" dominant-baseline="central" >0</text>
<line x1="50.7" y1="569.5" x2="54.1" y2="569.5" stroke="#f0737b" stroke-width="1" />
<line x1="55.8" y1="569.5" x2="58.7" y2="569.5" stroke="#777" stroke-width="1.1" />
<line x1="65.68" y1="570.1" x2="65.68" y2="572.6" stroke="#333333" stroke-width="1" />
<text x="65.68" y="578.7" font-size="6.8" text-anchor="middle" fill="#222" dominant-baseline="central" >2</text>
<line x1="61.88" y1="569.5" x2="65.28" y2="569.5" stroke="#f0737b" stroke-width="1" />
<line x1="66.98" y1="569.5" x2="69.88" y2="569.5" stroke="#777" stroke-width="1.1" />
<line x1="76.86" y1="570.1" x2="76.86" y2="572.6" stroke="#333333" stroke-width="1" />
<text x="76.86" y="578.7" font-size="6.8" text-anchor="middle" fill="#222" dominant-baseline="central" >4</text>
<rect x="73.36" y="568.83" width="2.8" height="1.27" fill="none" stroke="#f0737b" stroke-width="0.9" />
<line x1="74.76" y1="563.1" x2="74.76" y2="568.83" stroke="#f0737b" stroke-width="0.6" opacity="0.7"/>
<rect x="73.86" y="560.7" width="1.8" height="1.8" fill="#f0737b" stroke="none" stroke-width="1" />
<line x1="78.16" y1="569.5" x2="81.06" y2="569.5" stroke="#777" stroke-width="1.1" />
<line x1="88.04" y1="570.1" x2="88.04" y2="572.6" stroke="#333333" stroke-width="1" />
<text x="88.04" y="578.7" font-size="6.8" text-anchor="middle" fill="#222" dominant-baseline="central" >6</text>
<rect x="84.54" y="566.7" width="2.8" height="3.4" fill="none" stroke="#f0737b" stroke-width="0.9" />
<line x1="85.94" y1="563.1" x2="85.94" y2="566.7" stroke="#f0737b" stroke-width="0.6" opacity="0.7"/>
<rect x="85.04" y="560.7" width="1.8" height="1.8" fill="#f0737b" stroke="none" stroke-width="1" />
<line x1="89.34" y1="569.5" x2="92.24" y2="569.5" stroke="#777" stroke-width="1.1" />
<line x1="99.22" y1="570.1" x2="99.22" y2="572.6" stroke="#333333" stroke-width="1" />
<text x="99.22" y="578.7" font-size="6.8" text-anchor="middle" fill="#222" dominant-baseline="central" >8</text>
<rect x="95.72" y="561.6" width="2.8" height="8.5" fill="none" stroke="#f0737b" stroke-width="0.9" />
<rect x="96.22" y="560.7" width="1.8" height="1.8" fill="#f0737b" stroke="none" stroke-width="1" />
<line x1="100.52" y1="569.5" x2="103.42" y2="569.5" stroke="#777" stroke-width="1.1" />
<line x1="110.4" y1="570.1" x2="110.4" y2="572.6" stroke="#333333" stroke-width="1" />
<text x="110.4" y="578.7" font-size="6.8" text-anchor="middle" fill="#222" dominant-baseline="central" >10</text>
<rect x="106.9" y="561.6" width="2.8" height="8.5" fill="none" stroke="#f0737b" stroke-width="0.9" />
<rect x="107.4" y="560.7" width="1.8" height="1.8" fill="#f0737b" stroke="none" stroke-width="1" />
<line x1="111.7" y1="569.5" x2="114.6" y2="569.5" stroke="#777" stroke-width="1.1" />
<line x1="121.58" y1="570.1" x2="121.58" y2="572.6" stroke="#333333" stroke-width="1" />
<text x="121.58" y="578.7" font-size="6.8" text-anchor="middle" fill="#222" dominant-baseline="central" >12</text>
<rect x="118.08" y="560.75" width="2.8" height="9.35" fill="none" stroke="#f0737b" stroke-width="0.9" />
<line x1="119.48" y1="554.6" x2="119.48" y2="560.75" stroke="#f0737b" stroke-width="0.6" opacity="0.7"/>
<rect x="118.58" y="560.7" width="1.8" height="1.8" fill="#f0737b" stroke="none" stroke-width="1" />
<rect x="118.58" y="552.2" width="1.8" height="1.8" fill="#f0737b" stroke="none" stroke-width="1" />
<line x1="122.88" y1="569.5" x2="125.78" y2="569.5" stroke="#777" stroke-width="1.1" />
<line x1="132.76" y1="570.1" x2="132.76" y2="572.6" stroke="#333333" stroke-width="1" />
<text x="132.76" y="578.7" font-size="6.8" text-anchor="middle" fill="#222" dominant-baseline="central" >14</text>
<rect x="129.26" y="559.9" width="2.8" height="10.2" fill="none" stroke="#f0737b" stroke-width="0.9" />
<line x1="130.66" y1="554.6" x2="130.66" y2="559.9" stroke="#f0737b" stroke-width="0.6" opacity="0.7"/>
<rect x="129.76" y="560.7" width="1.8" height="1.8" fill="#f0737b" stroke="none" stroke-width="1" />
<rect x="129.76" y="552.2" width="1.8" height="1.8" fill="#f0737b" stroke="none" stroke-width="1" />
<line x1="134.06" y1="569.5" x2="136.96" y2="569.5" stroke="#777" stroke-width="1.1" />
<line x1="143.94" y1="570.1" x2="143.94" y2="572.6" stroke="#333333" stroke-width="1" />
<text x="143.94" y="578.7" font-size="6.8" text-anchor="middle" fill="#222" dominant-baseline="central" >16</text>
<rect x="140.44" y="559.9" width="2.8" height="10.2" fill="none" stroke="#f0737b" stroke-width="0.9" />
<line x1="141.84" y1="554.6" x2="141.84" y2="559.9" stroke="#f0737b" stroke-width="0.6" opacity="0.7"/>
<rect x="140.94" y="560.7" width="1.8" height="1.8" fill="#f0737b" stroke="none" stroke-width="1" />
<rect x="140.94" y="552.2" width="1.8" height="1.8" fill="#f0737b" stroke="none" stroke-width="1" />
<line x1="145.24" y1="569.5" x2="148.14" y2="569.5" stroke="#777" stroke-width="1.1" />
<line x1="155.12" y1="570.1" x2="155.12" y2="572.6" stroke="#333333" stroke-width="1" />
<text x="155.12" y="578.7" font-size="6.8" text-anchor="middle" fill="#222" dominant-baseline="central" >18</text>
<rect x="151.62" y="559.9" width="2.8" height="10.2" fill="none" stroke="#f0737b" stroke-width="0.9" />
<line x1="153.02" y1="554.6" x2="153.02" y2="559.9" stroke="#f0737b" stroke-width="0.6" opacity="0.7"/>
<rect x="152.12" y="560.7" width="1.8" height="1.8" fill="#f0737b" stroke="none" stroke-width="1" />
<rect x="152.12" y="552.2" width="1.8" height="1.8" fill="#f0737b" stroke="none" stroke-width="1" />
<line x1="156.42" y1="569.5" x2="159.32" y2="569.5" stroke="#777" stroke-width="1.1" />
<line x1="166.3" y1="570.1" x2="166.3" y2="572.6" stroke="#333333" stroke-width="1" />
<text x="166.3" y="578.7" font-size="6.8" text-anchor="middle" fill="#222" dominant-baseline="central" >20</text>
<rect x="162.8" y="553.1" width="2.8" height="17" fill="none" stroke="#f0737b" stroke-width="0.9" />
<line x1="164.2" y1="546.1" x2="164.2" y2="553.1" stroke="#f0737b" stroke-width="0.6" opacity="0.7"/>
<rect x="163.3" y="560.7" width="1.8" height="1.8" fill="#f0737b" stroke="none" stroke-width="1" />
<rect x="163.3" y="552.2" width="1.8" height="1.8" fill="#f0737b" stroke="none" stroke-width="1" />
<rect x="163.3" y="543.7" width="1.8" height="1.8" fill="#f0737b" stroke="none" stroke-width="1" />
<line x1="167.6" y1="569.5" x2="170.5" y2="569.5" stroke="#777" stroke-width="1.1" />
<line x1="177.48" y1="570.1" x2="177.48" y2="572.6" stroke="#333333" stroke-width="1" />
<text x="177.48" y="578.7" font-size="6.8" text-anchor="middle" fill="#222" dominant-baseline="central" >22</text>
<rect x="173.98" y="544.6" width="2.8" height="25.5" fill="none" stroke="#f0737b" stroke-width="0.9" />
<line x1="175.38" y1="537.6" x2="175.38" y2="544.6" stroke="#f0737b" stroke-width="0.6" opacity="0.7"/>
<rect x="174.48" y="552.2" width="1.8" height="1.8" fill="#f0737b" stroke="none" stroke-width="1" />
<rect x="174.48" y="543.7" width="1.8" height="1.8" fill="#f0737b" stroke="none" stroke-width="1" />
<rect x="174.48" y="535.2" width="1.8" height="1.8" fill="#f0737b" stroke="none" stroke-width="1" />
<line x1="178.78" y1="569.5" x2="181.68" y2="569.5" stroke="#777" stroke-width="1.1" />
<line x1="188.66" y1="570.1" x2="188.66" y2="572.6" stroke="#333333" stroke-width="1" />
<text x="188.66" y="578.7" font-size="6.8" text-anchor="middle" fill="#222" dominant-baseline="central" >24</text>
<rect x="185.16" y="531.85" width="2.8" height="38.25" fill="none" stroke="#f0737b" stroke-width="0.9" />
<line x1="186.56" y1="529.1" x2="186.56" y2="531.85" stroke="#f0737b" stroke-width="0.6" opacity="0.7"/>
<rect x="185.66" y="543.7" width="1.8" height="1.8" fill="#f0737b" stroke="none" stroke-width="1" />
<rect x="185.66" y="535.2" width="1.8" height="1.8" fill="#f0737b" stroke="none" stroke-width="1" />
<rect x="185.66" y="526.7" width="1.8" height="1.8" fill="#f0737b" stroke="none" stroke-width="1" />
<line x1="189.96" y1="569.5" x2="192.86" y2="569.5" stroke="#777" stroke-width="1.1" />
<line x1="199.84" y1="570.1" x2="199.84" y2="572.6" stroke="#333333" stroke-width="1" />
<text x="199.84" y="578.7" font-size="6.8" text-anchor="middle" fill="#222" dominant-baseline="central" >26</text>
<rect x="196.34" y="527.6" width="2.8" height="42.5" fill="none" stroke="#f0737b" stroke-width="0.9" />
<rect x="196.84" y="526.7" width="1.8" height="1.8" fill="#f0737b" stroke="none" stroke-width="1" />
<line x1="201.14" y1="569.5" x2="204.04" y2="569.5" stroke="#777" stroke-width="1.1" />
<line x1="211.02" y1="570.1" x2="211.02" y2="572.6" stroke="#333333" stroke-width="1" />
<text x="211.02" y="578.7" font-size="6.8" text-anchor="middle" fill="#222" dominant-baseline="central" >28</text>
<rect x="207.52" y="527.6" width="2.8" height="42.5" fill="none" stroke="#f0737b" stroke-width="0.9" />
<line x1="208.92" y1="520.6" x2="208.92" y2="527.6" stroke="#f0737b" stroke-width="0.6" opacity="0.7"/>
<rect x="208.02" y="535.2" width="1.8" height="1.8" fill="#f0737b" stroke="none" stroke-width="1" />
<rect x="208.02" y="526.7" width="1.8" height="1.8" fill="#f0737b" stroke="none" stroke-width="1" />
<rect x="208.02" y="518.2" width="1.8" height="1.8" fill="#f0737b" stroke="none" stroke-width="1" />
<line x1="212.32" y1="569.5" x2="215.22" y2="569.5" stroke="#777" stroke-width="1.1" />
<text x="216.9" y="578.7" font-size="6.8" text-anchor="start" fill="#222" dominant-baseline="central" >dpi</text>
<circle cx="62" cy="496.4" r="0.9" fill="#f0737b" stroke="none" stroke-width="1" />
<text x="71.8" y="496.4" font-size="6.9" text-anchor="start" fill="#222" dominant-baseline="central" textLength="16.5" lengthAdjust="spacingAndGlyphs" >SCID</text>
<circle cx="62" cy="508" r="0.9" fill="#333" stroke="none" stroke-width="1" />
<text x="71.8" y="508" font-size="6.9" text-anchor="start" fill="#222" dominant-baseline="central" textLength="23.5" lengthAdjust="spacingAndGlyphs" >Control</text>
<text x="31" y="527.8" font-size="8" text-anchor="middle" fill="#111" dominant-baseline="central" font-weight="bold" textLength="46.5" lengthAdjust="spacingAndGlyphs" transform="rotate(-90 31 527.8)" >Disease Score</text>
<text x="0.2" y="609" font-size="19.5" text-anchor="start" fill="#000" dominant-baseline="alphabetic" font-weight="bold" >m</text>
<line x1="50.3" y1="621.2" x2="50.3" y2="706.2" stroke="#333333" stroke-width="1.1" />
<line x1="50.3" y1="706.2" x2="216.95" y2="706.2" stroke="#333333" stroke-width="1.1" />
<line x1="47.3" y1="706.2" x2="50.3" y2="706.2" stroke="#333333" stroke-width="0.9" />
<line x1="48.6" y1="702.33" x2="50.3" y2="702.33" stroke="#333333" stroke-width="0.9" />
<line x1="48.6" y1="698.46" x2="50.3" y2="698.46" stroke="#333333" stroke-width="0.9" />
<line x1="48.6" y1="694.59" x2="50.3" y2="694.59" stroke="#333333" stroke-width="0.9" />
<line x1="48.6" y1="690.72" x2="50.3" y2="690.72" stroke="#333333" stroke-width="0.9" />
<line x1="48.6" y1="686.85" x2="50.3" y2="686.85" stroke="#333333" stroke-width="0.9" />
<line x1="48.6" y1="682.98" x2="50.3" y2="682.98" stroke="#333333" stroke-width="0.9" />
<line x1="48.6" y1="679.11" x2="50.3" y2="679.11" stroke="#333333" stroke-width="0.9" />
<line x1="48.6" y1="675.24" x2="50.3" y2="675.24" stroke="#333333" stroke-width="0.9" />
<line x1="48.6" y1="671.37" x2="50.3" y2="671.37" stroke="#333333" stroke-width="0.9" />
<line x1="47.3" y1="667.5" x2="50.3" y2="667.5" stroke="#333333" stroke-width="0.9" />
<line x1="48.6" y1="663.63" x2="50.3" y2="663.63" stroke="#333333" stroke-width="0.9" />
<line x1="48.6" y1="659.76" x2="50.3" y2="659.76" stroke="#333333" stroke-width="0.9" />
<line x1="48.6" y1="655.89" x2="50.3" y2="655.89" stroke="#333333" stroke-width="0.9" />
<line x1="48.6" y1="652.02" x2="50.3" y2="652.02" stroke="#333333" stroke-width="0.9" />
<line x1="48.6" y1="648.15" x2="50.3" y2="648.15" stroke="#333333" stroke-width="0.9" />
<line x1="48.6" y1="644.28" x2="50.3" y2="644.28" stroke="#333333" stroke-width="0.9" />
<line x1="48.6" y1="640.41" x2="50.3" y2="640.41" stroke="#333333" stroke-width="0.9" />
<line x1="48.6" y1="636.54" x2="50.3" y2="636.54" stroke="#333333" stroke-width="0.9" />
<line x1="48.6" y1="632.67" x2="50.3" y2="632.67" stroke="#333333" stroke-width="0.9" />
<line x1="47.3" y1="628.8" x2="50.3" y2="628.8" stroke="#333333" stroke-width="0.9" />
<line x1="48.6" y1="624.93" x2="50.3" y2="624.93" stroke="#333333" stroke-width="0.9" />
<line x1="48.6" y1="621.06" x2="50.3" y2="621.06" stroke="#333333" stroke-width="0.9" />
<text x="46.7" y="706.2" font-size="6.9" text-anchor="end" fill="#222" dominant-baseline="central" >0</text>
<text x="46.7" y="667.5" font-size="6.9" text-anchor="end" fill="#222" dominant-baseline="central" >50</text>
<text x="46.7" y="628.8" font-size="6.9" text-anchor="end" fill="#222" dominant-baseline="central" >100</text>
<line x1="50.3" y1="706.2" x2="50.3" y2="709.2" stroke="#333333" stroke-width="0.9" />
<line x1="55.85" y1="706.2" x2="55.85" y2="708" stroke="#333333" stroke-width="0.9" />
<line x1="61.41" y1="706.2" x2="61.41" y2="708" stroke="#333333" stroke-width="0.9" />
<line x1="66.97" y1="706.2" x2="66.97" y2="708" stroke="#333333" stroke-width="0.9" />
<line x1="72.52" y1="706.2" x2="72.52" y2="708" stroke="#333333" stroke-width="0.9" />
<line x1="78.07" y1="706.2" x2="78.07" y2="708" stroke="#333333" stroke-width="0.9" />
<line x1="83.63" y1="706.2" x2="83.63" y2="708" stroke="#333333" stroke-width="0.9" />
<line x1="89.19" y1="706.2" x2="89.19" y2="708" stroke="#333333" stroke-width="0.9" />
<line x1="94.74" y1="706.2" x2="94.74" y2="708" stroke="#333333" stroke-width="0.9" />
<line x1="100.29" y1="706.2" x2="100.29" y2="708" stroke="#333333" stroke-width="0.9" />
<line x1="105.85" y1="706.2" x2="105.85" y2="709.2" stroke="#333333" stroke-width="0.9" />
<line x1="111.41" y1="706.2" x2="111.41" y2="708" stroke="#333333" stroke-width="0.9" />
<line x1="116.96" y1="706.2" x2="116.96" y2="708" stroke="#333333" stroke-width="0.9" />
<line x1="122.52" y1="706.2" x2="122.52" y2="708" stroke="#333333" stroke-width="0.9" />
<line x1="128.07" y1="706.2" x2="128.07" y2="708" stroke="#333333" stroke-width="0.9" />
<line x1="133.62" y1="706.2" x2="133.62" y2="708" stroke="#333333" stroke-width="0.9" />
<line x1="139.18" y1="706.2" x2="139.18" y2="708" stroke="#333333" stroke-width="0.9" />
<line x1="144.74" y1="706.2" x2="144.74" y2="708" stroke="#333333" stroke-width="0.9" />
<line x1="150.29" y1="706.2" x2="150.29" y2="708" stroke="#333333" stroke-width="0.9" />
<line x1="155.84" y1="706.2" x2="155.84" y2="708" stroke="#333333" stroke-width="0.9" />
<line x1="161.4" y1="706.2" x2="161.4" y2="709.2" stroke="#333333" stroke-width="0.9" />
<line x1="166.95" y1="706.2" x2="166.95" y2="708" stroke="#333333" stroke-width="0.9" />
<line x1="172.51" y1="706.2" x2="172.51" y2="708" stroke="#333333" stroke-width="0.9" />
<line x1="178.06" y1="706.2" x2="178.06" y2="708" stroke="#333333" stroke-width="0.9" />
<line x1="183.62" y1="706.2" x2="183.62" y2="708" stroke="#333333" stroke-width="0.9" />
<line x1="189.18" y1="706.2" x2="189.18" y2="708" stroke="#333333" stroke-width="0.9" />
<line x1="194.73" y1="706.2" x2="194.73" y2="708" stroke="#333333" stroke-width="0.9" />
<line x1="200.28" y1="706.2" x2="200.28" y2="708" stroke="#333333" stroke-width="0.9" />
<line x1="205.84" y1="706.2" x2="205.84" y2="708" stroke="#333333" stroke-width="0.9" />
<line x1="211.39" y1="706.2" x2="211.39" y2="708" stroke="#333333" stroke-width="0.9" />
<line x1="216.95" y1="706.2" x2="216.95" y2="709.2" stroke="#333333" stroke-width="0.9" />
<text x="48.85" y="714.9" font-size="6.8" text-anchor="start" fill="#222" dominant-baseline="central" textLength="3.7" lengthAdjust="spacingAndGlyphs" >0</text>
<text x="53.55" y="714.9" font-size="6.8" text-anchor="start" fill="#222" dominant-baseline="central" textLength="8.7" lengthAdjust="spacingAndGlyphs" >dpi</text>
<text x="102.55" y="714.9" font-size="6.8" text-anchor="start" fill="#222" dominant-baseline="central" textLength="7.4" lengthAdjust="spacingAndGlyphs" >10</text>
<text x="110.95" y="714.9" font-size="6.8" text-anchor="start" fill="#222" dominant-baseline="central" textLength="8.7" lengthAdjust="spacingAndGlyphs" >dpi</text>
<text x="158.1" y="714.9" font-size="6.8" text-anchor="start" fill="#222" dominant-baseline="central" textLength="7.4" lengthAdjust="spacingAndGlyphs" >20</text>
<text x="166.5" y="714.9" font-size="6.8" text-anchor="start" fill="#222" dominant-baseline="central" textLength="8.7" lengthAdjust="spacingAndGlyphs" >dpi</text>
<text x="213.65" y="714.9" font-size="6.8" text-anchor="start" fill="#222" dominant-baseline="central" textLength="7.4" lengthAdjust="spacingAndGlyphs" >30</text>
<text x="222.05" y="714.9" font-size="6.8" text-anchor="start" fill="#222" dominant-baseline="central" textLength="8.7" lengthAdjust="spacingAndGlyphs" >dpi</text>
<line x1="50.3" y1="628.8" x2="205.84" y2="628.8" stroke="#f3a0a6" stroke-width="0.9" />
<path d="M50.3,627.44 L51.25,629.15 L49.35,629.15 Z" stroke="none" stroke-width="1" fill="#f0737b" />
<path d="M55.85,627.44 L56.8,629.15 L54.9,629.15 Z" stroke="none" stroke-width="1" fill="#f0737b" />
<path d="M61.41,627.44 L62.36,629.15 L60.46,629.15 Z" stroke="none" stroke-width="1" fill="#f0737b" />
<path d="M66.97,627.44 L67.92,629.15 L66.02,629.15 Z" stroke="none" stroke-width="1" fill="#f0737b" />
<path d="M72.52,627.44 L73.47,629.15 L71.57,629.15 Z" stroke="none" stroke-width="1" fill="#f0737b" />
<path d="M78.07,627.44 L79.02,629.15 L77.12,629.15 Z" stroke="none" stroke-width="1" fill="#f0737b" />
<path d="M83.63,627.44 L84.58,629.15 L82.68,629.15 Z" stroke="none" stroke-width="1" fill="#f0737b" />
<path d="M89.19,627.44 L90.14,629.15 L88.23,629.15 Z" stroke="none" stroke-width="1" fill="#f0737b" />
<path d="M94.74,627.44 L95.69,629.15 L93.79,629.15 Z" stroke="none" stroke-width="1" fill="#f0737b" />
<path d="M100.29,627.44 L101.24,629.15 L99.34,629.15 Z" stroke="none" stroke-width="1" fill="#f0737b" />
<path d="M105.85,627.44 L106.8,629.15 L104.9,629.15 Z" stroke="none" stroke-width="1" fill="#f0737b" />
<path d="M111.41,627.44 L112.36,629.15 L110.45,629.15 Z" stroke="none" stroke-width="1" fill="#f0737b" />
<path d="M116.96,627.44 L117.91,629.15 L116.01,629.15 Z" stroke="none" stroke-width="1" fill="#f0737b" />
<path d="M122.52,627.44 L123.47,629.15 L121.56,629.15 Z" stroke="none" stroke-width="1" fill="#f0737b" />
<path d="M128.07,627.44 L129.02,629.15 L127.12,629.15 Z" stroke="none" stroke-width="1" fill="#f0737b" />
<path d="M133.62,627.44 L134.57,629.15 L132.68,629.15 Z" stroke="none" stroke-width="1" fill="#f0737b" />
<path d="M139.18,627.44 L140.13,629.15 L138.23,629.15 Z" stroke="none" stroke-width="1" fill="#f0737b" />
<path d="M144.74,627.44 L145.69,629.15 L143.79,629.15 Z" stroke="none" stroke-width="1" fill="#f0737b" />
<path d="M150.29,627.44 L151.24,629.15 L149.34,629.15 Z" stroke="none" stroke-width="1" fill="#f0737b" />
<path d="M155.84,627.44 L156.79,629.15 L154.89,629.15 Z" stroke="none" stroke-width="1" fill="#f0737b" />
<path d="M161.4,627.44 L162.35,629.15 L160.45,629.15 Z" stroke="none" stroke-width="1" fill="#f0737b" />
<path d="M166.95,627.44 L167.9,629.15 L166,629.15 Z" stroke="none" stroke-width="1" fill="#f0737b" />
<path d="M172.51,627.44 L173.46,629.15 L171.56,629.15 Z" stroke="none" stroke-width="1" fill="#f0737b" />
<path d="M178.06,627.44 L179.01,629.15 L177.12,629.15 Z" stroke="none" stroke-width="1" fill="#f0737b" />
<path d="M183.62,627.44 L184.57,629.15 L182.67,629.15 Z" stroke="none" stroke-width="1" fill="#f0737b" />
<path d="M189.18,627.44 L190.12,629.15 L188.23,629.15 Z" stroke="none" stroke-width="1" fill="#f0737b" />
<path d="M194.73,627.44 L195.68,629.15 L193.78,629.15 Z" stroke="none" stroke-width="1" fill="#f0737b" />
<path d="M200.28,627.44 L201.23,629.15 L199.33,629.15 Z" stroke="none" stroke-width="1" fill="#f0737b" />
<path d="M205.84,627.44 L206.79,629.15 L204.89,629.15 Z" stroke="none" stroke-width="1" fill="#f0737b" />
<text x="33.3" y="668.3" font-size="8.6" text-anchor="middle" fill="#222" dominant-baseline="central" textLength="57.7" lengthAdjust="spacingAndGlyphs" transform="rotate(-90 33.3 668.3)" >Survival rate（%）</text>
<line x1="171.7" y1="681.2" x2="180" y2="681.2" stroke="#f3a0a6" stroke-width="0.8" />
<path d="M175.8,679.94 L176.75,681.65 L174.85,681.65 Z" stroke="none" stroke-width="1" fill="#f0737b" />
<text x="186" y="681.2" font-size="6.9" text-anchor="start" fill="#222" dominant-baseline="central" textLength="16.5" lengthAdjust="spacingAndGlyphs" >SCID</text>
<line x1="171.7" y1="692.7" x2="180" y2="692.7" stroke="#333" stroke-width="0.8" />
<path d="M175.8,691.44 L176.75,693.15 L174.85,693.15 Z" stroke="none" stroke-width="1" fill="#333" />
<text x="186" y="692.7" font-size="6.9" text-anchor="start" fill="#222" dominant-baseline="central" textLength="23.5" lengthAdjust="spacingAndGlyphs" >Control</text>
</svg>
</body></html>
